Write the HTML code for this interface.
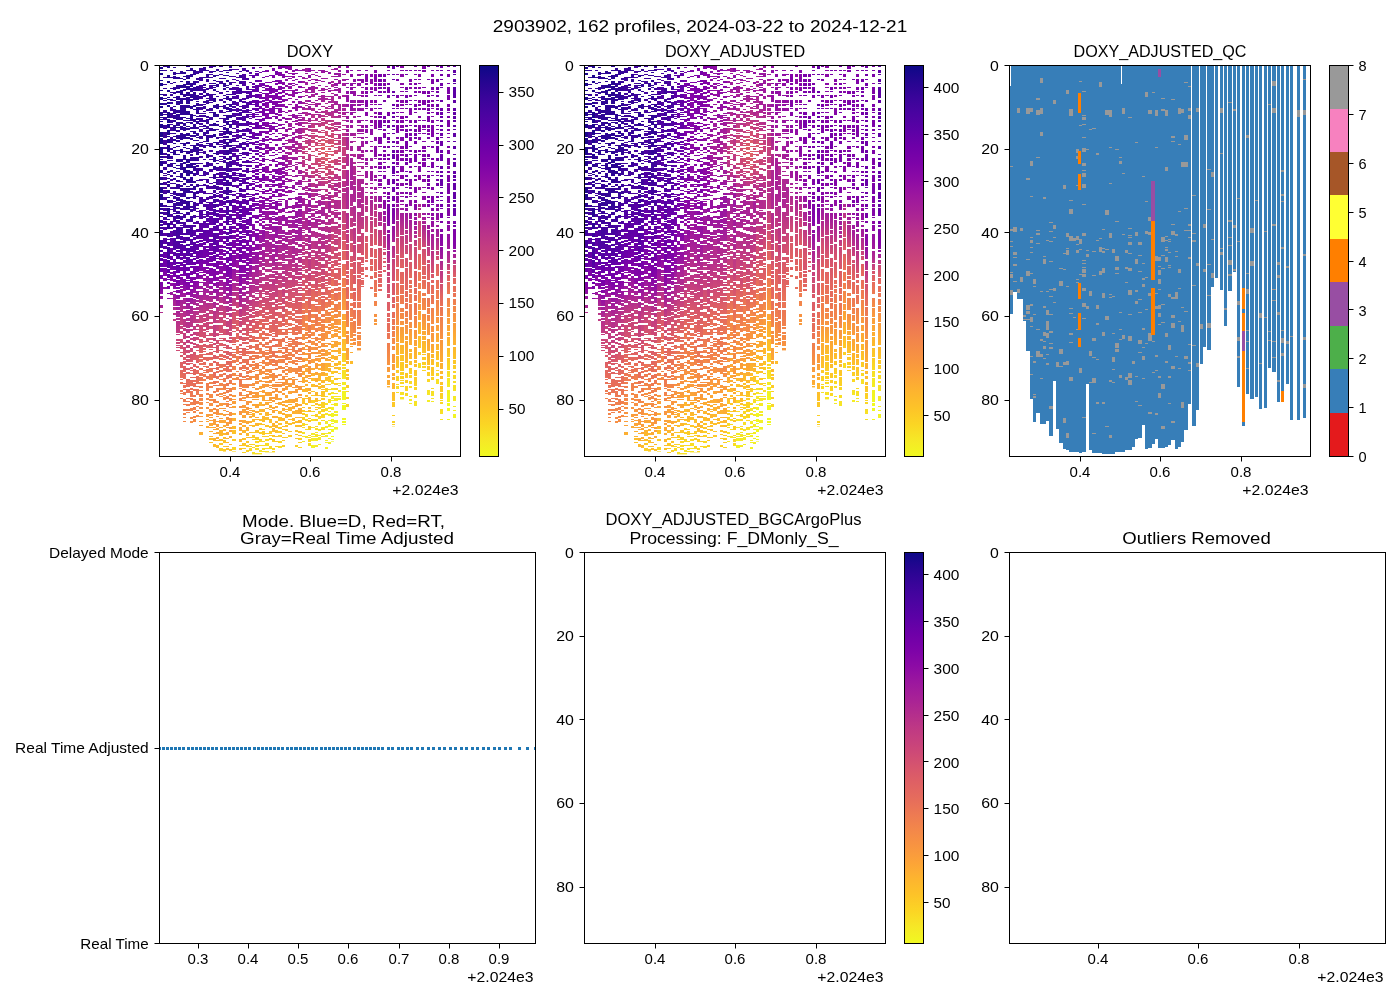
<!DOCTYPE html><html><head><meta charset="utf-8"><title>2903902 DOXY</title><style>html,body{margin:0;padding:0;background:#fff}svg{display:block}text{font-family:"Liberation Sans",sans-serif;fill:#000}</style></head><body>
<svg width="1400" height="1000" viewBox="0 0 1400 1000">
<rect width="1400" height="1000" fill="#fff"/>
<defs>
<linearGradient id="cb" x1="0" y1="0" x2="0" y2="1"><stop offset="0%" stop-color="#0d0887"/><stop offset="4.2%" stop-color="#260591"/><stop offset="8.3%" stop-color="#3a049a"/><stop offset="12.5%" stop-color="#4b03a1"/><stop offset="16.7%" stop-color="#5c01a6"/><stop offset="20.8%" stop-color="#6e00a8"/><stop offset="25%" stop-color="#7d03a8"/><stop offset="29.2%" stop-color="#8d0ba5"/><stop offset="33.3%" stop-color="#9c179e"/><stop offset="37.5%" stop-color="#a82296"/><stop offset="41.7%" stop-color="#b52f8c"/><stop offset="45.8%" stop-color="#c13b82"/><stop offset="50%" stop-color="#cb4679"/><stop offset="54.2%" stop-color="#d5536f"/><stop offset="58.3%" stop-color="#de5f65"/><stop offset="62.5%" stop-color="#e56b5d"/><stop offset="66.7%" stop-color="#ed7953"/><stop offset="70.8%" stop-color="#f3874a"/><stop offset="75%" stop-color="#f89441"/><stop offset="79.2%" stop-color="#fca338"/><stop offset="83.3%" stop-color="#fdb42f"/><stop offset="87.5%" stop-color="#fdc328"/><stop offset="91.7%" stop-color="#fbd524"/><stop offset="95.8%" stop-color="#f6e826"/><stop offset="100%" stop-color="#f0f921"/></linearGradient>
<linearGradient id="g" gradientUnits="userSpaceOnUse" x1="0" y1="65.5" x2="0" y2="484.2"/>
<linearGradient id="g0" href="#g"><stop offset="." stop-color="#1b068d"/><stop offset=".05" stop-color="#19068c"/><stop offset=".1" stop-color="#20068f"/><stop offset=".15" stop-color="#1b068d"/><stop offset=".2" stop-color="#1b068d"/><stop offset=".25" stop-color="#260591"/><stop offset=".3" stop-color="#20068f"/><stop offset=".33" stop-color="#260591"/><stop offset=".36" stop-color="#310597"/><stop offset=".4" stop-color="#3e049c"/><stop offset=".43" stop-color="#46039f"/><stop offset=".46" stop-color="#5601a4"/><stop offset=".48" stop-color="#6300a7"/><stop offset=".5" stop-color="#7201a8"/><stop offset=".52" stop-color="#7d03a8"/><stop offset=".55" stop-color="#9511a1"/><stop offset=".6" stop-color="#b83289"/></linearGradient>
<linearGradient id="g1" href="#g"><stop offset="." stop-color="#38049a"/><stop offset=".05" stop-color="#3a049a"/><stop offset=".1" stop-color="#310597"/><stop offset=".15" stop-color="#3a049a"/><stop offset=".2" stop-color="#3f049c"/><stop offset=".25" stop-color="#3e049c"/><stop offset=".3" stop-color="#46039f"/><stop offset=".33" stop-color="#3e049c"/><stop offset=".36" stop-color="#46039f"/><stop offset=".4" stop-color="#5502a4"/><stop offset=".43" stop-color="#5801a4"/><stop offset=".46" stop-color="#6a00a8"/><stop offset=".48" stop-color="#6e00a8"/><stop offset=".5" stop-color="#8104a7"/><stop offset=".52" stop-color="#8a09a5"/><stop offset=".55" stop-color="#a11b9b"/></linearGradient>
<linearGradient id="g2" href="#g"><stop offset="." stop-color="#20068f"/><stop offset=".05" stop-color="#19068c"/><stop offset=".1" stop-color="#1d068e"/><stop offset=".15" stop-color="#1b068d"/><stop offset=".2" stop-color="#220690"/><stop offset=".25" stop-color="#280592"/><stop offset=".3" stop-color="#2c0594"/><stop offset=".33" stop-color="#260591"/><stop offset=".36" stop-color="#240691"/><stop offset=".4" stop-color="#38049a"/><stop offset=".43" stop-color="#46039f"/><stop offset=".46" stop-color="#48039f"/><stop offset=".48" stop-color="#5801a4"/><stop offset=".5" stop-color="#6400a7"/><stop offset=".52" stop-color="#7100a8"/><stop offset=".55" stop-color="#8a09a5"/><stop offset=".6" stop-color="#b02991"/></linearGradient>
<linearGradient id="g3" href="#g"><stop offset="." stop-color="#38049a"/><stop offset=".05" stop-color="#350498"/><stop offset=".1" stop-color="#3a049a"/><stop offset=".15" stop-color="#3f049c"/><stop offset=".2" stop-color="#38049a"/><stop offset=".25" stop-color="#350498"/><stop offset=".3" stop-color="#3f049c"/><stop offset=".33" stop-color="#46039f"/><stop offset=".36" stop-color="#4c02a1"/><stop offset=".4" stop-color="#5801a4"/><stop offset=".43" stop-color="#6001a6"/><stop offset=".46" stop-color="#6e00a8"/><stop offset=".48" stop-color="#6f00a8"/><stop offset=".5" stop-color="#8104a7"/><stop offset=".52" stop-color="#8e0ca4"/><stop offset=".55" stop-color="#a01a9c"/><stop offset=".6" stop-color="#c03a83"/></linearGradient>
<linearGradient id="g4" href="#g"><stop offset="." stop-color="#2c0594"/><stop offset=".05" stop-color="#2f0596"/><stop offset=".1" stop-color="#350498"/><stop offset=".15" stop-color="#2c0594"/><stop offset=".2" stop-color="#2a0593"/><stop offset=".25" stop-color="#2f0596"/><stop offset=".3" stop-color="#370499"/><stop offset=".33" stop-color="#38049a"/><stop offset=".36" stop-color="#41049d"/><stop offset=".4" stop-color="#4c02a1"/><stop offset=".43" stop-color="#5102a3"/><stop offset=".46" stop-color="#5b01a5"/><stop offset=".48" stop-color="#6a00a8"/><stop offset=".5" stop-color="#7701a8"/><stop offset=".52" stop-color="#8405a7"/><stop offset=".55" stop-color="#9d189d"/><stop offset=".6" stop-color="#be3885"/><stop offset=".65" stop-color="#ca457a"/></linearGradient>
<linearGradient id="g5" href="#g"><stop offset="." stop-color="#2a0593"/><stop offset=".05" stop-color="#2e0595"/><stop offset=".1" stop-color="#2e0595"/><stop offset=".15" stop-color="#2f0596"/><stop offset=".2" stop-color="#2c0594"/><stop offset=".25" stop-color="#2e0595"/><stop offset=".3" stop-color="#370499"/><stop offset=".33" stop-color="#330597"/><stop offset=".36" stop-color="#3c049b"/><stop offset=".4" stop-color="#41049d"/><stop offset=".43" stop-color="#5002a2"/><stop offset=".46" stop-color="#5302a3"/><stop offset=".48" stop-color="#6400a7"/><stop offset=".5" stop-color="#6f00a8"/><stop offset=".52" stop-color="#7801a8"/><stop offset=".55" stop-color="#8e0ca4"/><stop offset=".6" stop-color="#b12a90"/><stop offset=".65" stop-color="#c7427c"/><stop offset=".7" stop-color="#d45270"/></linearGradient>
<linearGradient id="g6" href="#g"><stop offset="." stop-color="#2e0595"/><stop offset=".05" stop-color="#240691"/><stop offset=".1" stop-color="#2e0595"/><stop offset=".15" stop-color="#2f0596"/><stop offset=".2" stop-color="#2a0593"/><stop offset=".25" stop-color="#2e0595"/><stop offset=".3" stop-color="#330597"/><stop offset=".33" stop-color="#350498"/><stop offset=".36" stop-color="#3e049c"/><stop offset=".4" stop-color="#4b03a1"/><stop offset=".43" stop-color="#5302a3"/><stop offset=".46" stop-color="#6100a7"/><stop offset=".48" stop-color="#7100a8"/><stop offset=".5" stop-color="#7b02a8"/><stop offset=".52" stop-color="#8b0aa5"/><stop offset=".55" stop-color="#9e199d"/><stop offset=".6" stop-color="#bf3984"/><stop offset=".65" stop-color="#cc4778"/><stop offset=".7" stop-color="#db5c68"/><stop offset=".75" stop-color="#e87059"/><stop offset=".8" stop-color="#f2844b"/></linearGradient>
<linearGradient id="g7" href="#g"><stop offset="." stop-color="#260591"/><stop offset=".05" stop-color="#2a0593"/><stop offset=".1" stop-color="#2e0595"/><stop offset=".15" stop-color="#2e0595"/><stop offset=".2" stop-color="#2a0593"/><stop offset=".25" stop-color="#2e0595"/><stop offset=".3" stop-color="#330597"/><stop offset=".33" stop-color="#370499"/><stop offset=".36" stop-color="#43039e"/><stop offset=".4" stop-color="#4b03a1"/><stop offset=".43" stop-color="#5901a5"/><stop offset=".46" stop-color="#6100a7"/><stop offset=".48" stop-color="#6a00a8"/><stop offset=".5" stop-color="#7701a8"/><stop offset=".52" stop-color="#8405a7"/><stop offset=".55" stop-color="#a21d9a"/><stop offset=".6" stop-color="#b83289"/><stop offset=".65" stop-color="#c43e7f"/><stop offset=".7" stop-color="#d9586a"/><stop offset=".75" stop-color="#e76e5b"/><stop offset=".8" stop-color="#ee7b51"/><stop offset=".85" stop-color="#f58b47"/><stop offset=".9" stop-color="#fdb52e"/></linearGradient>
<linearGradient id="g8" href="#g"><stop offset="." stop-color="#2a0593"/><stop offset=".05" stop-color="#260591"/><stop offset=".1" stop-color="#2c0594"/><stop offset=".15" stop-color="#2a0593"/><stop offset=".2" stop-color="#2a0593"/><stop offset=".25" stop-color="#2a0593"/><stop offset=".3" stop-color="#2e0595"/><stop offset=".33" stop-color="#2f0596"/><stop offset=".36" stop-color="#3c049b"/><stop offset=".4" stop-color="#46039f"/><stop offset=".43" stop-color="#4b03a1"/><stop offset=".46" stop-color="#5601a4"/><stop offset=".48" stop-color="#6700a8"/><stop offset=".5" stop-color="#6e00a8"/><stop offset=".52" stop-color="#7e03a8"/><stop offset=".55" stop-color="#920fa3"/><stop offset=".6" stop-color="#b22b8f"/><stop offset=".65" stop-color="#be3885"/><stop offset=".7" stop-color="#d5536f"/><stop offset=".75" stop-color="#e56a5d"/><stop offset=".8" stop-color="#ed7a52"/><stop offset=".85" stop-color="#f3874a"/></linearGradient>
<linearGradient id="g9" href="#g"><stop offset="." stop-color="#2e0595"/><stop offset=".05" stop-color="#310597"/><stop offset=".1" stop-color="#2a0593"/><stop offset=".15" stop-color="#310597"/><stop offset=".2" stop-color="#370499"/><stop offset=".25" stop-color="#2a0593"/><stop offset=".3" stop-color="#3c049b"/><stop offset=".33" stop-color="#370499"/><stop offset=".36" stop-color="#3c049b"/><stop offset=".4" stop-color="#4c02a1"/><stop offset=".43" stop-color="#5b01a5"/><stop offset=".46" stop-color="#5b01a5"/><stop offset=".48" stop-color="#6e00a8"/><stop offset=".5" stop-color="#7a02a8"/><stop offset=".52" stop-color="#8405a7"/><stop offset=".55" stop-color="#9613a1"/><stop offset=".6" stop-color="#b6308b"/><stop offset=".65" stop-color="#c33d80"/><stop offset=".7" stop-color="#d9586a"/><stop offset=".75" stop-color="#e56a5d"/><stop offset=".8" stop-color="#ef7e50"/><stop offset=".85" stop-color="#f68f44"/><stop offset=".9" stop-color="#fca934"/></linearGradient>
<linearGradient id="g10" href="#g"><stop offset="." stop-color="#310597"/><stop offset=".05" stop-color="#310597"/><stop offset=".1" stop-color="#2f0596"/><stop offset=".15" stop-color="#310597"/><stop offset=".2" stop-color="#2e0595"/><stop offset=".25" stop-color="#330597"/><stop offset=".3" stop-color="#310597"/><stop offset=".33" stop-color="#3e049c"/><stop offset=".36" stop-color="#46039f"/><stop offset=".4" stop-color="#5502a4"/><stop offset=".43" stop-color="#5901a5"/><stop offset=".46" stop-color="#6100a7"/><stop offset=".48" stop-color="#7100a8"/><stop offset=".5" stop-color="#7a02a8"/><stop offset=".52" stop-color="#8606a6"/><stop offset=".55" stop-color="#9e199d"/><stop offset=".6" stop-color="#bc3587"/><stop offset=".65" stop-color="#c5407e"/><stop offset=".7" stop-color="#db5c68"/><stop offset=".75" stop-color="#e66c5c"/><stop offset=".8" stop-color="#ee7b51"/><stop offset=".85" stop-color="#f68d45"/><stop offset=".9" stop-color="#fdb130"/></linearGradient>
<linearGradient id="g11" href="#g"><stop offset="." stop-color="#330597"/><stop offset=".05" stop-color="#38049a"/><stop offset=".1" stop-color="#2e0595"/><stop offset=".15" stop-color="#330597"/><stop offset=".2" stop-color="#2f0596"/><stop offset=".25" stop-color="#3c049b"/><stop offset=".3" stop-color="#370499"/><stop offset=".33" stop-color="#44039e"/><stop offset=".36" stop-color="#4903a0"/><stop offset=".4" stop-color="#5901a5"/><stop offset=".43" stop-color="#5e01a6"/><stop offset=".46" stop-color="#6900a8"/><stop offset=".48" stop-color="#7401a8"/><stop offset=".5" stop-color="#7d03a8"/><stop offset=".52" stop-color="#8b0aa5"/><stop offset=".55" stop-color="#9e199d"/><stop offset=".6" stop-color="#bf3984"/><stop offset=".65" stop-color="#cb4679"/><stop offset=".7" stop-color="#de5f65"/><stop offset=".75" stop-color="#e76f5a"/><stop offset=".8" stop-color="#f07f4f"/><stop offset=".85" stop-color="#f79143"/></linearGradient>
<linearGradient id="g12" href="#g"><stop offset="." stop-color="#38049a"/><stop offset=".05" stop-color="#3e049c"/><stop offset=".1" stop-color="#3f049c"/><stop offset=".15" stop-color="#3e049c"/><stop offset=".2" stop-color="#41049d"/><stop offset=".25" stop-color="#41049d"/><stop offset=".3" stop-color="#48039f"/><stop offset=".33" stop-color="#4903a0"/><stop offset=".36" stop-color="#5302a3"/><stop offset=".4" stop-color="#6300a7"/><stop offset=".43" stop-color="#6600a7"/><stop offset=".46" stop-color="#6f00a8"/><stop offset=".48" stop-color="#8004a8"/><stop offset=".5" stop-color="#8808a6"/><stop offset=".52" stop-color="#9c179e"/><stop offset=".55" stop-color="#a72197"/><stop offset=".6" stop-color="#c6417d"/><stop offset=".65" stop-color="#d45270"/><stop offset=".7" stop-color="#e56b5d"/><stop offset=".75" stop-color="#ed7a52"/><stop offset=".8" stop-color="#f48948"/><stop offset=".85" stop-color="#fa9e3b"/><stop offset=".9" stop-color="#febb2b"/></linearGradient>
<linearGradient id="g13" href="#g"><stop offset="." stop-color="#350498"/><stop offset=".05" stop-color="#370499"/><stop offset=".1" stop-color="#38049a"/><stop offset=".15" stop-color="#350498"/><stop offset=".2" stop-color="#3e049c"/><stop offset=".25" stop-color="#41049d"/><stop offset=".3" stop-color="#44039e"/><stop offset=".33" stop-color="#4903a0"/><stop offset=".36" stop-color="#5601a4"/><stop offset=".4" stop-color="#5c01a6"/><stop offset=".43" stop-color="#6c00a8"/><stop offset=".46" stop-color="#7501a8"/><stop offset=".48" stop-color="#8104a7"/><stop offset=".5" stop-color="#920fa3"/><stop offset=".52" stop-color="#9a169f"/><stop offset=".55" stop-color="#ac2694"/><stop offset=".6" stop-color="#c7427c"/><stop offset=".65" stop-color="#d35171"/><stop offset=".7" stop-color="#e26660"/><stop offset=".75" stop-color="#f07f4f"/><stop offset=".8" stop-color="#f79143"/></linearGradient>
<linearGradient id="g14" href="#g"><stop offset="." stop-color="#310597"/><stop offset=".05" stop-color="#350498"/><stop offset=".1" stop-color="#38049a"/><stop offset=".15" stop-color="#38049a"/><stop offset=".2" stop-color="#2c0594"/><stop offset=".25" stop-color="#3f049c"/><stop offset=".3" stop-color="#48039f"/><stop offset=".33" stop-color="#4c02a1"/><stop offset=".36" stop-color="#5302a3"/><stop offset=".4" stop-color="#6001a6"/><stop offset=".43" stop-color="#6a00a8"/><stop offset=".46" stop-color="#7801a8"/><stop offset=".48" stop-color="#7d03a8"/><stop offset=".5" stop-color="#8b0aa5"/><stop offset=".52" stop-color="#9d189d"/><stop offset=".55" stop-color="#aa2395"/><stop offset=".6" stop-color="#c43e7f"/><stop offset=".65" stop-color="#d24f71"/><stop offset=".7" stop-color="#e4695e"/><stop offset=".75" stop-color="#ed7953"/><stop offset=".8" stop-color="#f68d45"/><stop offset=".85" stop-color="#fca537"/><stop offset=".9" stop-color="#febe2a"/></linearGradient>
<linearGradient id="g15" href="#g"><stop offset="." stop-color="#43039e"/><stop offset=".05" stop-color="#3e049c"/><stop offset=".1" stop-color="#3e049c"/><stop offset=".15" stop-color="#370499"/><stop offset=".2" stop-color="#43039e"/><stop offset=".25" stop-color="#4903a0"/><stop offset=".3" stop-color="#4c02a1"/><stop offset=".33" stop-color="#5601a4"/><stop offset=".36" stop-color="#5c01a6"/><stop offset=".4" stop-color="#6300a7"/><stop offset=".43" stop-color="#6a00a8"/><stop offset=".46" stop-color="#7100a8"/><stop offset=".48" stop-color="#8305a7"/><stop offset=".5" stop-color="#8104a7"/><stop offset=".52" stop-color="#910ea3"/><stop offset=".55" stop-color="#ab2494"/><stop offset=".6" stop-color="#cc4778"/><stop offset=".65" stop-color="#d24f71"/><stop offset=".7" stop-color="#e4695e"/><stop offset=".75" stop-color="#f1814d"/><stop offset=".8" stop-color="#f68d45"/><stop offset=".85" stop-color="#fba139"/><stop offset=".9" stop-color="#fdc229"/><stop offset=".94" stop-color="#fad824"/></linearGradient>
<linearGradient id="g16" href="#g"><stop offset="." stop-color="#280592"/><stop offset=".05" stop-color="#2a0593"/><stop offset=".1" stop-color="#2c0594"/><stop offset=".15" stop-color="#280592"/><stop offset=".2" stop-color="#280592"/><stop offset=".25" stop-color="#330597"/><stop offset=".3" stop-color="#43039e"/><stop offset=".33" stop-color="#41049d"/><stop offset=".36" stop-color="#5102a3"/><stop offset=".4" stop-color="#5601a4"/><stop offset=".43" stop-color="#5801a4"/><stop offset=".46" stop-color="#6900a8"/><stop offset=".48" stop-color="#7701a8"/><stop offset=".5" stop-color="#8305a7"/><stop offset=".52" stop-color="#8808a6"/><stop offset=".55" stop-color="#a11b9b"/><stop offset=".6" stop-color="#be3885"/><stop offset=".65" stop-color="#c8437b"/><stop offset=".7" stop-color="#de5f65"/><stop offset=".75" stop-color="#e97158"/><stop offset=".8" stop-color="#f2844b"/><stop offset=".85" stop-color="#fa9e3b"/><stop offset=".9" stop-color="#feb72d"/><stop offset=".94" stop-color="#fdca26"/></linearGradient>
<linearGradient id="g17" href="#g"><stop offset="." stop-color="#330597"/><stop offset=".05" stop-color="#330597"/><stop offset=".1" stop-color="#2f0596"/><stop offset=".15" stop-color="#38049a"/><stop offset=".2" stop-color="#370499"/><stop offset=".25" stop-color="#43039e"/><stop offset=".3" stop-color="#41049d"/><stop offset=".33" stop-color="#4c02a1"/><stop offset=".36" stop-color="#5502a4"/><stop offset=".4" stop-color="#5901a5"/><stop offset=".43" stop-color="#6300a7"/><stop offset=".46" stop-color="#7100a8"/><stop offset=".48" stop-color="#7801a8"/><stop offset=".5" stop-color="#8808a6"/><stop offset=".52" stop-color="#8f0da4"/><stop offset=".55" stop-color="#a31e9a"/><stop offset=".6" stop-color="#c6417d"/><stop offset=".65" stop-color="#cc4778"/><stop offset=".7" stop-color="#e26561"/><stop offset=".75" stop-color="#eb7556"/><stop offset=".8" stop-color="#f48948"/><stop offset=".85" stop-color="#f9983e"/><stop offset=".9" stop-color="#fdb42f"/><stop offset=".94" stop-color="#fbd324"/></linearGradient>
<linearGradient id="g18" href="#g"><stop offset="." stop-color="#3e049c"/><stop offset=".05" stop-color="#41049d"/><stop offset=".1" stop-color="#43039e"/><stop offset=".15" stop-color="#3f049c"/><stop offset=".2" stop-color="#4c02a1"/><stop offset=".25" stop-color="#4c02a1"/><stop offset=".3" stop-color="#5601a4"/><stop offset=".33" stop-color="#5b01a5"/><stop offset=".36" stop-color="#6600a7"/><stop offset=".4" stop-color="#7100a8"/><stop offset=".43" stop-color="#7501a8"/><stop offset=".46" stop-color="#8305a7"/><stop offset=".48" stop-color="#8707a6"/><stop offset=".5" stop-color="#920fa3"/><stop offset=".52" stop-color="#9e199d"/><stop offset=".55" stop-color="#b22b8f"/><stop offset=".6" stop-color="#cb4679"/><stop offset=".65" stop-color="#d6556d"/><stop offset=".7" stop-color="#e76e5b"/><stop offset=".75" stop-color="#f0804e"/><stop offset=".8" stop-color="#f9973f"/><stop offset=".85" stop-color="#fca636"/><stop offset=".9" stop-color="#fdc527"/><stop offset=".94" stop-color="#f9dd25"/></linearGradient>
<linearGradient id="g19" href="#g"><stop offset="." stop-color="#370499"/><stop offset=".05" stop-color="#310597"/><stop offset=".1" stop-color="#3e049c"/><stop offset=".15" stop-color="#3a049a"/><stop offset=".2" stop-color="#3f049c"/><stop offset=".25" stop-color="#41049d"/><stop offset=".3" stop-color="#4b03a1"/><stop offset=".33" stop-color="#5102a3"/><stop offset=".36" stop-color="#6700a8"/><stop offset=".4" stop-color="#6900a8"/><stop offset=".43" stop-color="#7100a8"/><stop offset=".46" stop-color="#7a02a8"/><stop offset=".48" stop-color="#8405a7"/><stop offset=".5" stop-color="#8e0ca4"/><stop offset=".52" stop-color="#9814a0"/><stop offset=".55" stop-color="#a72197"/><stop offset=".6" stop-color="#ce4b75"/><stop offset=".65" stop-color="#d5536f"/><stop offset=".7" stop-color="#e56a5d"/><stop offset=".75" stop-color="#ef7e50"/><stop offset=".8" stop-color="#f79143"/><stop offset=".85" stop-color="#fca835"/><stop offset=".9" stop-color="#fdc328"/><stop offset=".94" stop-color="#fbd324"/></linearGradient>
<linearGradient id="g20" href="#g"><stop offset="." stop-color="#310597"/><stop offset=".05" stop-color="#2f0596"/><stop offset=".1" stop-color="#310597"/><stop offset=".15" stop-color="#2f0596"/><stop offset=".2" stop-color="#330597"/><stop offset=".25" stop-color="#3e049c"/><stop offset=".3" stop-color="#3f049c"/><stop offset=".33" stop-color="#4e02a2"/><stop offset=".36" stop-color="#5002a2"/><stop offset=".4" stop-color="#5801a4"/><stop offset=".43" stop-color="#6700a8"/><stop offset=".46" stop-color="#6c00a8"/><stop offset=".48" stop-color="#7b02a8"/><stop offset=".5" stop-color="#7e03a8"/><stop offset=".52" stop-color="#8b0aa5"/><stop offset=".55" stop-color="#a21d9a"/><stop offset=".6" stop-color="#c03a83"/><stop offset=".65" stop-color="#cf4c74"/><stop offset=".7" stop-color="#e16462"/><stop offset=".75" stop-color="#eb7655"/><stop offset=".8" stop-color="#f3874a"/><stop offset=".85" stop-color="#f99a3e"/><stop offset=".9" stop-color="#fdb42f"/><stop offset=".94" stop-color="#fcce25"/></linearGradient>
<linearGradient id="g21" href="#g"><stop offset="." stop-color="#350498"/><stop offset=".05" stop-color="#3a049a"/><stop offset=".1" stop-color="#330597"/><stop offset=".15" stop-color="#330597"/><stop offset=".2" stop-color="#3a049a"/><stop offset=".25" stop-color="#44039e"/><stop offset=".3" stop-color="#44039e"/><stop offset=".33" stop-color="#48039f"/><stop offset=".36" stop-color="#5b01a5"/><stop offset=".4" stop-color="#5c01a6"/><stop offset=".43" stop-color="#6700a8"/><stop offset=".46" stop-color="#7100a8"/><stop offset=".48" stop-color="#7701a8"/><stop offset=".5" stop-color="#8606a6"/><stop offset=".52" stop-color="#8d0ba5"/><stop offset=".55" stop-color="#9d189d"/><stop offset=".6" stop-color="#c03a83"/><stop offset=".65" stop-color="#d14e72"/><stop offset=".7" stop-color="#e3685f"/><stop offset=".75" stop-color="#ed7953"/><stop offset=".8" stop-color="#f58c46"/><stop offset=".85" stop-color="#f89540"/><stop offset=".9" stop-color="#fdb52e"/><stop offset=".94" stop-color="#fcce25"/></linearGradient>
<linearGradient id="g22" href="#g"><stop offset="." stop-color="#48039f"/><stop offset=".05" stop-color="#4c02a1"/><stop offset=".1" stop-color="#44039e"/><stop offset=".15" stop-color="#4e02a2"/><stop offset=".2" stop-color="#5102a3"/><stop offset=".25" stop-color="#5302a3"/><stop offset=".3" stop-color="#5601a4"/><stop offset=".33" stop-color="#5e01a6"/><stop offset=".36" stop-color="#6c00a8"/><stop offset=".4" stop-color="#7201a8"/><stop offset=".43" stop-color="#7b02a8"/><stop offset=".46" stop-color="#8606a6"/><stop offset=".48" stop-color="#8f0da4"/><stop offset=".5" stop-color="#9d189d"/><stop offset=".52" stop-color="#aa2395"/><stop offset=".55" stop-color="#b7318a"/><stop offset=".6" stop-color="#d5536f"/><stop offset=".65" stop-color="#dd5e66"/><stop offset=".7" stop-color="#ec7754"/><stop offset=".75" stop-color="#f68d45"/><stop offset=".8" stop-color="#fa9e3b"/><stop offset=".85" stop-color="#fdb42f"/><stop offset=".9" stop-color="#fcd025"/><stop offset=".94" stop-color="#f8df25"/></linearGradient>
<linearGradient id="g23" href="#g"><stop offset="." stop-color="#4903a0"/><stop offset=".05" stop-color="#4c02a1"/><stop offset=".1" stop-color="#4e02a2"/><stop offset=".15" stop-color="#5002a2"/><stop offset=".2" stop-color="#5502a4"/><stop offset=".25" stop-color="#5502a4"/><stop offset=".3" stop-color="#6300a7"/><stop offset=".33" stop-color="#6700a8"/><stop offset=".36" stop-color="#7100a8"/><stop offset=".4" stop-color="#7b02a8"/><stop offset=".43" stop-color="#7e03a8"/><stop offset=".46" stop-color="#8b0aa5"/><stop offset=".48" stop-color="#9a169f"/><stop offset=".5" stop-color="#a31e9a"/><stop offset=".52" stop-color="#ab2494"/><stop offset=".55" stop-color="#bc3587"/><stop offset=".6" stop-color="#d7566c"/><stop offset=".65" stop-color="#e3685f"/><stop offset=".7" stop-color="#f1814d"/><stop offset=".75" stop-color="#f48948"/><stop offset=".8" stop-color="#fba238"/></linearGradient>
<linearGradient id="g24" href="#g"><stop offset="." stop-color="#370499"/><stop offset=".05" stop-color="#3a049a"/><stop offset=".1" stop-color="#3f049c"/><stop offset=".15" stop-color="#3f049c"/><stop offset=".2" stop-color="#44039e"/><stop offset=".25" stop-color="#43039e"/><stop offset=".3" stop-color="#4c02a1"/><stop offset=".33" stop-color="#5502a4"/><stop offset=".36" stop-color="#5801a4"/><stop offset=".4" stop-color="#5e01a6"/><stop offset=".43" stop-color="#6a00a8"/><stop offset=".46" stop-color="#7701a8"/><stop offset=".48" stop-color="#7e03a8"/><stop offset=".5" stop-color="#8808a6"/><stop offset=".52" stop-color="#8d0ba5"/><stop offset=".55" stop-color="#a21d9a"/><stop offset=".6" stop-color="#c33d80"/><stop offset=".65" stop-color="#d5546e"/><stop offset=".7" stop-color="#e56b5d"/><stop offset=".75" stop-color="#ed7953"/><stop offset=".8" stop-color="#f48849"/><stop offset=".85" stop-color="#fb9f3a"/><stop offset=".9" stop-color="#feba2c"/><stop offset=".94" stop-color="#fccd25"/></linearGradient>
<linearGradient id="g25" href="#g"><stop offset="." stop-color="#4903a0"/><stop offset=".05" stop-color="#4c02a1"/><stop offset=".1" stop-color="#4b03a1"/><stop offset=".15" stop-color="#4e02a2"/><stop offset=".2" stop-color="#4b03a1"/><stop offset=".25" stop-color="#5601a4"/><stop offset=".3" stop-color="#5801a4"/><stop offset=".33" stop-color="#6100a7"/><stop offset=".36" stop-color="#6c00a8"/><stop offset=".4" stop-color="#7401a8"/><stop offset=".43" stop-color="#7401a8"/><stop offset=".46" stop-color="#8305a7"/><stop offset=".48" stop-color="#8405a7"/><stop offset=".5" stop-color="#8d0ba5"/><stop offset=".52" stop-color="#9d189d"/><stop offset=".55" stop-color="#a82296"/><stop offset=".6" stop-color="#cc4778"/><stop offset=".65" stop-color="#da5b69"/><stop offset=".7" stop-color="#e97257"/><stop offset=".75" stop-color="#f1814d"/><stop offset=".8" stop-color="#f99a3e"/><stop offset=".85" stop-color="#fca934"/><stop offset=".9" stop-color="#fdc627"/><stop offset=".94" stop-color="#f9dc24"/></linearGradient>
<linearGradient id="g26" href="#g"><stop offset="." stop-color="#46039f"/><stop offset=".05" stop-color="#46039f"/><stop offset=".1" stop-color="#48039f"/><stop offset=".15" stop-color="#5102a3"/><stop offset=".2" stop-color="#4e02a2"/><stop offset=".25" stop-color="#5002a2"/><stop offset=".3" stop-color="#5801a4"/><stop offset=".33" stop-color="#5b01a5"/><stop offset=".36" stop-color="#6900a8"/><stop offset=".4" stop-color="#6900a8"/><stop offset=".43" stop-color="#7701a8"/><stop offset=".46" stop-color="#8004a8"/><stop offset=".48" stop-color="#8606a6"/><stop offset=".5" stop-color="#920fa3"/><stop offset=".52" stop-color="#9c179e"/><stop offset=".55" stop-color="#b02991"/><stop offset=".6" stop-color="#cd4a76"/><stop offset=".65" stop-color="#de5f65"/><stop offset=".7" stop-color="#e97158"/><stop offset=".75" stop-color="#f07f4f"/><stop offset=".8" stop-color="#f89441"/><stop offset=".85" stop-color="#fca537"/><stop offset=".9" stop-color="#fdc527"/><stop offset=".94" stop-color="#f9dc24"/></linearGradient>
<linearGradient id="g27" href="#g"><stop offset="." stop-color="#5302a3"/><stop offset=".05" stop-color="#5801a4"/><stop offset=".1" stop-color="#5801a4"/><stop offset=".15" stop-color="#5c01a6"/><stop offset=".2" stop-color="#6001a6"/><stop offset=".25" stop-color="#5c01a6"/><stop offset=".3" stop-color="#6600a7"/><stop offset=".33" stop-color="#6900a8"/><stop offset=".36" stop-color="#6c00a8"/><stop offset=".4" stop-color="#7a02a8"/><stop offset=".43" stop-color="#8104a7"/><stop offset=".46" stop-color="#8e0ca4"/><stop offset=".48" stop-color="#8e0ca4"/><stop offset=".5" stop-color="#a21d9a"/><stop offset=".52" stop-color="#aa2395"/><stop offset=".55" stop-color="#b83289"/><stop offset=".6" stop-color="#ce4b75"/><stop offset=".65" stop-color="#e06363"/><stop offset=".7" stop-color="#ec7754"/><stop offset=".75" stop-color="#f58c46"/><stop offset=".8" stop-color="#fa9b3d"/><stop offset=".85" stop-color="#fdaf31"/><stop offset=".9" stop-color="#fccd25"/><stop offset=".94" stop-color="#f6e626"/></linearGradient>
<linearGradient id="g28" href="#g"><stop offset="." stop-color="#5e01a6"/><stop offset=".05" stop-color="#6300a7"/><stop offset=".1" stop-color="#6600a7"/><stop offset=".15" stop-color="#6e00a8"/><stop offset=".2" stop-color="#6a00a8"/><stop offset=".25" stop-color="#6f00a8"/><stop offset=".3" stop-color="#6e00a8"/><stop offset=".33" stop-color="#7401a8"/><stop offset=".36" stop-color="#8004a8"/><stop offset=".4" stop-color="#8808a6"/><stop offset=".43" stop-color="#8b0aa5"/><stop offset=".46" stop-color="#9613a1"/><stop offset=".48" stop-color="#a11b9b"/><stop offset=".5" stop-color="#ae2892"/><stop offset=".52" stop-color="#b12a90"/><stop offset=".55" stop-color="#bd3786"/><stop offset=".6" stop-color="#d5546e"/><stop offset=".65" stop-color="#e56b5d"/><stop offset=".7" stop-color="#f0804e"/><stop offset=".75" stop-color="#f79143"/><stop offset=".8" stop-color="#fba139"/><stop offset=".85" stop-color="#febb2b"/><stop offset=".9" stop-color="#fcd225"/><stop offset=".94" stop-color="#f5eb27"/></linearGradient>
<linearGradient id="g29" href="#g"><stop offset="." stop-color="#5c01a6"/><stop offset=".05" stop-color="#6100a7"/><stop offset=".1" stop-color="#6300a7"/><stop offset=".15" stop-color="#6300a7"/><stop offset=".2" stop-color="#6400a7"/><stop offset=".25" stop-color="#6f00a8"/><stop offset=".3" stop-color="#6a00a8"/><stop offset=".33" stop-color="#7401a8"/><stop offset=".36" stop-color="#7e03a8"/><stop offset=".4" stop-color="#8305a7"/><stop offset=".43" stop-color="#8e0ca4"/><stop offset=".46" stop-color="#9613a1"/><stop offset=".48" stop-color="#a31e9a"/><stop offset=".5" stop-color="#ad2793"/><stop offset=".52" stop-color="#b12a90"/><stop offset=".55" stop-color="#be3885"/><stop offset=".6" stop-color="#d7566c"/><stop offset=".65" stop-color="#e3685f"/><stop offset=".7" stop-color="#ef7e50"/><stop offset=".75" stop-color="#f79143"/><stop offset=".8" stop-color="#fba238"/><stop offset=".85" stop-color="#fdb130"/><stop offset=".9" stop-color="#fbd724"/><stop offset=".94" stop-color="#f8e125"/></linearGradient>
<linearGradient id="g30" href="#g"><stop offset="." stop-color="#7201a8"/><stop offset=".05" stop-color="#7b02a8"/><stop offset=".1" stop-color="#7b02a8"/><stop offset=".15" stop-color="#7801a8"/><stop offset=".2" stop-color="#8004a8"/><stop offset=".25" stop-color="#8405a7"/><stop offset=".3" stop-color="#8606a6"/><stop offset=".33" stop-color="#8e0ca4"/><stop offset=".36" stop-color="#8e0ca4"/><stop offset=".4" stop-color="#9a169f"/><stop offset=".43" stop-color="#9d189d"/><stop offset=".46" stop-color="#a62098"/><stop offset=".48" stop-color="#b12a90"/><stop offset=".5" stop-color="#b7318a"/><stop offset=".52" stop-color="#bd3786"/><stop offset=".55" stop-color="#ca457a"/><stop offset=".6" stop-color="#de6164"/><stop offset=".65" stop-color="#ed7953"/><stop offset=".7" stop-color="#f2844b"/><stop offset=".75" stop-color="#fa9b3d"/><stop offset=".8" stop-color="#fdb42f"/><stop offset=".85" stop-color="#fdc328"/><stop offset=".9" stop-color="#fada24"/><stop offset=".94" stop-color="#f5eb27"/></linearGradient>
<linearGradient id="g31" href="#g"><stop offset="." stop-color="#6900a8"/><stop offset=".05" stop-color="#7201a8"/><stop offset=".1" stop-color="#7501a8"/><stop offset=".15" stop-color="#7b02a8"/><stop offset=".2" stop-color="#7e03a8"/><stop offset=".25" stop-color="#7701a8"/><stop offset=".3" stop-color="#8004a8"/><stop offset=".33" stop-color="#8808a6"/><stop offset=".36" stop-color="#8f0da4"/><stop offset=".4" stop-color="#920fa3"/><stop offset=".43" stop-color="#a11b9b"/><stop offset=".46" stop-color="#a72197"/><stop offset=".48" stop-color="#ae2892"/><stop offset=".5" stop-color="#b6308b"/><stop offset=".52" stop-color="#c13b82"/><stop offset=".55" stop-color="#ca457a"/><stop offset=".6" stop-color="#db5c68"/><stop offset=".65" stop-color="#e97158"/><stop offset=".7" stop-color="#f3854b"/><stop offset=".75" stop-color="#f9983e"/><stop offset=".8" stop-color="#fca835"/><stop offset=".85" stop-color="#febe2a"/><stop offset=".9" stop-color="#fbd724"/><stop offset=".94" stop-color="#f6e826"/></linearGradient>
<linearGradient id="g32" href="#g"><stop offset="." stop-color="#7e03a8"/><stop offset=".05" stop-color="#8305a7"/><stop offset=".1" stop-color="#8405a7"/><stop offset=".15" stop-color="#8405a7"/><stop offset=".2" stop-color="#8a09a5"/><stop offset=".25" stop-color="#8d0ba5"/><stop offset=".3" stop-color="#8707a6"/><stop offset=".33" stop-color="#910ea3"/><stop offset=".36" stop-color="#99159f"/><stop offset=".4" stop-color="#a31e9a"/><stop offset=".43" stop-color="#a72197"/><stop offset=".46" stop-color="#b22b8f"/><stop offset=".48" stop-color="#b6308b"/><stop offset=".5" stop-color="#bb3488"/><stop offset=".52" stop-color="#c23c81"/><stop offset=".55" stop-color="#cb4679"/><stop offset=".6" stop-color="#de6164"/><stop offset=".65" stop-color="#eb7556"/><stop offset=".7" stop-color="#f3874a"/><stop offset=".75" stop-color="#f9983e"/><stop offset=".8" stop-color="#fca934"/><stop offset=".85" stop-color="#fec029"/><stop offset=".9" stop-color="#fada24"/><stop offset=".94" stop-color="#f5eb27"/></linearGradient>
<linearGradient id="g33" href="#g"><stop offset="." stop-color="#8004a8"/><stop offset=".05" stop-color="#7b02a8"/><stop offset=".1" stop-color="#8004a8"/><stop offset=".15" stop-color="#8305a7"/><stop offset=".2" stop-color="#8707a6"/><stop offset=".25" stop-color="#8707a6"/><stop offset=".3" stop-color="#8707a6"/><stop offset=".33" stop-color="#8d0ba5"/><stop offset=".36" stop-color="#9511a1"/><stop offset=".4" stop-color="#9e199d"/><stop offset=".43" stop-color="#a72197"/><stop offset=".46" stop-color="#ad2793"/><stop offset=".48" stop-color="#b42e8d"/><stop offset=".5" stop-color="#bd3786"/><stop offset=".52" stop-color="#c13b82"/><stop offset=".55" stop-color="#cb4679"/><stop offset=".6" stop-color="#dd5e66"/><stop offset=".65" stop-color="#e87059"/><stop offset=".7" stop-color="#f1814d"/><stop offset=".75" stop-color="#f89540"/><stop offset=".8" stop-color="#fca338"/><stop offset=".85" stop-color="#fdc229"/><stop offset=".9" stop-color="#fbd324"/><stop offset=".94" stop-color="#f6e826"/></linearGradient>
<linearGradient id="g34" href="#g"><stop offset="." stop-color="#7b02a8"/><stop offset=".05" stop-color="#8004a8"/><stop offset=".1" stop-color="#8004a8"/><stop offset=".15" stop-color="#8104a7"/><stop offset=".2" stop-color="#8606a6"/><stop offset=".25" stop-color="#8405a7"/><stop offset=".3" stop-color="#8405a7"/><stop offset=".33" stop-color="#8a09a5"/><stop offset=".36" stop-color="#8d0ba5"/><stop offset=".4" stop-color="#9d189d"/><stop offset=".43" stop-color="#a21d9a"/><stop offset=".46" stop-color="#a62098"/><stop offset=".48" stop-color="#b02991"/><stop offset=".5" stop-color="#b83289"/><stop offset=".52" stop-color="#bd3786"/><stop offset=".55" stop-color="#cb4679"/><stop offset=".6" stop-color="#db5c68"/><stop offset=".65" stop-color="#e4695e"/><stop offset=".7" stop-color="#ec7754"/><stop offset=".75" stop-color="#f79143"/><stop offset=".8" stop-color="#fa9e3b"/><stop offset=".85" stop-color="#fdae32"/><stop offset=".9" stop-color="#fccd25"/><stop offset=".94" stop-color="#f8df25"/></linearGradient>
<linearGradient id="g35" href="#g"><stop offset="." stop-color="#7401a8"/><stop offset=".05" stop-color="#7a02a8"/><stop offset=".1" stop-color="#8104a7"/><stop offset=".15" stop-color="#8004a8"/><stop offset=".2" stop-color="#8606a6"/><stop offset=".25" stop-color="#8004a8"/><stop offset=".3" stop-color="#7a02a8"/><stop offset=".33" stop-color="#8606a6"/><stop offset=".36" stop-color="#8f0da4"/><stop offset=".4" stop-color="#9613a1"/><stop offset=".43" stop-color="#a01a9c"/><stop offset=".46" stop-color="#a72197"/><stop offset=".48" stop-color="#b42e8d"/><stop offset=".5" stop-color="#ba3388"/><stop offset=".52" stop-color="#c33d80"/><stop offset=".55" stop-color="#c8437b"/><stop offset=".6" stop-color="#db5c68"/><stop offset=".65" stop-color="#e66c5c"/><stop offset=".7" stop-color="#ef7e50"/><stop offset=".75" stop-color="#f58c46"/><stop offset=".8" stop-color="#fba139"/><stop offset=".85" stop-color="#fdb42f"/><stop offset=".9" stop-color="#fdcb26"/><stop offset=".94" stop-color="#fbd724"/></linearGradient>
<linearGradient id="g36" href="#g"><stop offset="." stop-color="#8405a7"/><stop offset=".05" stop-color="#8104a7"/><stop offset=".1" stop-color="#8707a6"/><stop offset=".15" stop-color="#8d0ba5"/><stop offset=".2" stop-color="#910ea3"/><stop offset=".25" stop-color="#8b0aa5"/><stop offset=".3" stop-color="#8f0da4"/><stop offset=".33" stop-color="#9511a1"/><stop offset=".36" stop-color="#9d189d"/><stop offset=".4" stop-color="#a11b9b"/><stop offset=".43" stop-color="#ab2494"/><stop offset=".46" stop-color="#b42e8d"/><stop offset=".48" stop-color="#bb3488"/><stop offset=".5" stop-color="#be3885"/><stop offset=".52" stop-color="#c7427c"/><stop offset=".55" stop-color="#d35171"/><stop offset=".6" stop-color="#e06363"/><stop offset=".65" stop-color="#ec7754"/><stop offset=".7" stop-color="#f48849"/><stop offset=".75" stop-color="#f68d45"/><stop offset=".8" stop-color="#fca934"/><stop offset=".85" stop-color="#fec029"/><stop offset=".9" stop-color="#fad824"/><stop offset=".94" stop-color="#f6e626"/></linearGradient>
<linearGradient id="g37" href="#g"><stop offset="." stop-color="#8004a8"/><stop offset=".05" stop-color="#8606a6"/><stop offset=".1" stop-color="#8d0ba5"/><stop offset=".15" stop-color="#8e0ca4"/><stop offset=".2" stop-color="#920fa3"/><stop offset=".25" stop-color="#8e0ca4"/><stop offset=".3" stop-color="#8d0ba5"/><stop offset=".33" stop-color="#8d0ba5"/><stop offset=".36" stop-color="#9613a1"/><stop offset=".4" stop-color="#9e199d"/><stop offset=".43" stop-color="#aa2395"/><stop offset=".46" stop-color="#b02991"/><stop offset=".48" stop-color="#b42e8d"/><stop offset=".5" stop-color="#bb3488"/><stop offset=".52" stop-color="#c03a83"/><stop offset=".55" stop-color="#c9447a"/><stop offset=".6" stop-color="#dc5d67"/><stop offset=".65" stop-color="#e97158"/><stop offset=".7" stop-color="#f1814d"/><stop offset=".75" stop-color="#f79143"/><stop offset=".8" stop-color="#fca537"/><stop offset=".85" stop-color="#feb72d"/><stop offset=".9" stop-color="#fdcb26"/><stop offset=".94" stop-color="#f8df25"/></linearGradient>
<linearGradient id="g38" href="#g"><stop offset="." stop-color="#8808a6"/><stop offset=".05" stop-color="#8e0ca4"/><stop offset=".1" stop-color="#8a09a5"/><stop offset=".15" stop-color="#9511a1"/><stop offset=".2" stop-color="#a21d9a"/><stop offset=".25" stop-color="#9c179e"/><stop offset=".3" stop-color="#9410a2"/><stop offset=".33" stop-color="#9613a1"/><stop offset=".36" stop-color="#9814a0"/><stop offset=".4" stop-color="#a21d9a"/><stop offset=".43" stop-color="#aa2395"/><stop offset=".46" stop-color="#b22b8f"/><stop offset=".48" stop-color="#b83289"/><stop offset=".5" stop-color="#bf3984"/><stop offset=".52" stop-color="#c7427c"/><stop offset=".55" stop-color="#d35171"/><stop offset=".6" stop-color="#e66c5c"/><stop offset=".65" stop-color="#ec7754"/><stop offset=".7" stop-color="#f1814d"/><stop offset=".75" stop-color="#f9973f"/><stop offset=".8" stop-color="#fdab33"/><stop offset=".85" stop-color="#febb2b"/><stop offset=".9" stop-color="#fbd324"/></linearGradient>
<linearGradient id="g39" href="#g"><stop offset="." stop-color="#8e0ca4"/><stop offset=".05" stop-color="#910ea3"/><stop offset=".1" stop-color="#99159f"/><stop offset=".15" stop-color="#a01a9c"/><stop offset=".2" stop-color="#a82296"/><stop offset=".25" stop-color="#a01a9c"/><stop offset=".3" stop-color="#9814a0"/><stop offset=".33" stop-color="#9814a0"/><stop offset=".36" stop-color="#9e199d"/><stop offset=".4" stop-color="#a62098"/><stop offset=".43" stop-color="#b22b8f"/><stop offset=".46" stop-color="#b52f8c"/><stop offset=".48" stop-color="#bb3488"/><stop offset=".5" stop-color="#c33d80"/><stop offset=".52" stop-color="#ca457a"/><stop offset=".55" stop-color="#d45270"/><stop offset=".6" stop-color="#e66c5c"/><stop offset=".65" stop-color="#ed7953"/><stop offset=".7" stop-color="#f48849"/><stop offset=".75" stop-color="#fa9b3d"/><stop offset=".8" stop-color="#fdab33"/><stop offset=".85" stop-color="#febd2a"/><stop offset=".9" stop-color="#fcd225"/></linearGradient>
<linearGradient id="g40" href="#g"><stop offset="." stop-color="#8a09a5"/><stop offset=".05" stop-color="#8e0ca4"/><stop offset=".1" stop-color="#8f0da4"/><stop offset=".15" stop-color="#9613a1"/><stop offset=".2" stop-color="#a31e9a"/><stop offset=".25" stop-color="#99159f"/><stop offset=".3" stop-color="#8f0da4"/><stop offset=".33" stop-color="#9a169f"/><stop offset=".36" stop-color="#9a169f"/><stop offset=".4" stop-color="#a51f99"/><stop offset=".43" stop-color="#a82296"/><stop offset=".46" stop-color="#b12a90"/><stop offset=".48" stop-color="#bc3587"/><stop offset=".5" stop-color="#c13b82"/><stop offset=".52" stop-color="#c8437b"/><stop offset=".55" stop-color="#d5536f"/><stop offset=".6" stop-color="#e56b5d"/><stop offset=".65" stop-color="#ed7953"/><stop offset=".7" stop-color="#f1834c"/><stop offset=".75" stop-color="#f9973f"/><stop offset=".8" stop-color="#fca338"/><stop offset=".85" stop-color="#febb2b"/><stop offset=".9" stop-color="#fcce25"/></linearGradient>
<linearGradient id="g41" href="#g"><stop offset="." stop-color="#8a09a5"/><stop offset=".05" stop-color="#8b0aa5"/><stop offset=".1" stop-color="#9410a2"/><stop offset=".15" stop-color="#a01a9c"/><stop offset=".2" stop-color="#ab2494"/><stop offset=".25" stop-color="#a01a9c"/><stop offset=".3" stop-color="#9613a1"/><stop offset=".33" stop-color="#9613a1"/><stop offset=".36" stop-color="#9814a0"/><stop offset=".4" stop-color="#a01a9c"/><stop offset=".43" stop-color="#b12a90"/><stop offset=".46" stop-color="#b22b8f"/><stop offset=".48" stop-color="#b83289"/><stop offset=".5" stop-color="#c33d80"/><stop offset=".52" stop-color="#cc4778"/><stop offset=".55" stop-color="#d45270"/><stop offset=".6" stop-color="#e56a5d"/><stop offset=".65" stop-color="#eb7655"/><stop offset=".7" stop-color="#f1814d"/><stop offset=".75" stop-color="#f89441"/><stop offset=".8" stop-color="#fca636"/><stop offset=".85" stop-color="#feba2c"/><stop offset=".9" stop-color="#fccd25"/><stop offset=".94" stop-color="#fada24"/></linearGradient>
<linearGradient id="g42" href="#g"><stop offset="." stop-color="#8b0aa5"/><stop offset=".05" stop-color="#8707a6"/><stop offset=".1" stop-color="#920fa3"/><stop offset=".15" stop-color="#a21d9a"/><stop offset=".2" stop-color="#b32c8e"/><stop offset=".25" stop-color="#a21d9a"/><stop offset=".3" stop-color="#9814a0"/><stop offset=".33" stop-color="#9613a1"/><stop offset=".36" stop-color="#9d189d"/><stop offset=".4" stop-color="#a31e9a"/><stop offset=".43" stop-color="#ab2494"/><stop offset=".46" stop-color="#b6308b"/><stop offset=".48" stop-color="#bc3587"/><stop offset=".5" stop-color="#c03a83"/><stop offset=".52" stop-color="#ca457a"/><stop offset=".55" stop-color="#d5546e"/><stop offset=".6" stop-color="#e56b5d"/><stop offset=".65" stop-color="#ed7a52"/><stop offset=".7" stop-color="#f1814d"/><stop offset=".75" stop-color="#f79342"/><stop offset=".8" stop-color="#fba238"/><stop offset=".85" stop-color="#fdb52e"/><stop offset=".9" stop-color="#fcd025"/><stop offset=".94" stop-color="#f8df25"/></linearGradient>
<linearGradient id="g43" href="#g"><stop offset="." stop-color="#9a169f"/><stop offset=".05" stop-color="#9e199d"/><stop offset=".1" stop-color="#a11b9b"/><stop offset=".15" stop-color="#b12a90"/><stop offset=".2" stop-color="#c43e7f"/><stop offset=".25" stop-color="#b7318a"/><stop offset=".3" stop-color="#a31e9a"/><stop offset=".33" stop-color="#a21d9a"/><stop offset=".36" stop-color="#b02991"/><stop offset=".4" stop-color="#b02991"/><stop offset=".43" stop-color="#bb3488"/><stop offset=".46" stop-color="#c03a83"/><stop offset=".48" stop-color="#ca457a"/><stop offset=".5" stop-color="#d14e72"/><stop offset=".52" stop-color="#d6556d"/><stop offset=".55" stop-color="#df6263"/><stop offset=".6" stop-color="#ee7b51"/><stop offset=".65" stop-color="#f68f44"/><stop offset=".7" stop-color="#f89540"/><stop offset=".75" stop-color="#fdac33"/><stop offset=".8" stop-color="#fec029"/><stop offset=".85" stop-color="#fbd524"/><stop offset=".9" stop-color="#f5eb27"/><stop offset=".94" stop-color="#f0f724"/></linearGradient>
<linearGradient id="g44" href="#g"><stop offset="." stop-color="#9d189d"/><stop offset=".05" stop-color="#a21d9a"/><stop offset=".1" stop-color="#ac2694"/><stop offset=".15" stop-color="#bb3488"/><stop offset=".2" stop-color="#c8437b"/><stop offset=".25" stop-color="#bb3488"/><stop offset=".3" stop-color="#ab2494"/><stop offset=".33" stop-color="#a82296"/><stop offset=".36" stop-color="#aa2395"/><stop offset=".4" stop-color="#b22b8f"/><stop offset=".43" stop-color="#ba3388"/><stop offset=".46" stop-color="#c6417d"/><stop offset=".48" stop-color="#cc4778"/><stop offset=".5" stop-color="#ce4b75"/><stop offset=".52" stop-color="#d5546e"/><stop offset=".55" stop-color="#e06363"/><stop offset=".6" stop-color="#f3874a"/><stop offset=".65" stop-color="#f68d45"/><stop offset=".7" stop-color="#fca537"/><stop offset=".75" stop-color="#fdab33"/><stop offset=".8" stop-color="#fdc328"/><stop offset=".85" stop-color="#fad824"/><stop offset=".9" stop-color="#f5eb27"/></linearGradient>
<linearGradient id="g45" href="#g"><stop offset="." stop-color="#8b0aa5"/><stop offset=".05" stop-color="#920fa3"/><stop offset=".1" stop-color="#9a169f"/><stop offset=".15" stop-color="#b02991"/><stop offset=".2" stop-color="#c43e7f"/><stop offset=".25" stop-color="#b83289"/><stop offset=".3" stop-color="#9e199d"/><stop offset=".33" stop-color="#9a169f"/><stop offset=".36" stop-color="#a01a9c"/><stop offset=".4" stop-color="#a62098"/><stop offset=".43" stop-color="#ae2892"/><stop offset=".46" stop-color="#bd3786"/><stop offset=".48" stop-color="#c13b82"/><stop offset=".5" stop-color="#c8437b"/><stop offset=".52" stop-color="#d14e72"/><stop offset=".55" stop-color="#da5a6a"/><stop offset=".6" stop-color="#eb7655"/><stop offset=".65" stop-color="#f1814d"/><stop offset=".7" stop-color="#f68d45"/><stop offset=".75" stop-color="#fb9f3a"/><stop offset=".8" stop-color="#fdb52e"/><stop offset=".85" stop-color="#fdc229"/><stop offset=".9" stop-color="#fada24"/><stop offset=".94" stop-color="#f7e425"/></linearGradient>
<linearGradient id="g46" href="#g"><stop offset="." stop-color="#9c179e"/><stop offset=".05" stop-color="#a11b9b"/><stop offset=".1" stop-color="#ae2892"/><stop offset=".15" stop-color="#c33d80"/><stop offset=".2" stop-color="#d35171"/><stop offset=".25" stop-color="#c8437b"/><stop offset=".3" stop-color="#b22b8f"/><stop offset=".33" stop-color="#b12a90"/><stop offset=".36" stop-color="#aa2395"/><stop offset=".4" stop-color="#b32c8e"/><stop offset=".43" stop-color="#bd3786"/><stop offset=".46" stop-color="#c7427c"/><stop offset=".48" stop-color="#cc4778"/><stop offset=".5" stop-color="#d14e72"/><stop offset=".52" stop-color="#d8576b"/><stop offset=".55" stop-color="#e4695e"/><stop offset=".6" stop-color="#f2844b"/><stop offset=".65" stop-color="#f79044"/><stop offset=".7" stop-color="#fa9b3d"/><stop offset=".75" stop-color="#feba2c"/><stop offset=".8" stop-color="#fcd025"/><stop offset=".85" stop-color="#f7e425"/><stop offset=".9" stop-color="#f3f027"/><stop offset=".94" stop-color="#f0f921"/></linearGradient>
<linearGradient id="g47" href="#g"><stop offset="." stop-color="#9511a1"/><stop offset=".05" stop-color="#9c179e"/><stop offset=".1" stop-color="#a31e9a"/><stop offset=".15" stop-color="#bd3786"/><stop offset=".2" stop-color="#d24f71"/><stop offset=".25" stop-color="#c6417d"/><stop offset=".3" stop-color="#aa2395"/><stop offset=".33" stop-color="#a82296"/><stop offset=".36" stop-color="#a11b9b"/><stop offset=".4" stop-color="#b42e8d"/><stop offset=".43" stop-color="#b7318a"/><stop offset=".46" stop-color="#c23c81"/><stop offset=".48" stop-color="#c43e7f"/><stop offset=".5" stop-color="#ce4b75"/><stop offset=".52" stop-color="#d04d73"/><stop offset=".55" stop-color="#e26561"/><stop offset=".6" stop-color="#ed7953"/><stop offset=".65" stop-color="#f48849"/><stop offset=".7" stop-color="#f9973f"/><stop offset=".75" stop-color="#fdab33"/><stop offset=".8" stop-color="#febd2a"/><stop offset=".85" stop-color="#fbd324"/><stop offset=".9" stop-color="#f5eb27"/><stop offset=".94" stop-color="#f5e926"/></linearGradient>
<linearGradient id="g48" href="#g"><stop offset="." stop-color="#9410a2"/><stop offset=".05" stop-color="#a11b9b"/><stop offset=".1" stop-color="#a72197"/><stop offset=".15" stop-color="#c23c81"/><stop offset=".2" stop-color="#d9586a"/><stop offset=".25" stop-color="#c8437b"/><stop offset=".3" stop-color="#ae2892"/><stop offset=".33" stop-color="#a62098"/><stop offset=".36" stop-color="#ab2494"/><stop offset=".4" stop-color="#b42e8d"/><stop offset=".43" stop-color="#b83289"/><stop offset=".46" stop-color="#c6417d"/><stop offset=".48" stop-color="#ce4b75"/><stop offset=".5" stop-color="#d45270"/><stop offset=".52" stop-color="#dd5e66"/><stop offset=".55" stop-color="#e76e5b"/><stop offset=".6" stop-color="#f3854b"/><stop offset=".65" stop-color="#f79044"/><stop offset=".7" stop-color="#fba139"/><stop offset=".75" stop-color="#febb2b"/><stop offset=".8" stop-color="#fcce25"/><stop offset=".85" stop-color="#f9dc24"/><stop offset=".9" stop-color="#f4ed27"/><stop offset=".94" stop-color="#f2f227"/></linearGradient>
<linearGradient id="g49" href="#g"><stop offset="." stop-color="#9511a1"/><stop offset=".05" stop-color="#a11b9b"/><stop offset=".1" stop-color="#aa2395"/><stop offset=".15" stop-color="#c9447a"/><stop offset=".2" stop-color="#de5f65"/><stop offset=".25" stop-color="#cc4977"/><stop offset=".3" stop-color="#b6308b"/><stop offset=".33" stop-color="#aa2395"/><stop offset=".36" stop-color="#a72197"/><stop offset=".4" stop-color="#b32c8e"/><stop offset=".43" stop-color="#b6308b"/><stop offset=".46" stop-color="#c13b82"/><stop offset=".48" stop-color="#c6417d"/><stop offset=".5" stop-color="#cd4a76"/><stop offset=".52" stop-color="#d45270"/><stop offset=".55" stop-color="#df6263"/><stop offset=".6" stop-color="#f07f4f"/><stop offset=".65" stop-color="#f79044"/><stop offset=".7" stop-color="#f99a3e"/><stop offset=".75" stop-color="#fdb52e"/><stop offset=".8" stop-color="#fccd25"/><stop offset=".85" stop-color="#fada24"/><stop offset=".9" stop-color="#f5e926"/></linearGradient>
<linearGradient id="g50" href="#g"><stop offset="." stop-color="#9d189d"/><stop offset=".05" stop-color="#a31e9a"/><stop offset=".1" stop-color="#b12a90"/><stop offset=".15" stop-color="#cb4679"/><stop offset=".2" stop-color="#e26561"/><stop offset=".25" stop-color="#d45270"/><stop offset=".3" stop-color="#bc3587"/><stop offset=".33" stop-color="#b52f8c"/><stop offset=".36" stop-color="#b12a90"/><stop offset=".4" stop-color="#b83289"/><stop offset=".43" stop-color="#bc3587"/><stop offset=".46" stop-color="#c6417d"/><stop offset=".48" stop-color="#cf4c74"/><stop offset=".5" stop-color="#d5536f"/><stop offset=".52" stop-color="#da5a6a"/><stop offset=".55" stop-color="#e56a5d"/><stop offset=".6" stop-color="#f68f44"/><stop offset=".65" stop-color="#f9973f"/><stop offset=".7" stop-color="#fca835"/><stop offset=".75" stop-color="#fdc229"/><stop offset=".8" stop-color="#f9dd25"/><stop offset=".85" stop-color="#f5eb27"/><stop offset=".9" stop-color="#f3f027"/><stop offset=".94" stop-color="#f0f921"/></linearGradient>
<linearGradient id="g51" href="#g"><stop offset="." stop-color="#910ea3"/><stop offset=".05" stop-color="#9814a0"/><stop offset=".1" stop-color="#a82296"/><stop offset=".15" stop-color="#c23c81"/><stop offset=".2" stop-color="#d5546e"/><stop offset=".25" stop-color="#cc4778"/><stop offset=".3" stop-color="#ae2892"/><stop offset=".33" stop-color="#a62098"/><stop offset=".36" stop-color="#b02991"/><stop offset=".4" stop-color="#b7318a"/><stop offset=".43" stop-color="#c03a83"/><stop offset=".46" stop-color="#c7427c"/><stop offset=".48" stop-color="#d14e72"/><stop offset=".5" stop-color="#d45270"/><stop offset=".52" stop-color="#dd5e66"/><stop offset=".55" stop-color="#e66c5c"/><stop offset=".6" stop-color="#f3874a"/><stop offset=".65" stop-color="#f89441"/><stop offset=".7" stop-color="#fca537"/><stop offset=".75" stop-color="#fdc627"/><stop offset=".8" stop-color="#f9dd25"/><stop offset=".85" stop-color="#f5e926"/><stop offset=".9" stop-color="#f3ee27"/><stop offset=".94" stop-color="#f4ed27"/></linearGradient>
<linearGradient id="g52" href="#g"><stop offset="." stop-color="#a51f99"/><stop offset=".05" stop-color="#ab2494"/><stop offset=".1" stop-color="#ac2694"/><stop offset=".15" stop-color="#c8437b"/><stop offset=".2" stop-color="#da5a6a"/><stop offset=".25" stop-color="#cd4a76"/><stop offset=".3" stop-color="#bc3587"/><stop offset=".33" stop-color="#bb3488"/><stop offset=".36" stop-color="#b42e8d"/><stop offset=".4" stop-color="#c5407e"/><stop offset=".43" stop-color="#cf4c74"/><stop offset=".46" stop-color="#d45270"/><stop offset=".48" stop-color="#da5a6a"/><stop offset=".5" stop-color="#e16462"/><stop offset=".52" stop-color="#e76e5b"/><stop offset=".55" stop-color="#ef7e50"/><stop offset=".6" stop-color="#fa9b3d"/><stop offset=".65" stop-color="#fca537"/><stop offset=".7" stop-color="#febb2b"/><stop offset=".75" stop-color="#fbd724"/><stop offset=".8" stop-color="#f4ed27"/><stop offset=".85" stop-color="#f0f921"/><stop offset=".9" stop-color="#f0f921"/></linearGradient>
<linearGradient id="g53" href="#g"><stop offset="." stop-color="#99159f"/><stop offset=".05" stop-color="#9613a1"/><stop offset=".1" stop-color="#a82296"/><stop offset=".15" stop-color="#bc3587"/><stop offset=".2" stop-color="#d14e72"/><stop offset=".25" stop-color="#c33d80"/><stop offset=".3" stop-color="#ad2793"/><stop offset=".33" stop-color="#b22b8f"/><stop offset=".36" stop-color="#b32c8e"/><stop offset=".4" stop-color="#c33d80"/><stop offset=".43" stop-color="#c6417d"/><stop offset=".46" stop-color="#d24f71"/><stop offset=".48" stop-color="#da5a6a"/><stop offset=".5" stop-color="#dd5e66"/><stop offset=".52" stop-color="#e06363"/><stop offset=".55" stop-color="#e97257"/><stop offset=".6" stop-color="#f68f44"/><stop offset=".65" stop-color="#fba238"/><stop offset=".7" stop-color="#fdb42f"/><stop offset=".75" stop-color="#fdc827"/><stop offset=".8" stop-color="#f6e826"/><stop offset=".85" stop-color="#f3f027"/><stop offset=".9" stop-color="#f0f921"/></linearGradient>
<linearGradient id="g54" href="#g"><stop offset="." stop-color="#9814a0"/><stop offset=".05" stop-color="#9d189d"/><stop offset=".1" stop-color="#a51f99"/><stop offset=".15" stop-color="#b83289"/><stop offset=".2" stop-color="#ca457a"/><stop offset=".25" stop-color="#c33d80"/><stop offset=".3" stop-color="#b6308b"/><stop offset=".33" stop-color="#b52f8c"/><stop offset=".36" stop-color="#b32c8e"/><stop offset=".4" stop-color="#c43e7f"/><stop offset=".43" stop-color="#d04d73"/><stop offset=".46" stop-color="#d6556d"/><stop offset=".48" stop-color="#da5b69"/><stop offset=".5" stop-color="#de5f65"/><stop offset=".52" stop-color="#e3685f"/><stop offset=".55" stop-color="#ee7b51"/><stop offset=".6" stop-color="#f9973f"/><stop offset=".65" stop-color="#fca835"/><stop offset=".7" stop-color="#febd2a"/><stop offset=".75" stop-color="#fbd524"/><stop offset=".8" stop-color="#f5e926"/><stop offset=".85" stop-color="#f0f724"/></linearGradient>
<linearGradient id="g55" href="#g"><stop offset="." stop-color="#9814a0"/><stop offset=".05" stop-color="#a21d9a"/><stop offset=".1" stop-color="#a51f99"/><stop offset=".15" stop-color="#b6308b"/><stop offset=".2" stop-color="#c7427c"/><stop offset=".25" stop-color="#c23c81"/><stop offset=".3" stop-color="#b6308b"/><stop offset=".33" stop-color="#bf3984"/><stop offset=".36" stop-color="#c7427c"/><stop offset=".4" stop-color="#d35171"/><stop offset=".43" stop-color="#dd5e66"/><stop offset=".46" stop-color="#e26561"/><stop offset=".48" stop-color="#e66c5c"/><stop offset=".5" stop-color="#ec7754"/><stop offset=".52" stop-color="#f07f4f"/><stop offset=".55" stop-color="#f68f44"/><stop offset=".6" stop-color="#fca835"/><stop offset=".65" stop-color="#feb72d"/><stop offset=".7" stop-color="#fcd025"/><stop offset=".75" stop-color="#f5e926"/><stop offset=".8" stop-color="#f0f921"/><stop offset=".85" stop-color="#f0f921"/><stop offset=".9" stop-color="#f0f921"/></linearGradient>
<linearGradient id="g56" href="#g"><stop offset="." stop-color="#8f0da4"/><stop offset=".05" stop-color="#8f0da4"/><stop offset=".1" stop-color="#9814a0"/><stop offset=".15" stop-color="#a01a9c"/><stop offset=".2" stop-color="#b52f8c"/><stop offset=".25" stop-color="#ae2892"/><stop offset=".3" stop-color="#ad2793"/><stop offset=".33" stop-color="#ae2892"/><stop offset=".36" stop-color="#b32c8e"/><stop offset=".4" stop-color="#be3885"/><stop offset=".43" stop-color="#c9447a"/><stop offset=".46" stop-color="#d24f71"/><stop offset=".48" stop-color="#da5a6a"/><stop offset=".5" stop-color="#d9586a"/><stop offset=".52" stop-color="#e16462"/><stop offset=".55" stop-color="#e56a5d"/><stop offset=".6" stop-color="#f07f4f"/><stop offset=".65" stop-color="#f89441"/><stop offset=".7" stop-color="#fca835"/><stop offset=".75" stop-color="#fdc827"/><stop offset=".8" stop-color="#fcd225"/><stop offset=".85" stop-color="#f6e626"/></linearGradient>
<linearGradient id="g57" href="#g"><stop offset="." stop-color="#8808a6"/><stop offset=".05" stop-color="#8f0da4"/><stop offset=".1" stop-color="#910ea3"/><stop offset=".15" stop-color="#9d189d"/><stop offset=".2" stop-color="#a82296"/><stop offset=".25" stop-color="#a62098"/><stop offset=".3" stop-color="#aa2395"/><stop offset=".33" stop-color="#b12a90"/><stop offset=".36" stop-color="#bc3587"/><stop offset=".4" stop-color="#c5407e"/><stop offset=".43" stop-color="#d45270"/><stop offset=".46" stop-color="#d5546e"/><stop offset=".48" stop-color="#de5f65"/><stop offset=".5" stop-color="#e16462"/><stop offset=".52" stop-color="#e3685f"/><stop offset=".55" stop-color="#eb7556"/><stop offset=".6" stop-color="#f0804e"/><stop offset=".65" stop-color="#f89540"/><stop offset=".7" stop-color="#feb72d"/><stop offset=".75" stop-color="#fcce25"/></linearGradient>
<linearGradient id="g58" href="#g"><stop offset="." stop-color="#8b0aa5"/><stop offset=".05" stop-color="#910ea3"/><stop offset=".1" stop-color="#9a169f"/><stop offset=".15" stop-color="#a31e9a"/><stop offset=".2" stop-color="#b12a90"/><stop offset=".25" stop-color="#b12a90"/><stop offset=".3" stop-color="#ac2694"/><stop offset=".33" stop-color="#ac2694"/><stop offset=".36" stop-color="#b6308b"/><stop offset=".4" stop-color="#bd3786"/><stop offset=".43" stop-color="#c33d80"/><stop offset=".46" stop-color="#d04d73"/><stop offset=".48" stop-color="#d7566c"/><stop offset=".5" stop-color="#da5a6a"/><stop offset=".52" stop-color="#dc5d67"/><stop offset=".55" stop-color="#e26660"/><stop offset=".6" stop-color="#ed7953"/><stop offset=".65" stop-color="#f58c46"/><stop offset=".7" stop-color="#fb9f3a"/></linearGradient>
<linearGradient id="g59" href="#g"><stop offset="." stop-color="#8d0ba5"/><stop offset=".05" stop-color="#8f0da4"/><stop offset=".1" stop-color="#910ea3"/><stop offset=".15" stop-color="#9a169f"/><stop offset=".2" stop-color="#a21d9a"/><stop offset=".25" stop-color="#ab2494"/><stop offset=".3" stop-color="#b02991"/><stop offset=".33" stop-color="#ac2694"/><stop offset=".36" stop-color="#bb3488"/><stop offset=".4" stop-color="#c6417d"/><stop offset=".43" stop-color="#cf4c74"/><stop offset=".46" stop-color="#d6556d"/><stop offset=".48" stop-color="#db5c68"/><stop offset=".5" stop-color="#dd5e66"/><stop offset=".52" stop-color="#e16462"/><stop offset=".55" stop-color="#e87059"/><stop offset=".6" stop-color="#ed7a52"/><stop offset=".65" stop-color="#f58c46"/><stop offset=".7" stop-color="#fca338"/></linearGradient>
<linearGradient id="g60" href="#g"><stop offset="." stop-color="#8808a6"/><stop offset=".05" stop-color="#8f0da4"/><stop offset=".1" stop-color="#9613a1"/><stop offset=".15" stop-color="#9a169f"/><stop offset=".2" stop-color="#9e199d"/><stop offset=".25" stop-color="#ab2494"/><stop offset=".3" stop-color="#aa2395"/><stop offset=".33" stop-color="#b42e8d"/><stop offset=".36" stop-color="#b83289"/><stop offset=".4" stop-color="#c7427c"/><stop offset=".43" stop-color="#d14e72"/><stop offset=".46" stop-color="#d7566c"/><stop offset=".48" stop-color="#de5f65"/><stop offset=".5" stop-color="#e06363"/><stop offset=".52" stop-color="#e26561"/><stop offset=".55" stop-color="#e56b5d"/></linearGradient>
<linearGradient id="g61" href="#g"><stop offset="." stop-color="#8004a8"/><stop offset=".05" stop-color="#8305a7"/><stop offset=".1" stop-color="#8104a7"/><stop offset=".15" stop-color="#8d0ba5"/><stop offset=".2" stop-color="#910ea3"/><stop offset=".25" stop-color="#9c179e"/><stop offset=".3" stop-color="#ac2694"/><stop offset=".33" stop-color="#b7318a"/><stop offset=".36" stop-color="#c13b82"/><stop offset=".4" stop-color="#d35171"/><stop offset=".43" stop-color="#db5c68"/><stop offset=".46" stop-color="#e06363"/><stop offset=".48" stop-color="#de5f65"/><stop offset=".5" stop-color="#e56a5d"/><stop offset=".52" stop-color="#e66c5c"/></linearGradient>
<linearGradient id="g62" href="#g"><stop offset="." stop-color="#8a09a5"/><stop offset=".05" stop-color="#8f0da4"/><stop offset=".1" stop-color="#8b0aa5"/><stop offset=".15" stop-color="#8e0ca4"/><stop offset=".2" stop-color="#99159f"/><stop offset=".25" stop-color="#9a169f"/><stop offset=".3" stop-color="#a11b9b"/><stop offset=".33" stop-color="#ad2793"/><stop offset=".36" stop-color="#bc3587"/><stop offset=".4" stop-color="#ce4b75"/><stop offset=".43" stop-color="#d5546e"/><stop offset=".46" stop-color="#dc5d67"/><stop offset=".48" stop-color="#e26660"/><stop offset=".5" stop-color="#e3685f"/><stop offset=".52" stop-color="#e4695e"/><stop offset=".55" stop-color="#eb7556"/></linearGradient>
<linearGradient id="g63" href="#g"><stop offset="." stop-color="#8405a7"/><stop offset=".05" stop-color="#8606a6"/><stop offset=".1" stop-color="#8606a6"/><stop offset=".15" stop-color="#8e0ca4"/><stop offset=".2" stop-color="#8a09a5"/><stop offset=".25" stop-color="#9511a1"/><stop offset=".3" stop-color="#a01a9c"/><stop offset=".33" stop-color="#b42e8d"/><stop offset=".36" stop-color="#c33d80"/><stop offset=".4" stop-color="#d14e72"/><stop offset=".43" stop-color="#dd5e66"/><stop offset=".46" stop-color="#e06363"/><stop offset=".48" stop-color="#e16462"/><stop offset=".5" stop-color="#e4695e"/><stop offset=".52" stop-color="#e97158"/><stop offset=".55" stop-color="#ef7e50"/><stop offset=".6" stop-color="#f79342"/><stop offset=".65" stop-color="#fca835"/></linearGradient>
<linearGradient id="g64" href="#g"><stop offset="." stop-color="#7701a8"/><stop offset=".05" stop-color="#7a02a8"/><stop offset=".1" stop-color="#7801a8"/><stop offset=".15" stop-color="#7801a8"/><stop offset=".2" stop-color="#8606a6"/><stop offset=".25" stop-color="#8305a7"/><stop offset=".3" stop-color="#8d0ba5"/><stop offset=".33" stop-color="#9e199d"/><stop offset=".36" stop-color="#ad2793"/><stop offset=".4" stop-color="#c23c81"/><stop offset=".43" stop-color="#ce4b75"/><stop offset=".46" stop-color="#d9586a"/><stop offset=".48" stop-color="#d6556d"/><stop offset=".5" stop-color="#dd5e66"/><stop offset=".52" stop-color="#e26561"/><stop offset=".55" stop-color="#e56a5d"/></linearGradient>
<linearGradient id="g65" href="#g"><stop offset="." stop-color="#7501a8"/><stop offset=".05" stop-color="#8104a7"/><stop offset=".1" stop-color="#7501a8"/><stop offset=".15" stop-color="#7d03a8"/><stop offset=".2" stop-color="#7d03a8"/><stop offset=".25" stop-color="#7e03a8"/><stop offset=".3" stop-color="#8707a6"/><stop offset=".33" stop-color="#8b0aa5"/><stop offset=".36" stop-color="#9d189d"/><stop offset=".4" stop-color="#b6308b"/><stop offset=".43" stop-color="#c43e7f"/><stop offset=".46" stop-color="#d5546e"/><stop offset=".48" stop-color="#da5a6a"/><stop offset=".5" stop-color="#dd5e66"/></linearGradient>
<linearGradient id="g66" href="#g"><stop offset="." stop-color="#7a02a8"/><stop offset=".05" stop-color="#7b02a8"/><stop offset=".1" stop-color="#7b02a8"/><stop offset=".15" stop-color="#7801a8"/><stop offset=".2" stop-color="#7a02a8"/><stop offset=".25" stop-color="#8305a7"/><stop offset=".3" stop-color="#7a02a8"/><stop offset=".33" stop-color="#8004a8"/><stop offset=".36" stop-color="#8004a8"/><stop offset=".4" stop-color="#910ea3"/><stop offset=".43" stop-color="#a31e9a"/><stop offset=".46" stop-color="#b22b8f"/><stop offset=".48" stop-color="#c23c81"/><stop offset=".5" stop-color="#c8437b"/><stop offset=".52" stop-color="#d04d73"/><stop offset=".55" stop-color="#d9586a"/><stop offset=".6" stop-color="#e26561"/><stop offset=".65" stop-color="#ec7754"/><stop offset=".7" stop-color="#f68d45"/><stop offset=".75" stop-color="#fca835"/><stop offset=".8" stop-color="#fec029"/></linearGradient>
<linearGradient id="g67" href="#g"><stop offset="." stop-color="#6600a7"/><stop offset=".05" stop-color="#6600a7"/><stop offset=".1" stop-color="#6900a8"/><stop offset=".15" stop-color="#6600a7"/><stop offset=".2" stop-color="#6700a8"/><stop offset=".25" stop-color="#6700a8"/><stop offset=".3" stop-color="#6f00a8"/><stop offset=".33" stop-color="#7801a8"/><stop offset=".36" stop-color="#8004a8"/><stop offset=".4" stop-color="#9d189d"/><stop offset=".43" stop-color="#ad2793"/><stop offset=".46" stop-color="#c13b82"/><stop offset=".48" stop-color="#cd4a76"/><stop offset=".5" stop-color="#d04d73"/><stop offset=".52" stop-color="#d5546e"/><stop offset=".55" stop-color="#da5b69"/><stop offset=".6" stop-color="#e76f5a"/><stop offset=".65" stop-color="#f3874a"/><stop offset=".7" stop-color="#f9983e"/><stop offset=".75" stop-color="#fdaf31"/><stop offset=".8" stop-color="#fdc527"/><stop offset=".85" stop-color="#fbd324"/><stop offset=".9" stop-color="#fbd324"/></linearGradient>
<linearGradient id="g68" href="#g"><stop offset="." stop-color="#7a02a8"/><stop offset=".05" stop-color="#8104a7"/><stop offset=".1" stop-color="#7a02a8"/><stop offset=".15" stop-color="#7e03a8"/><stop offset=".2" stop-color="#7e03a8"/><stop offset=".25" stop-color="#7e03a8"/><stop offset=".3" stop-color="#8104a7"/><stop offset=".33" stop-color="#9410a2"/><stop offset=".36" stop-color="#a72197"/><stop offset=".4" stop-color="#c13b82"/><stop offset=".43" stop-color="#d35171"/><stop offset=".46" stop-color="#d8576b"/><stop offset=".48" stop-color="#de6164"/><stop offset=".5" stop-color="#e4695e"/><stop offset=".52" stop-color="#e76e5b"/><stop offset=".55" stop-color="#ed7953"/><stop offset=".6" stop-color="#f58b47"/><stop offset=".65" stop-color="#fca835"/><stop offset=".7" stop-color="#feba2c"/><stop offset=".75" stop-color="#fbd324"/><stop offset=".8" stop-color="#f5eb27"/></linearGradient>
<linearGradient id="g69" href="#g"><stop offset="." stop-color="#8808a6"/><stop offset=".05" stop-color="#8a09a5"/><stop offset=".1" stop-color="#8606a6"/><stop offset=".15" stop-color="#8104a7"/><stop offset=".2" stop-color="#8305a7"/><stop offset=".25" stop-color="#8606a6"/><stop offset=".3" stop-color="#8808a6"/><stop offset=".33" stop-color="#9814a0"/><stop offset=".36" stop-color="#a62098"/><stop offset=".4" stop-color="#c13b82"/><stop offset=".43" stop-color="#cc4778"/><stop offset=".46" stop-color="#da5b69"/><stop offset=".48" stop-color="#de6164"/><stop offset=".5" stop-color="#e26561"/><stop offset=".52" stop-color="#e56b5d"/><stop offset=".55" stop-color="#eb7655"/><stop offset=".6" stop-color="#f58c46"/><stop offset=".65" stop-color="#fca835"/><stop offset=".7" stop-color="#fdc527"/><stop offset=".75" stop-color="#fbd524"/><stop offset=".8" stop-color="#f6e826"/></linearGradient>
<linearGradient id="g70" href="#g"><stop offset="." stop-color="#7401a8"/><stop offset=".05" stop-color="#7701a8"/><stop offset=".1" stop-color="#7401a8"/><stop offset=".15" stop-color="#7701a8"/><stop offset=".2" stop-color="#7501a8"/><stop offset=".25" stop-color="#7201a8"/><stop offset=".3" stop-color="#7a02a8"/><stop offset=".33" stop-color="#8305a7"/><stop offset=".36" stop-color="#a11b9b"/><stop offset=".4" stop-color="#b83289"/><stop offset=".43" stop-color="#c9447a"/><stop offset=".46" stop-color="#d35171"/><stop offset=".48" stop-color="#d9586a"/><stop offset=".5" stop-color="#db5c68"/><stop offset=".52" stop-color="#e26660"/><stop offset=".55" stop-color="#e66c5c"/><stop offset=".6" stop-color="#f1834c"/><stop offset=".65" stop-color="#fba238"/><stop offset=".7" stop-color="#fdb52e"/><stop offset=".75" stop-color="#fccd25"/><stop offset=".8" stop-color="#f9dd25"/></linearGradient>
<linearGradient id="g71" href="#g"><stop offset="." stop-color="#8004a8"/><stop offset=".05" stop-color="#8808a6"/><stop offset=".1" stop-color="#8707a6"/><stop offset=".15" stop-color="#8004a8"/><stop offset=".2" stop-color="#8104a7"/><stop offset=".25" stop-color="#8004a8"/><stop offset=".3" stop-color="#8405a7"/><stop offset=".33" stop-color="#910ea3"/><stop offset=".36" stop-color="#9e199d"/><stop offset=".4" stop-color="#b83289"/><stop offset=".43" stop-color="#c9447a"/><stop offset=".46" stop-color="#d8576b"/><stop offset=".48" stop-color="#db5c68"/><stop offset=".5" stop-color="#e3685f"/><stop offset=".52" stop-color="#e76e5b"/><stop offset=".55" stop-color="#ed7a52"/><stop offset=".6" stop-color="#f2844b"/><stop offset=".65" stop-color="#fca636"/><stop offset=".7" stop-color="#fec029"/><stop offset=".75" stop-color="#fad824"/><stop offset=".8" stop-color="#f5eb27"/><stop offset=".85" stop-color="#f0f724"/></linearGradient>
<linearGradient id="g72" href="#g"><stop offset="." stop-color="#7701a8"/><stop offset=".05" stop-color="#7a02a8"/><stop offset=".1" stop-color="#7801a8"/><stop offset=".15" stop-color="#7501a8"/><stop offset=".2" stop-color="#7801a8"/><stop offset=".25" stop-color="#7a02a8"/><stop offset=".3" stop-color="#8305a7"/><stop offset=".33" stop-color="#8305a7"/><stop offset=".36" stop-color="#9613a1"/><stop offset=".4" stop-color="#ac2694"/><stop offset=".43" stop-color="#c9447a"/><stop offset=".46" stop-color="#d35171"/><stop offset=".48" stop-color="#d8576b"/><stop offset=".5" stop-color="#dd5e66"/><stop offset=".52" stop-color="#e26660"/><stop offset=".55" stop-color="#e76e5b"/><stop offset=".6" stop-color="#f1814d"/><stop offset=".65" stop-color="#fa9e3b"/><stop offset=".7" stop-color="#feb72d"/><stop offset=".75" stop-color="#fccd25"/><stop offset=".8" stop-color="#f7e225"/><stop offset=".85" stop-color="#f4ed27"/></linearGradient>
<linearGradient id="g73" href="#g"><stop offset="." stop-color="#7e03a8"/><stop offset=".05" stop-color="#8707a6"/><stop offset=".1" stop-color="#8305a7"/><stop offset=".15" stop-color="#8606a6"/><stop offset=".2" stop-color="#8305a7"/><stop offset=".25" stop-color="#8707a6"/><stop offset=".3" stop-color="#99159f"/><stop offset=".33" stop-color="#ab2494"/><stop offset=".36" stop-color="#bd3786"/><stop offset=".4" stop-color="#d24f71"/><stop offset=".43" stop-color="#da5b69"/><stop offset=".46" stop-color="#e3685f"/><stop offset=".48" stop-color="#e76f5a"/><stop offset=".5" stop-color="#ed7953"/><stop offset=".52" stop-color="#f07f4f"/><stop offset=".55" stop-color="#f58b47"/><stop offset=".6" stop-color="#fca835"/><stop offset=".65" stop-color="#febd2a"/><stop offset=".7" stop-color="#fbd724"/><stop offset=".75" stop-color="#f5eb27"/></linearGradient>
<linearGradient id="g74" href="#g"><stop offset="." stop-color="#7e03a8"/><stop offset=".05" stop-color="#7e03a8"/><stop offset=".1" stop-color="#7e03a8"/><stop offset=".15" stop-color="#8305a7"/><stop offset=".2" stop-color="#8104a7"/><stop offset=".25" stop-color="#8104a7"/><stop offset=".3" stop-color="#8a09a5"/><stop offset=".33" stop-color="#910ea3"/><stop offset=".36" stop-color="#a11b9b"/><stop offset=".4" stop-color="#b83289"/><stop offset=".43" stop-color="#cd4a76"/><stop offset=".46" stop-color="#d7566c"/><stop offset=".48" stop-color="#df6263"/><stop offset=".5" stop-color="#e16462"/><stop offset=".52" stop-color="#e76f5a"/><stop offset=".55" stop-color="#f0804e"/><stop offset=".6" stop-color="#f79143"/><stop offset=".65" stop-color="#fdb130"/><stop offset=".7" stop-color="#fdca26"/><stop offset=".75" stop-color="#f8df25"/></linearGradient>
<linearGradient id="g75" href="#g"><stop offset="." stop-color="#7801a8"/><stop offset=".05" stop-color="#7a02a8"/><stop offset=".1" stop-color="#7d03a8"/><stop offset=".15" stop-color="#8004a8"/><stop offset=".2" stop-color="#7d03a8"/><stop offset=".25" stop-color="#7b02a8"/><stop offset=".3" stop-color="#7a02a8"/><stop offset=".33" stop-color="#7d03a8"/><stop offset=".36" stop-color="#9613a1"/><stop offset=".4" stop-color="#a51f99"/><stop offset=".43" stop-color="#bb3488"/><stop offset=".46" stop-color="#cd4a76"/><stop offset=".48" stop-color="#d5546e"/><stop offset=".5" stop-color="#de6164"/><stop offset=".52" stop-color="#e4695e"/><stop offset=".55" stop-color="#eb7556"/><stop offset=".6" stop-color="#f48948"/><stop offset=".65" stop-color="#fba139"/><stop offset=".7" stop-color="#feb82c"/><stop offset=".75" stop-color="#fbd724"/><stop offset=".8" stop-color="#f4ed27"/><stop offset=".85" stop-color="#f1f426"/></linearGradient>
<linearGradient id="g76" href="#g"><stop offset="." stop-color="#8104a7"/><stop offset=".05" stop-color="#7e03a8"/><stop offset=".1" stop-color="#8305a7"/><stop offset=".15" stop-color="#8004a8"/><stop offset=".2" stop-color="#7e03a8"/><stop offset=".25" stop-color="#7a02a8"/><stop offset=".3" stop-color="#8104a7"/><stop offset=".33" stop-color="#8004a8"/><stop offset=".36" stop-color="#8e0ca4"/><stop offset=".4" stop-color="#a11b9b"/><stop offset=".43" stop-color="#ae2892"/><stop offset=".46" stop-color="#c23c81"/><stop offset=".48" stop-color="#cc4977"/><stop offset=".5" stop-color="#d6556d"/><stop offset=".52" stop-color="#e4695e"/><stop offset=".55" stop-color="#e87059"/><stop offset=".6" stop-color="#f58b47"/><stop offset=".65" stop-color="#fa9b3d"/><stop offset=".7" stop-color="#feba2c"/><stop offset=".75" stop-color="#fcd225"/><stop offset=".8" stop-color="#f5e926"/><stop offset=".85" stop-color="#f1f525"/></linearGradient>
<linearGradient id="g77" href="#g"><stop offset="." stop-color="#7401a8"/><stop offset=".05" stop-color="#7501a8"/><stop offset=".1" stop-color="#7401a8"/><stop offset=".15" stop-color="#7701a8"/><stop offset=".2" stop-color="#7401a8"/><stop offset=".25" stop-color="#7a02a8"/><stop offset=".3" stop-color="#6f00a8"/><stop offset=".33" stop-color="#8808a6"/><stop offset=".36" stop-color="#920fa3"/><stop offset=".4" stop-color="#a31e9a"/><stop offset=".43" stop-color="#b83289"/><stop offset=".46" stop-color="#d24f71"/><stop offset=".48" stop-color="#df6263"/><stop offset=".5" stop-color="#e56a5d"/><stop offset=".52" stop-color="#e97158"/><stop offset=".55" stop-color="#ef7e50"/><stop offset=".6" stop-color="#f89540"/><stop offset=".65" stop-color="#fdac33"/><stop offset=".7" stop-color="#fdc527"/><stop offset=".75" stop-color="#f8df25"/><stop offset=".8" stop-color="#f5eb27"/></linearGradient>
<linearGradient id="g78" href="#g"><stop offset="." stop-color="#6f00a8"/><stop offset=".05" stop-color="#7100a8"/><stop offset=".1" stop-color="#6c00a8"/><stop offset=".15" stop-color="#6900a8"/><stop offset=".2" stop-color="#6f00a8"/><stop offset=".25" stop-color="#6700a8"/><stop offset=".3" stop-color="#6900a8"/><stop offset=".33" stop-color="#6f00a8"/><stop offset=".36" stop-color="#7701a8"/><stop offset=".4" stop-color="#8606a6"/><stop offset=".43" stop-color="#8e0ca4"/><stop offset=".46" stop-color="#a31e9a"/><stop offset=".48" stop-color="#b7318a"/><stop offset=".5" stop-color="#c03a83"/><stop offset=".52" stop-color="#cf4c74"/><stop offset=".55" stop-color="#e26561"/><stop offset=".6" stop-color="#ef7e50"/><stop offset=".65" stop-color="#f79342"/><stop offset=".7" stop-color="#fca934"/><stop offset=".75" stop-color="#febe2a"/><stop offset=".8" stop-color="#fbd524"/><stop offset=".85" stop-color="#f6e826"/></linearGradient>
<linearGradient id="g79" href="#g"><stop offset="." stop-color="#7801a8"/><stop offset=".05" stop-color="#7d03a8"/><stop offset=".1" stop-color="#7b02a8"/><stop offset=".15" stop-color="#7b02a8"/><stop offset=".2" stop-color="#7d03a8"/><stop offset=".25" stop-color="#8004a8"/><stop offset=".3" stop-color="#7a02a8"/><stop offset=".33" stop-color="#8104a7"/><stop offset=".36" stop-color="#8305a7"/><stop offset=".4" stop-color="#920fa3"/><stop offset=".43" stop-color="#9d189d"/><stop offset=".46" stop-color="#b22b8f"/><stop offset=".48" stop-color="#c7427c"/><stop offset=".5" stop-color="#dc5d67"/><stop offset=".52" stop-color="#e66c5c"/><stop offset=".55" stop-color="#ef7e50"/><stop offset=".6" stop-color="#fa9b3d"/><stop offset=".65" stop-color="#fdb130"/><stop offset=".7" stop-color="#fccd25"/><stop offset=".75" stop-color="#f5e926"/><stop offset=".8" stop-color="#f0f921"/><stop offset=".85" stop-color="#f0f921"/></linearGradient>
<linearGradient id="g80" href="#g"><stop offset="." stop-color="#6100a7"/><stop offset=".05" stop-color="#5901a5"/><stop offset=".1" stop-color="#6100a7"/><stop offset=".15" stop-color="#6001a6"/><stop offset=".2" stop-color="#6001a6"/><stop offset=".25" stop-color="#6100a7"/><stop offset=".3" stop-color="#6400a7"/><stop offset=".33" stop-color="#6001a6"/><stop offset=".36" stop-color="#6c00a8"/><stop offset=".4" stop-color="#8104a7"/><stop offset=".43" stop-color="#8405a7"/><stop offset=".46" stop-color="#ae2892"/><stop offset=".48" stop-color="#cd4a76"/><stop offset=".5" stop-color="#db5c68"/><stop offset=".52" stop-color="#e56a5d"/><stop offset=".55" stop-color="#eb7655"/><stop offset=".6" stop-color="#f89441"/><stop offset=".65" stop-color="#fdac33"/><stop offset=".7" stop-color="#fdc328"/><stop offset=".75" stop-color="#f9dd25"/><stop offset=".8" stop-color="#f5eb27"/><stop offset=".85" stop-color="#f0f724"/></linearGradient>
<filter id="nf" x="0" y="0" width="1400" height="1000" filterUnits="userSpaceOnUse"><feOffset dx="0" dy="0"/></filter>
</defs>
<g id="heat">
<rect x="160" y="66" width="3" height="247.6" fill="url(#g0)"/>
<rect x="163" y="66" width="4" height="226" fill="url(#g1)"/>
<rect x="167" y="66" width="3" height="233" fill="url(#g2)"/>
<rect x="170" y="66" width="3" height="233" fill="url(#g3)"/>
<rect x="173" y="66" width="3" height="255" fill="url(#g4)"/>
<rect x="176" y="66" width="4" height="285" fill="url(#g5)"/>
<rect x="180" y="66" width="3" height="333" fill="url(#g6)"/>
<rect x="183" y="66" width="3" height="356" fill="url(#g7)"/>
<rect x="186" y="66" width="4" height="347" fill="url(#g8)"/>
<rect x="190" y="66" width="3" height="358" fill="url(#g9)"/>
<rect x="193" y="66" width="3" height="358" fill="url(#g10)"/>
<rect x="196" y="66" width="3" height="355" fill="url(#g11)"/>
<rect x="199" y="66" width="4" height="370" fill="url(#g12)"/>
<rect x="203" y="66" width="3" height="315" fill="url(#g13)"/>
<rect x="206" y="66" width="3" height="363" fill="url(#g14)"/>
<rect x="209" y="66" width="4" height="377" fill="url(#g15)"/>
<rect x="213" y="66" width="3" height="383" fill="url(#g16)"/>
<rect x="216" y="66" width="3" height="384" fill="url(#g17)"/>
<rect x="219" y="66" width="4" height="385.6" fill="url(#g18)"/>
<rect x="223" y="66" width="3" height="385.6" fill="url(#g19)"/>
<rect x="226" y="66" width="3" height="385.6" fill="url(#g20)"/>
<rect x="229" y="66" width="3" height="387" fill="url(#g21)"/>
<rect x="232" y="66" width="4" height="385.6" fill="url(#g22)"/>
<rect x="236" y="66" width="3" height="318" fill="url(#g23)"/>
<rect x="239" y="66" width="3" height="384" fill="url(#g24)"/>
<rect x="242" y="66" width="4" height="387" fill="url(#g25)"/>
<rect x="246" y="66" width="3" height="387" fill="url(#g26)"/>
<rect x="249" y="66" width="3" height="387" fill="url(#g27)"/>
<rect x="252" y="66" width="3" height="388.4" fill="url(#g28)"/>
<rect x="255" y="66" width="4" height="388.4" fill="url(#g29)"/>
<rect x="259" y="66" width="3" height="388.4" fill="url(#g30)"/>
<rect x="262" y="66" width="3" height="387.6" fill="url(#g31)"/>
<rect x="265" y="66" width="4" height="386.4" fill="url(#g32)"/>
<rect x="269" y="66" width="3" height="386.4" fill="url(#g33)"/>
<rect x="272" y="66" width="3" height="386.4" fill="url(#g34)"/>
<rect x="275" y="66" width="3" height="384" fill="url(#g35)"/>
<rect x="278" y="66" width="4" height="384" fill="url(#g36)"/>
<rect x="282" y="66" width="3" height="381" fill="url(#g37)"/>
<rect x="285" y="66" width="3" height="373" fill="url(#g38)"/>
<rect x="288" y="66" width="4" height="372" fill="url(#g39)"/>
<rect x="292" y="66" width="3" height="359" fill="url(#g40)"/>
<rect x="295" y="66" width="3" height="383" fill="url(#g41)"/>
<rect x="298" y="66" width="4" height="382" fill="url(#g42)"/>
<rect x="302" y="66" width="3" height="378" fill="url(#g43)"/>
<rect x="305" y="66" width="3" height="373" fill="url(#g44)"/>
<rect x="308" y="66" width="3" height="382" fill="url(#g45)"/>
<rect x="311" y="66" width="4" height="382" fill="url(#g46)"/>
<rect x="315" y="66" width="3" height="381" fill="url(#g47)"/>
<rect x="318" y="66" width="3" height="379" fill="url(#g48)"/>
<rect x="321" y="66" width="4" height="374" fill="url(#g49)"/>
<rect x="325" y="66" width="3" height="383" fill="url(#g50)"/>
<rect x="328" y="66" width="3" height="381" fill="url(#g51)"/>
<rect x="331" y="66" width="3" height="375.6" fill="url(#g52)"/>
<rect x="334" y="66" width="4" height="363.6" fill="url(#g53)"/>
<rect x="338" y="66" width="3" height="338" fill="url(#g54)"/>
<rect x="342" y="66" width="4" height="360" fill="url(#g55)"/>
<rect x="346" y="66" width="3" height="344" fill="url(#g56)"/>
<rect x="350" y="66" width="3" height="298" fill="url(#g57)"/>
<rect x="353" y="66" width="3" height="281" fill="url(#g58)"/>
<rect x="357" y="66" width="4" height="284.4" fill="url(#g59)"/>
<rect x="361" y="66" width="3" height="221" fill="url(#g60)"/>
<rect x="365" y="66" width="3" height="211.6" fill="url(#g61)"/>
<rect x="370" y="66" width="3" height="223.6" fill="url(#g62)"/>
<rect x="374" y="66" width="3" height="260" fill="url(#g63)"/>
<rect x="378" y="66" width="4" height="225" fill="url(#g64)"/>
<rect x="383" y="66" width="3" height="206" fill="url(#g65)"/>
<rect x="387" y="66" width="3" height="321.4" fill="url(#g66)"/>
<rect x="392" y="66" width="3" height="360.4" fill="url(#g67)"/>
<rect x="396" y="66" width="3" height="327.6" fill="url(#g68)"/>
<rect x="400" y="66" width="4" height="333.4" fill="url(#g69)"/>
<rect x="405" y="66" width="3" height="331" fill="url(#g70)"/>
<rect x="409" y="66" width="3" height="343" fill="url(#g71)"/>
<rect x="414" y="66" width="3" height="342" fill="url(#g72)"/>
<rect x="418" y="66" width="3" height="302" fill="url(#g73)"/>
<rect x="422" y="66" width="4" height="306" fill="url(#g74)"/>
<rect x="427" y="66" width="3" height="336" fill="url(#g75)"/>
<rect x="431" y="66" width="3" height="336" fill="url(#g76)"/>
<rect x="436" y="66" width="3" height="318" fill="url(#g77)"/>
<rect x="440" y="66" width="3" height="354" fill="url(#g78)"/>
<rect x="447" y="66" width="3" height="354" fill="url(#g79)"/>
<rect x="453" y="66" width="3" height="352" fill="url(#g80)"/>
<g stroke="#fff" fill="none">
<path d="M161.5 66v1m0 2v1m0 1v2m0 2v5m0 1v2m0 3v4m0 1v3m0 1v2m0 3v3m0 2v1m0 2v4m0 4v1m0 1v1m0 1v1m0 1v2m0 4v4m0 5v1m0 6v3m0 8v1m0 2v1m0 1v1m0 5v4m0 3v4m0 3v3m0 2v2m0 6v1m0 6v3m0 4v1m0 2v2m0 2v2m0 1v3m0 3v1m0 2v1m0 2v1m0 6v4m0 8v2m0 2v2m0 3v1m0 3v2m0 4v1m0 4v3m0 4v3m0 12v2m0 3v6m0 3v4m0 1v1" stroke-width="3"/>
<path d="M165 67v3m0 1v6m0 1v6m0 1v3m0 1v5m0 2v2m0 1v1m0 1v2m0 2v5m0 3v1m0 1v2m0 3v5m0 4v3m0 6v2m0 5v2m0 2v4m0 2v1m0 2v3m0 3v3m0 3v3m0 1v1m0 1v1m0 3v2m0 3v2m0 2v1m0 4v3m0 3v5m0 2v1m0 3v1m0 3v2m0 3v1m0 4v2m0 3v3m0 3v2m0 6v2m0 3v3m0 6v1m0 8v1m0 8v2m0 3v6m0 2v3" stroke-width="4"/>
<path d="M168.5 68v7m0 3v3m0 2v7m0 2v5m0 1v1m0 1v2m0 2v1m0 2v5m0 6v1m0 4v1m0 4v2m0 5v1m0 1v2m0 4v2m0 7v2m0 5v1m0 1v3m0 3v4m0 2v1m0 1v3m0 1v2m0 2v1m0 3v3m0 3v4m0 1v2m0 3v3m0 1v1m0 9v2m0 1v3m0 6v4m0 4v2m0 1v2m0 4v1m0 12v1m0 8v1m0 4v1m0 4v1m0 1v2m0 2v2m0 3v4m0 1v4" stroke-width="3"/>
<path d="M171.5 66v4m0 1v6m0 1v5m0 1v4m0 1v3m0 1v1m0 2v3m0 2v1m0 2v3m0 4v2m0 5v2m0 3v1m0 1v2m0 4v2m0 1v3m0 6v5m0 2v2m0 1v3m0 3v1m0 1v2m0 4v3m0 2v3m0 2v2m0 2v2m0 1v3m0 2v4m0 1v1m0 1v4m0 3v3m0 1v2m0 1v4m0 3v4m0 4v2m0 2v2m0 6v1m0 8v2m0 6v2m0 4v2m0 8v2m0 2v1m0 6v2m0 3v6m0 3v3" stroke-width="3"/>
<path d="M174.5 66v1m0 1v4m0 3v1m0 3v3m0 1v4m0 3v2m0 2v3m0 1v2m0 1v5m0 1v2m0 5v1m0 4v1m0 2v3m0 6v2m0 1v2m0 1v2m0 2v2m0 1v3m0 1v2m0 5v8m0 1v3m0 1v4m0 2v4m0 2v3m0 1v3m0 2v2m0 4v1m0 3v2m0 1v1m0 9v1m0 1v2m0 6v2m0 4v2m0 6v2m0 12v2m0 4v3m0 6v1m0 4v1m0 6v2m0 3v1m0 6v2m0 1v2m0 12v1m0 3v3m0 2v4" stroke-width="3"/>
<path d="M178 66v7m0 1v3m0 2v6m0 4v2m0 2v3m0 4v1m0 4v5m0 3v1m0 6v2m0 4v1m0 1v2m0 2v3m0 4v1m0 2v4m0 1v3m0 1v3m0 1v4m0 3v3m0 1v2m0 1v2m0 1v4m0 1v3m0 2v2m0 5v4m0 3v1m0 4v1m0 4v1m0 2v2m0 3v1m0 4v1m0 4v3m0 12v2m0 8v1m0 2v1m0 6v3m0 2v1m0 8v2m0 4v1m0 6v1m0 2v1m0 3v2m0 4v1m0 6v1m0 3v1m0 6v1m0 2v1m0 12v1m0 1v4m0 2v1m0 2v1m0 1v1m0 1v2" stroke-width="4"/>
<path d="M181.5 66v5m0 3v4m0 1v2m0 1v3m0 3v2m0 5v3m0 6v1m0 10v2m0 3v2m0 2v2m0 4v3m0 7v3m0 1v5m0 4v6m0 3v1m0 7v3m0 5v3m0 1v3m0 2v1m0 3v2m0 4v2m0 7v2m0 2v3m0 1v2m0 4v2m0 2v1m0 1v1m0 8v1m0 4v1m0 2v1m0 12v1m0 3v2m0 4v1m0 4v3m0 2v1m0 8v1m0 2v1m0 8v3m0 12v1m0 12v1m0 3v2m0 3v5m0 4v2m0 4v3m0 1v2m0 2v5m0 6v2m0 8v1m0 1v2m0 2v6m0 2v1m0 1v4" stroke-width="3"/>
<path d="M184.5 66v6m0 2v2m0 1v2m0 1v4m0 4v1m0 2v3m0 3v1m0 2v5m0 10v2m0 1v2m0 1v2m0 3v1m0 4v3m0 5v4m0 3v1m0 1v3m0 1v3m0 5v2m0 2v3m0 6v4m0 3v3m0 2v3m0 9v3m0 4v2m0 4v4m0 4v4m0 6v5m0 2v2m0 6v2m0 6v2m0 6v1m0 3v1m0 12v3m0 12v2m0 4v1m0 6v2m0 3v2m0 6v2m0 8v1m0 3v2m0 6v3m0 3v2m0 8v2m0 3v1m0 3v2m0 6v1m0 6v4m0 1v1m0 3v1m0 1v2m0 3v4m0 3v2m0 1v4m0 2v2m0 2v2m0 1v3" stroke-width="3"/>
<path d="M188 67v3m0 1v4m0 4v2m0 4v1m0 4v2m0 4v1m0 7v1m0 3v3m0 4v3m0 1v1m0 1v1m0 1v3m0 1v1m0 2v3m0 3v1m0 2v3m0 2v4m0 1v2m0 3v5m0 4v1m0 4v2m0 6v3m0 4v3m0 1v1m0 5v4m0 2v2m0 9v2m0 3v4m0 3v3m0 3v1m0 6v2m0 4v3m0 2v2m0 8v1m0 8v2m0 4v2m0 6v1m0 1v1m0 8v2m0 3v3m0 4v1m0 6v1m0 6v2m0 3v1m0 6v1m0 4v3m0 2v2m0 3v2m0 3v2m0 3v2m0 3v1m0 3v1m0 2v3m0 2v2m0 2v5m0 8v2m0 4v5m0 1v2m0 1v2m0 2v3m0 2v1" stroke-width="4"/>
<path d="M191.5 66v2m0 3v3m0 3v6m0 4v1m0 4v2m0 4v1m0 2v5m0 3v5m0 7v1m0 2v3m0 2v2m0 1v3m0 2v1m0 2v5m0 1v3m0 4v1m0 2v1m0 4v2m0 5v3m0 3v3m0 6v1m0 2v2m0 2v1m0 2v4m0 1v3m0 1v4m0 2v1m0 3v4m0 6v3m0 12v2m0 6v1m0 6v1m0 4v2m0 6v1m0 2v3m0 4v2m0 6v2m0 2v2m0 8v1m0 6v2m0 8v1m0 12v2m0 2v3m0 2v2m0 2v2m0 2v4m0 4v2m0 8v1m0 1v3m0 2v1m0 1v2m0 1v3m0 1v2m0 6v2m0 2v1m0 6v1m0 2v2m0 3v3m0 3v6m0 2v2m0 2v1" stroke-width="3"/>
<path d="M194.5 66v4m0 5v6m0 4v2m0 4v1m0 8v5m0 2v2m0 1v5m0 1v3m0 3v2m0 5v2m0 3v1m0 2v3m0 1v4m0 7v5m0 4v2m0 2v1m0 5v2m0 3v5m0 2v3m0 4v2m0 7v3m0 9v4m0 3v4m0 2v1m0 2v3m0 6v1m0 3v2m0 12v2m0 1v1m0 2v2m0 3v1m0 8v3m0 3v1m0 12v1m0 4v1m0 6v3m0 2v1m0 12v3m0 4v2m0 3v2m0 4v2m0 2v1m0 2v4m0 8v4m0 3v2m0 6v2m0 1v2m0 2v1m0 4v2m0 2v4m0 2v2m0 6v2m0 3v1m0 2v3m0 2v1m0 3v2" stroke-width="3"/>
<path d="M197.5 66v5m0 3v4m0 2v1m0 2v3m0 5v4m0 5v1m0 1v1m0 3v1m0 7v2m0 1v1m0 2v1m0 3v3m0 2v4m0 3v1m0 1v2m0 1v2m0 3v1m0 8v2m0 4v2m0 1v1m0 2v1m0 7v5m0 1v3m0 3v4m0 3v2m0 1v6m0 3v2m0 1v2m0 1v4m0 1v4m0 3v5m0 3v3m0 4v2m0 2v1m0 6v1m0 8v1m0 4v2m0 6v1m0 6v2m0 8v2m0 8v1m0 2v1m0 3v1m0 3v1m0 4v1m0 1v2m0 4v1m0 3v2m0 1v2m0 4v1m0 3v4m0 4v2m0 1v4m0 8v3m0 2v2m0 4v2m0 8v2m0 1v2m0 6v6m0 3v2m0 1v3m0 1v4m0 2v4" stroke-width="3"/>
<path d="M201 66v2m0 5v4m0 4v4m0 6v2m0 2v1m0 3v5m0 2v1m0 3v3m0 1v1m0 2v1m0 4v1m0 2v1m0 1v2m0 3v4m0 3v3m0 1v1m0 3v2m0 2v1m0 1v3m0 2v5m0 1v4m0 3v4m0 1v3m0 2v4m0 1v2m0 5v4m0 7v6m0 9v4m0 9v1m0 6v1m0 2v1m0 4v3m0 8v1m0 12v1m0 1v2m0 4v3m0 1v3m0 3v2m0 1v3m0 8v2m0 8v2m0 8v2m0 12v2m0 4v2m0 8v1m0 4v1m0 3v1m0 2v3m0 2v3m0 3v1m0 4v1m0 2v2m0 2v2m0 1v3m0 3v1m0 3v1m0 3v2m0 2v3m0 2v2m0 1v4m0 1v3m0 1v6m0 3v1" stroke-width="4"/>
<path d="M204.5 66v1m0 4v6m0 1v6m0 2v1m0 1v1m0 4v2m0 2v4m0 2v1m0 1v1m0 3v2m0 1v1m0 1v1m0 2v3m0 2v3m0 2v1m0 1v3m0 4v5m0 1v3m0 3v3m0 3v5m0 1v5m0 2v4m0 5v3m0 1v4m0 2v5m0 3v5m0 3v2m0 3v3m0 1v3m0 1v1m0 2v3m0 7v2m0 11v1m0 3v1m0 12v2m0 4v3m0 6v1m0 2v2m0 3v1m0 4v2m0 12v1m0 12v1m0 3v1m0 4v1m0 4v2m0 2v1m0 6v3m0 1v2m0 3v1m0 2v1m0 1v2m0 1v2m0 3v2m0 3v1m0 1v3m0 1v1m0 1v1m0 3v2" stroke-width="3"/>
<path d="M207.5 66v4m0 1v3m0 4v1m0 3v6m0 2v3m0 3v2m0 1v1m0 4v5m0 2v5m0 2v1m0 5v2m0 3v1m0 4v1m0 7v1m0 1v1m0 1v8m0 4v4m0 5v5m0 3v4m0 4v2m0 4v4m0 1v3m0 3v2m0 1v1m0 6v1m0 6v1m0 4v1m0 5v2m0 13v3m0 2v1m0 8v1m0 8v1m0 2v1m0 4v2m0 12v1m0 4v2m0 6v2m0 8v2m0 8v1m0 8v1m0 1v3m0 1v2m0 4v3m0 3v5m0 2v2m0 4v5m0 2v1m0 4v3m0 3v4m0 8v2m0 2v3m0 2v2m0 1v4m0 2v5m0 3v2m0 1v1m0 1v4m0 2v1" stroke-width="3"/>
<path d="M211 68v3m0 2v1m0 1v2m0 1v5m0 1v1m0 4v5m0 7v1m0 1v5m0 3v1m0 1v4m0 3v4m0 2v2m0 3v4m0 3v5m0 4v3m0 2v3m0 2v2m0 1v3m0 3v3m0 3v5m0 1v5m0 1v2m0 3v4m0 1v2m0 3v3m0 9v1m0 3v1m0 9v3m0 9v2m0 3v1m0 8v1m0 3v1m0 6v1m0 3v2m0 8v2m0 6v2m0 3v2m0 4v1m0 6v1m0 6v1m0 4v2m0 3v3m0 2v2m0 3v4m0 3v2m0 2v2m0 1v1m0 4v1m0 1v2m0 3v2m0 3v3m0 3v2m0 4v2m0 6v2m0 2v2m0 2v6m0 4v1m0 2v2m0 3v3m0 3v2m0 2v1m0 1v2m0 1v2m0 3v1m0 1v3m0 1v4m0 1v1m0 2v2" stroke-width="4"/>
<path d="M214.5 67v4m0 1v3m0 2v3m0 1v2m0 1v1m0 1v1m0 1v1m0 2v3m0 1v3m0 4v3m0 3v4m0 5v6m0 3v3m0 2v3m0 3v5m0 1v3m0 2v5m0 1v3m0 5v4m0 4v4m0 5v3m0 1v2m0 4v1m0 3v1m0 4v1m0 4v1m0 4v1m0 7v2m0 7v1m0 5v2m0 12v1m0 8v1m0 6v2m0 4v2m0 12v2m0 3v3m0 4v3m0 3v3m0 6v3m0 12v2m0 12v1m0 3v2m0 2v2m0 1v3m0 1v3m0 4v2m0 2v5m0 1v3m0 6v3m0 3v1m0 1v5m0 2v6m0 4v5m0 2v2m0 2v5m0 6v2m0 1v1m0 1v3m0 1v4m0 3v3m0 3v2" stroke-width="3"/>
<path d="M217.5 66v3m0 2v4m0 1v5m0 1v2m0 3v4m0 1v4m0 1v7m0 5v5m0 3v4m0 1v2m0 2v3m0 1v7m0 2v3m0 3v6m0 4v5m0 1v2m0 1v3m0 4v2m0 2v2m0 1v1m0 6v1m0 4v3m0 1v1m0 2v2m0 3v2m0 3v3m0 2v1m0 4v1m0 5v2m0 6v2m0 6v1m0 12v2m0 3v1m0 1v2m0 8v2m0 4v2m0 4v1m0 6v1m0 12v2m0 2v2m0 12v1m0 3v2m0 6v2m0 3v4m0 4v1m0 8v3m0 3v3m0 4v1m0 3v1m0 2v3m0 3v2m0 2v2m0 1v2m0 4v2m0 2v5m0 2v2m0 2v2m0 6v1m0 1v4m0 1v2m0 3v1m0 2v2m0 2v3m0 2v1m0 1v4m0 3v2" stroke-width="3"/>
<path d="M221 67v4m0 1v2m0 1v3m0 1v2m0 3v8m0 2v5m0 2v5m0 1v3m0 3v5m0 1v7m0 1v4m0 1v1m0 3v1m0 1v2m0 3v1m0 1v1m0 1v3m0 4v2m0 1v2m0 1v1m0 1v4m0 5v1m0 6v1m0 6v2m0 3v1m0 2v1m0 4v2m0 6v2m0 5v1m0 6v3m0 3v3m0 6v1m0 6v3m0 3v1m0 6v1m0 4v1m0 4v1m0 8v2m0 3v1m0 6v1m0 3v2m0 4v1m0 6v2m0 6v1m0 3v2m0 6v2m0 8v1m0 1v3m0 1v1m0 1v2m0 3v4m0 1v3m0 3v1m0 2v4m0 4v2m0 2v2m0 3v2m0 1v3m0 3v2m0 2v3m0 2v1m0 1v6m0 3v2m0 1v4m0 2v3m0 1v1m0 3v4m0 1v2m0 6v3m0 2v2m0 2v3m0 3v1" stroke-width="4"/>
<path d="M224.5 66v4m0 1v4m0 1v2m0 1v4m0 4v1m0 2v5m0 1v2m0 1v2m0 2v2m0 4v3m0 1v2m0 1v2m0 5v2m0 1v1m0 3v1m0 4v1m0 2v1m0 5v1m0 4v1m0 5v1m0 3v1m0 3v5m0 3v1m0 3v1m0 5v1m0 4v4m0 4v3m0 3v1m0 4v1m0 1v3m0 3v1m0 3v4m0 2v3m0 4v1m0 3v2m0 3v2m0 3v2m0 2v2m0 2v1m0 3v2m0 2v3m0 8v2m0 6v3m0 12v2m0 8v2m0 12v2m0 6v3m0 6v3m0 3v3m0 2v1m0 1v3m0 2v2m0 3v1m0 1v4m0 3v1m0 3v2m0 2v3m0 4v2m0 6v2m0 2v1m0 1v1m0 3v3m0 2v3m0 1v1m0 1v3m0 2v4m0 3v2m0 2v2m0 2v2m0 2v2m0 2v1m0 3v3m0 1v2" stroke-width="3"/>
<path d="M227.5 66v4m0 1v1m0 1v2m0 1v4m0 2v3m0 1v1m0 1v3m0 1v2m0 1v1m0 4v4m0 1v2m0 3v1m0 1v3m0 5v1m0 4v3m0 6v2m0 2v1m0 1v2m0 5v3m0 5v3m0 2v2m0 10v1m0 5v2m0 6v1m0 8v1m0 3v1m0 3v3m0 9v1m0 9v4m0 1v2m0 3v1m0 6v1m0 3v1m0 2v2m0 3v3m0 6v2m0 12v1m0 8v1m0 4v2m0 6v2m0 3v2m0 6v1m0 2v3m0 1v2m0 6v2m0 6v5m0 2v3m0 4v2m0 4v1m0 3v2m0 4v1m0 6v3m0 4v4m0 3v2m0 1v1m0 3v3m0 3v2m0 1v1m0 4v4m0 1v2m0 1v2m0 3v2m0 4v1m0 1v4m0 3v3m0 1v3m0 1v3m0 1v1m0 2v2" stroke-width="3"/>
<path d="M230.5 68v1m0 2v5m0 1v5m0 3v3m0 2v4m0 1v3m0 3v3m0 3v1m0 4v3m0 3v3m0 1v2m0 4v3m0 4v4m0 4v2m0 2v1m0 6v2m0 4v1m0 6v1m0 4v3m0 4v3m0 4v4m0 3v1m0 1v5m0 6v4m0 2v2m0 6v1m0 1v2m0 1v1m0 8v1m0 4v3m0 4v1m0 4v2m0 8v2m0 3v1m0 12v1m0 3v1m0 12v1m0 6v1m0 2v1m0 4v2m0 4v2m0 12v1m0 4v1m0 2v1m0 3v4m0 2v3m0 4v2m0 2v1m0 6v2m0 3v2m0 4v2m0 4v4m0 4v2m0 2v2m0 3v3m0 1v2m0 1v4m0 4v2m0 6v3m0 2v1m0 2v4m0 2v6m0 1v4m0 2v2" stroke-width="3"/>
<path d="M234 66v3m0 1v6m0 1v2m0 1v2m0 1v4m0 3v1m0 4v1m0 3v2m0 4v1m0 2v1m0 2v2m0 4v3m0 5v3m0 1v3m0 1v2m0 2v1m0 4v3m0 1v1m0 5v1m0 4v3m0 5v3m0 3v1m0 4v1m0 5v3m0 2v4m0 1v2m0 2v3m0 4v2m0 8v1m0 2v2m0 6v2m0 3v1m0 3v2m0 4v1m0 8v2m0 4v1m0 12v2m0 12v2m0 8v1m0 4v2m0 8v3m0 2v1m0 12v1m0 4v2m0 1v5m0 6v1m0 1v4m0 1v2m0 1v1m0 4v2m0 3v3m0 4v3m0 3v2m0 2v3m0 2v2m0 3v5m0 2v2m0 1v1m0 3v2m0 2v5m0 2v3m0 3v5m0 3v1m0 4v5m0 2v6m0 3v1" stroke-width="4"/>
<path d="M237.5 66v3m0 1v3m0 1v3m0 1v2m0 1v4m0 1v1m0 7v1m0 4v3m0 4v2m0 4v1m0 3v1m0 3v1m0 7v1m0 4v1m0 5v2m0 1v3m0 3v1m0 3v3m0 6v1m0 4v2m0 3v2m0 1v1m0 1v1m0 4v4m0 3v5m0 1v2m0 3v1m0 4v2m0 5v1m0 7v4m0 3v2m0 4v2m0 3v1m0 4v1m0 3v1m0 4v2m0 6v1m0 8v2m0 3v1m0 1v1m0 6v1m0 3v1m0 4v1m0 8v2m0 6v2m0 6v2m0 1v1m0 6v1m0 4v2m0 6v1m0 2v4m0 8v2m0 6v2m0 1v6m0 1v3m0 1v1m0 3v4" stroke-width="3"/>
<path d="M240.5 67v4m0 1v3m0 3v3m0 3v4m0 6v5m0 3v4m0 1v2m0 2v1m0 4v1m0 3v3m0 3v4m0 2v3m0 3v5m0 5v5m0 1v1m0 1v3m0 1v4m0 3v1m0 2v3m0 4v1m0 1v1m0 2v1m0 3v2m0 4v1m0 4v4m0 7v1m0 4v1m0 6v1m0 1v1m0 6v2m0 3v2m0 3v1m0 6v1m0 6v1m0 8v3m0 8v1m0 12v2m0 6v1m0 12v2m0 8v1m0 2v1m0 6v3m0 3v3m0 4v4m0 2v2m0 1v2m0 2v1m0 1v1m0 3v3m0 2v3m0 3v3m0 4v2m0 8v1m0 1v3m0 4v2m0 3v5m0 2v3m0 4v5m0 2v1m0 2v2m0 4v2m0 2v4m0 3v3m0 1v2" stroke-width="3"/>
<path d="M244 66v2m0 3v3m0 6v1m0 5v5m0 2v5m0 2v1m0 2v2m0 4v1m0 3v3m0 5v2m0 3v3m0 3v1m0 3v2m0 1v3m0 3v2m0 3v2m0 3v2m0 1v3m0 2v2m0 1v4m0 2v2m0 3v1m0 6v5m0 3v2m0 4v1m0 5v2m0 11v1m0 1v1m0 3v1m0 9v1m0 1v1m0 2v1m0 4v2m0 4v2m0 8v1m0 3v2m0 8v1m0 3v1m0 6v2m0 4v2m0 4v2m0 4v2m0 12v1m0 8v3m0 3v2m0 2v2m0 4v1m0 2v4m0 8v3m0 4v2m0 4v1m0 1v5m0 2v1m0 1v4m0 4v1m0 2v4m0 1v1m0 2v1m0 1v4m0 3v1m0 4v2m0 3v2m0 3v2m0 2v3m0 3v5m0 2v3m0 3v2m0 1v3" stroke-width="4"/>
<path d="M247.5 66v4m0 2v6m0 2v6m0 4v1m0 3v1m0 4v3m0 6v1m0 4v1m0 4v3m0 5v2m0 4v4m0 1v2m0 1v1m0 1v1m0 4v5m0 4v4m0 3v2m0 2v1m0 5v4m0 3v2m0 2v1m0 5v3m0 2v1m0 1v3m0 5v3m0 7v4m0 6v1m0 3v1m0 6v4m0 6v1m0 4v2m0 8v1m0 4v2m0 3v1m0 8v1m0 4v2m0 1v3m0 3v2m0 8v1m0 6v1m0 3v1m0 6v2m0 12v1m0 3v2m0 2v2m0 1v2m0 1v1m0 3v1m0 1v3m0 6v2m0 3v1m0 3v1m0 2v1m0 2v4m0 4v3m0 1v2m0 4v3m0 4v2m0 3v1m0 4v6m0 3v3m0 4v2m0 3v1m0 1v3m0 2v2m0 2v3m0 2v1" stroke-width="3"/>
<path d="M250.5 66v6m0 2v1m0 1v6m0 1v6m0 1v1m0 7v3m0 4v5m0 1v1m0 1v1m0 1v1m0 1v1m0 1v3m0 3v1m0 1v2m0 5v2m0 2v1m0 1v2m0 2v4m0 3v2m0 1v4m0 1v2m0 2v2m0 2v4m0 1v5m0 2v4m0 3v3m0 1v4m0 1v1m0 1v1m0 3v4m0 6v1m0 3v2m0 9v4m0 3v1m0 8v3m0 12v1m0 6v1m0 12v1m0 2v2m0 2v1m0 12v3m0 6v1m0 1v1m0 3v2m0 4v2m0 6v2m0 3v1m0 1v2m0 3v1m0 3v3m0 4v2m0 3v2m0 4v4m0 3v3m0 3v3m0 4v4m0 2v5m0 4v2m0 1v3m0 2v5m0 1v1m0 1v1m0 1v1m0 1v1m0 2v3m0 2v2m0 1v6m0 1v4m0 1v6m0 1v1m0 1v1m0 3v2" stroke-width="3"/>
<path d="M253.5 66v1m0 2v6m0 3v5m0 2v1m0 2v1m0 3v3m0 2v3m0 3v1m0 1v3m0 2v3m0 5v5m0 2v2m0 2v3m0 7v3m0 3v5m0 2v4m0 2v2m0 1v1m0 1v5m0 1v1m0 3v2m0 2v2m0 1v1m0 1v1m0 2v2m0 3v4m0 2v1m0 5v1m0 4v1m0 3v4m0 3v6m0 6v1m0 6v4m0 4v2m0 4v1m0 3v1m0 8v2m0 4v2m0 12v1m0 8v2m0 3v1m0 12v1m0 2v1m0 3v1m0 4v2m0 8v3m0 6v4m0 2v3m0 3v1m0 2v1m0 2v1m0 2v1m0 2v1m0 3v1m0 1v4m0 2v5m0 3v1m0 1v4m0 2v1m0 3v1m0 1v4m0 2v4m0 2v1m0 4v2m0 3v3m0 2v5m0 1v2m0 3v1m0 1v4m0 1v2m0 1v4" stroke-width="3"/>
<path d="M257 66v5m0 1v1m0 3v4m0 2v3m0 7v2m0 4v2m0 7v1m0 3v1m0 1v1m0 1v1m0 1v2m0 1v2m0 7v4m0 3v1m0 2v2m0 2v1m0 1v1m0 3v1m0 2v1m0 2v3m0 2v2m0 1v2m0 3v1m0 3v1m0 2v1m0 4v2m0 1v2m0 2v3m0 1v2m0 2v3m0 1v2m0 1v1m0 3v1m0 2v6m0 4v2m0 2v6m0 2v2m0 8v3m0 6v2m0 12v1m0 12v2m0 6v1m0 6v1m0 1v3m0 3v1m0 6v2m0 1v1m0 6v2m0 1v1m0 8v1m0 3v4m0 2v1m0 2v2m0 6v2m0 2v1m0 4v4m0 6v1m0 1v3m0 6v1m0 3v4m0 2v2m0 6v1m0 1v4m0 4v3m0 2v4m0 1v1m0 1v3m0 3v4m0 3v4m0 3v1m0 2v2m0 2v1m0 2v3" stroke-width="4"/>
<path d="M260.5 66v1m0 1v4m0 1v7m0 2v1m0 4v5m0 1v1m0 5v2m0 2v3m0 3v2m0 2v3m0 1v2m0 3v3m0 4v2m0 5v4m0 1v2m0 3v1m0 3v2m0 1v2m0 2v3m0 1v2m0 3v3m0 1v2m0 1v5m0 4v2m0 4v3m0 1v4m0 2v2m0 3v1m0 9v1m0 3v2m0 2v2m0 3v4m0 4v1m0 8v1m0 6v1m0 4v2m0 3v1m0 6v3m0 6v1m0 6v1m0 4v2m0 8v2m0 8v2m0 6v3m0 6v2m0 4v2m0 6v3m0 3v3m0 6v2m0 2v4m0 1v2m0 1v3m0 6v5m0 2v4m0 3v2m0 1v3m0 2v5m0 4v3m0 3v1m0 2v4m0 2v2m0 2v3m0 2v2m0 2v5m0 3v3m0 1v4m0 2v1" stroke-width="3"/>
<path d="M263.5 66v5m0 1v5m0 1v5m0 3v1m0 1v2m0 1v2m0 1v3m0 2v1m0 2v1m0 3v2m0 8v2m0 3v1m0 4v1m0 2v2m0 2v5m0 4v1m0 2v3m0 2v3m0 2v1m0 1v1m0 4v2m0 1v2m0 5v2m0 7v1m0 1v6m0 1v1m0 3v3m0 2v1m0 9v2m0 4v1m0 1v1m0 2v1m0 2v2m0 4v1m0 12v1m0 4v3m0 12v1m0 3v1m0 3v3m0 2v2m0 4v3m0 8v1m0 1v3m0 6v1m0 2v1m0 6v1m0 4v1m0 3v1m0 6v2m0 4v2m0 4v3m0 3v4m0 6v3m0 4v2m0 3v2m0 3v3m0 2v2m0 1v2m0 4v2m0 3v2m0 6v3m0 2v3m0 3v4m0 6v2m0 1v4m0 1v1m0 4v1m0 1v4m0 1v3m0 1v2m0 2v1m0 1v2" stroke-width="3"/>
<path d="M267 66v4m0 2v4m0 1v5m0 1v2m0 2v1m0 3v2m0 8v1m0 6v1m0 2v2m0 6v3m0 5v1m0 1v2m0 3v2m0 2v1m0 2v3m0 5v1m0 4v5m0 1v6m0 7v3m0 5v3m0 3v3m0 2v1m0 1v4m0 3v2m0 1v1m0 2v1m0 2v1m0 9v4m0 2v1m0 3v1m0 8v1m0 12v1m0 4v2m0 8v2m0 3v3m0 6v1m0 8v1m0 4v1m0 1v1m0 12v2m0 3v1m0 6v1m0 2v3m0 2v3m0 3v1m0 2v3m0 3v1m0 2v2m0 1v1m0 3v1m0 4v2m0 4v3m0 3v1m0 2v1m0 3v2m0 2v1m0 3v5m0 4v4m0 1v1m0 3v3m0 1v3m0 4v1m0 3v5m0 2v6m0 1v2m0 1v2m0 2v2m0 3v2m0 1v2" stroke-width="4"/>
<path d="M270.5 67v8m0 1v6m0 1v3m0 8v1m0 3v2m0 3v5m0 6v3m0 2v4m0 1v1m0 7v2m0 1v3m0 2v2m0 1v4m0 4v4m0 1v4m0 1v3m0 2v5m0 2v1m0 1v4m0 3v2m0 1v1m0 1v1m0 3v2m0 1v2m0 3v1m0 2v1m0 6v2m0 4v2m0 6v1m0 6v2m0 1v1m0 6v2m0 12v1m0 6v2m0 4v2m0 3v2m0 4v1m0 3v2m0 8v1m0 8v1m0 12v1m0 4v3m0 2v1m0 8v1m0 2v4m0 3v3m0 8v1m0 3v1m0 6v4m0 4v1m0 4v2m0 3v2m0 1v1m0 1v4m0 4v1m0 4v1m0 1v2m0 3v1m0 1v4m0 1v4m0 4v3m0 2v3m0 3v1m0 1v2m0 2v6m0 3v3" stroke-width="3"/>
<path d="M273.5 66v2m0 3v4m0 3v3m0 1v6m0 5v2m0 5v1m0 4v1m0 8v2m0 1v5m0 2v2m0 4v3m0 1v5m0 2v6m0 3v2m0 1v2m0 1v3m0 3v7m0 3v3m0 4v1m0 3v1m0 3v4m0 2v1m0 3v3m0 1v1m0 2v2m0 3v2m0 4v1m0 1v1m0 2v2m0 2v2m0 6v2m0 8v2m0 4v1m0 3v2m0 12v1m0 3v1m0 2v1m0 4v1m0 12v1m0 8v2m0 3v2m0 12v1m0 12v1m0 1v2m0 1v1m0 3v4m0 2v4m0 6v2m0 4v1m0 2v3m0 1v3m0 8v3m0 3v1m0 1v2m0 2v4m0 2v1m0 2v5m0 2v1m0 3v3m0 2v5m0 4v1m0 4v3m0 2v2m0 3v6m0 2v1" stroke-width="3"/>
<path d="M276.5 66v5m0 4v5m0 2v1m0 2v4m0 3v1m0 6v2m0 6v1m0 1v4m0 2v1m0 3v4m0 1v2m0 1v2m0 3v4m0 1v2m0 2v3m0 2v4m0 1v3m0 1v3m0 1v2m0 1v2m0 3v2m0 5v2m0 1v1m0 3v3m0 2v3m0 4v3m0 1v4m0 9v2m0 3v2m0 4v1m0 2v2m0 12v3m0 3v1m0 12v2m0 2v1m0 8v1m0 4v1m0 8v1m0 12v2m0 4v1m0 6v2m0 4v2m0 6v1m0 12v2m0 2v3m0 3v4m0 2v2m0 3v2m0 6v2m0 2v5m0 3v4m0 1v1m0 3v1m0 4v2m0 6v3m0 1v2m0 2v2m0 1v5m0 2v3m0 2v2m0 3v2m0 3v3m0 1v4m0 1v4m0 1v3" stroke-width="3"/>
<path d="M280 69v3m0 4v4m0 4v2m0 4v2m0 2v2m0 4v1m0 2v1m0 3v1m0 5v1m0 2v3m0 2v3m0 2v2m0 1v4m0 1v4m0 3v6m0 3v2m0 1v4m0 2v3m0 3v3m0 7v1m0 5v2m0 5v1m0 2v2m0 4v2m0 1v1m0 1v1m0 3v3m0 4v3m0 9v1m0 8v1m0 4v1m0 4v1m0 8v1m0 6v2m0 4v1m0 3v3m0 6v1m0 8v2m0 12v1m0 2v1m0 3v3m0 6v3m0 6v2m0 6v4m0 8v1m0 1v1m0 3v3m0 2v1m0 4v3m0 3v5m0 2v3m0 1v2m0 1v1m0 3v4m0 2v5m0 2v2m0 3v6m0 3v3m0 4v2m0 2v2m0 2v2m0 2v2m0 2v4m0 2v3m0 2v2" stroke-width="4"/>
<path d="M283.5 68v6m0 4v4m0 3v2m0 2v1m0 3v2m0 2v2m0 3v2m0 3v4m0 1v5m0 2v5m0 1v2m0 2v5m0 2v1m0 2v4m0 2v1m0 1v3m0 2v3m0 5v2m0 4v1m0 3v1m0 3v1m0 3v2m0 5v1m0 1v2m0 3v2m0 2v3m0 1v8m0 4v3m0 6v3m0 2v4m0 4v1m0 2v1m0 3v2m0 8v2m0 8v1m0 1v1m0 6v1m0 3v2m0 6v1m0 4v2m0 8v1m0 6v2m0 6v2m0 8v1m0 3v3m0 1v2m0 3v3m0 4v5m0 2v3m0 2v1m0 3v1m0 4v4m0 2v1m0 3v3m0 4v2m0 4v2m0 3v2m0 2v6m0 2v1m0 2v2m0 3v2m0 2v3m0 3v5m0 1v2m0 1v3m0 1v3m0 1v2m0 1v4" stroke-width="3"/>
<path d="M286.5 69v2m0 2v3m0 1v2m0 2v4m0 2v3m0 1v2m0 2v4m0 2v5m0 2v4m0 1v5m0 2v1m0 2v6m0 3v2m0 3v3m0 1v2m0 1v2m0 3v3m0 2v1m0 7v2m0 4v2m0 1v1m0 4v2m0 2v1m0 1v4m0 3v2m0 2v2m0 1v4m0 9v3m0 1v4m0 9v6m0 3v1m0 6v2m0 6v1m0 3v1m0 3v1m0 2v3m0 12v1m0 12v1m0 3v3m0 3v2m0 6v2m0 8v2m0 6v1m0 1v2m0 6v1m0 2v4m0 1v2m0 1v1m0 6v1m0 6v3m0 2v1m0 1v2m0 2v2m0 2v1m0 1v2m0 6v1m0 4v5m0 3v2m0 3v2m0 2v2m0 1v1m0 1v2m0 4v3m0 3v1m0 2v2m0 2v6m0 1v1" stroke-width="3"/>
<path d="M290 70v3m0 1v2m0 1v1m0 1v4m0 2v1m0 3v1m0 1v3m0 2v2m0 1v5m0 1v5m0 2v3m0 1v2m0 2v3m0 4v1m0 2v5m0 1v3m0 4v3m0 4v2m0 3v2m0 2v1m0 5v1m0 1v2m0 1v5m0 1v3m0 3v5m0 1v2m0 3v5m0 2v6m0 2v3m0 2v3m0 2v2m0 3v1m0 4v2m0 5v1m0 2v1m0 6v1m0 12v1m0 12v1m0 6v2m0 8v1m0 12v1m0 6v3m0 4v1m0 4v3m0 3v2m0 2v2m0 1v5m0 2v1m0 1v1m0 4v2m0 1v2m0 4v1m0 3v1m0 2v4m0 6v5m0 2v3m0 4v4m0 3v5m0 4v1m0 1v2m0 4v3m0 3v2m0 1v3m0 2v6m0 1v3m0 2v1" stroke-width="4"/>
<path d="M293.5 66v4m0 2v1m0 2v1m0 2v2m0 1v2m0 1v1m0 1v4m0 7v4m0 2v4m0 2v5m0 4v3m0 1v5m0 1v4m0 3v2m0 6v1m0 4v1m0 3v5m0 3v5m0 1v4m0 2v4m0 1v3m0 1v4m0 4v2m0 1v6m0 1v6m0 4v1m0 2v4m0 3v1m0 8v1m0 4v2m0 2v1m0 6v2m0 8v1m0 8v1m0 3v1m0 4v3m0 12v1m0 3v1m0 6v3m0 1v1m0 8v2m0 3v2m0 3v3m0 1v2m0 8v4m0 6v1m0 6v2m0 3v3m0 4v4m0 4v5m0 1v1m0 6v2m0 1v3m0 2v6m0 4v3m0 3v2m0 3v4m0 3v1m0 2v1" stroke-width="3"/>
<path d="M296.5 66v3m0 2v2m0 1v5m0 1v4m0 1v4m0 2v1m0 2v5m0 1v4m0 7v4m0 4v1m0 2v1m0 2v4m0 4v3m0 2v3m0 4v2m0 7v3m0 3v2m0 1v1m0 1v1m0 4v5m0 2v5m0 3v4m0 1v7m0 3v2m0 6v3m0 7v1m0 4v1m0 4v2m0 4v1m0 6v1m0 3v3m0 8v2m0 2v3m0 12v1m0 3v1m0 6v2m0 8v1m0 12v1m0 4v2m0 2v1m0 4v2m0 6v1m0 3v2m0 3v1m0 6v3m0 4v3m0 2v1m0 2v1m0 2v3m0 6v5m0 1v5m0 3v1m0 4v5m0 4v1m0 4v3m0 4v3m0 1v3m0 2v2m0 2v3m0 2v2m0 1v3m0 1v6m0 2v2" stroke-width="3"/>
<path d="M300 66v4m0 1v5m0 1v4m0 2v3m0 2v4m0 1v3m0 2v3m0 3v2m0 2v5m0 1v1m0 1v1m0 1v1m0 2v1m0 4v2m0 6v1m0 4v4m0 6v1m0 2v4m0 1v5m0 2v6m0 4v1m0 1v4m0 5v1m0 1v6m0 2v1m0 7v1m0 4v1m0 8v1m0 6v1m0 1v1m0 14v3m0 3v2m0 4v1m0 1v2m0 6v2m0 2v1m0 3v1m0 3v1m0 4v2m0 1v1m0 2v1m0 2v1m0 1v2m0 3v1m0 4v1m0 12v2m0 2v1m0 6v1m0 8v3m0 2v3m0 3v3m0 4v2m0 1v2m0 3v1m0 1v4m0 6v1m0 4v4m0 1v4m0 4v4m0 2v1m0 1v6m0 2v2m0 6v3m0 1v2m0 3v2m0 2v4m0 2v2m0 1v2m0 2v2m0 1v4" stroke-width="4"/>
<path d="M303.5 66v3m0 2v6m0 2v2m0 2v4m0 1v3m0 1v4m0 1v5m0 2v3m0 3v2m0 2v3m0 4v1m0 2v2m0 1v1m0 5v2m0 1v1m0 1v3m0 1v4m0 4v1m0 3v2m0 3v1m0 7v4m0 2v2m0 5v1m0 1v5m0 3v3m0 2v3m0 8v5m0 9v1m0 8v1m0 1v1m0 1v2m0 6v1m0 2v1m0 6v1m0 3v1m0 1v2m0 6v1m0 3v1m0 1v3m0 4v2m0 6v2m0 3v2m0 8v2m0 6v1m0 4v1m0 12v1m0 2v4m0 6v3m0 2v2m0 3v2m0 3v3m0 4v3m0 3v3m0 4v2m0 6v3m0 1v2m0 3v6m0 6v3m0 1v2m0 2v1m0 2v2m0 3v3m0 3v1m0 1v4m0 2v2m0 1v4m0 1v2" stroke-width="3"/>
<path d="M306.5 66v2m0 4v1m0 1v4m0 1v3m0 3v4m0 4v2m0 1v4m0 2v1m0 1v1m0 1v2m0 2v2m0 4v4m0 1v1m0 2v4m0 2v4m0 2v2m0 1v1m0 4v2m0 2v3m0 1v1m0 1v5m0 1v4m0 1v4m0 2v1m0 5v4m0 1v4m0 3v1m0 1v1m0 3v4m0 1v4m0 10v4m0 12v4m0 3v1m0 4v1m0 3v3m0 1v1m0 3v2m0 12v1m0 4v2m0 8v2m0 4v1m0 6v1m0 2v2m0 12v2m0 6v2m0 8v1m0 4v1m0 2v3m0 1v2m0 2v2m0 1v3m0 2v3m0 3v3m0 3v1m0 4v3m0 3v2m0 2v2m0 2v2m0 4v3m0 2v1m0 1v4m0 2v6m0 1v2m0 3v2m0 2v3m0 1v4m0 1v6m0 2v1" stroke-width="3"/>
<path d="M309.5 66v2m0 4v3m0 3v2m0 1v6m0 3v2m0 1v3m0 2v2m0 2v2m0 1v1m0 4v3m0 2v3m0 4v1m0 1v1m0 3v1m0 2v4m0 2v2m0 7v2m0 2v4m0 7v4m0 4v6m0 3v1m0 3v1m0 4v1m0 3v2m0 5v2m0 7v1m0 4v1m0 1v2m0 2v2m0 6v1m0 6v2m0 8v1m0 6v2m0 6v1m0 12v2m0 8v1m0 4v2m0 8v1m0 12v1m0 12v3m0 8v1m0 4v2m0 3v3m0 6v1m0 6v1m0 4v2m0 8v1m0 2v1m0 1v3m0 1v5m0 3v1m0 2v3m0 6v4m0 2v1m0 2v6m0 1v1m0 2v4m0 4v5m0 1v1m0 1v1m0 3v1m0 3v2" stroke-width="3"/>
<path d="M313 66v4m0 1v3m0 1v4m0 1v3m0 1v2m0 7v1m0 3v5m0 1v1m0 1v3m0 3v3m0 4v2m0 1v2m0 5v1m0 3v1m0 1v1m0 4v1m0 3v3m0 1v4m0 1v3m0 1v7m0 2v2m0 2v2m0 3v1m0 3v5m0 4v2m0 3v1m0 4v1m0 2v5m0 3v1m0 2v2m0 4v1m0 2v2m0 6v3m0 6v4m0 8v1m0 3v2m0 1v1m0 12v2m0 3v1m0 6v3m0 4v1m0 12v3m0 8v2m0 4v2m0 3v1m0 6v2m0 4v2m0 1v2m0 4v2m0 3v2m0 2v5m0 4v5m0 2v3m0 3v2m0 3v3m0 3v4m0 1v3m0 1v4m0 3v2m0 1v5m0 1v3m0 1v3m0 2v6m0 1v5m0 2v1m0 1v1m0 3v4" stroke-width="4"/>
<path d="M316.5 66v6m0 1v2m0 1v3m0 2v1m0 1v4m0 2v4m0 2v5m0 1v2m0 4v4m0 2v1m0 1v3m0 3v2m0 2v4m0 3v3m0 2v2m0 1v2m0 4v2m0 3v5m0 1v1m0 7v4m0 4v1m0 2v3m0 2v3m0 4v1m0 3v1m0 3v5m0 2v2m0 3v1m0 1v1m0 3v3m0 1v1m0 9v4m0 6v3m0 8v2m0 8v1m0 6v1m0 3v1m0 6v1m0 12v1m0 6v2m0 3v2m0 1v1m0 6v2m0 12v2m0 4v5m0 4v2m0 3v1m0 3v2m0 2v2m0 1v1m0 3v2m0 6v3m0 3v3m0 4v3m0 2v5m0 4v2m0 4v1m0 2v2m0 1v1m0 1v4m0 3v2m0 2v5m0 1v1m0 2v2m0 1v1m0 3v1m0 3v4" stroke-width="3"/>
<path d="M319.5 66v4m0 1v5m0 1v3m0 1v4m0 1v4m0 1v5m0 1v1m0 2v3m0 2v4m0 1v2m0 1v1m0 4v3m0 1v1m0 4v4m0 2v3m0 2v2m0 2v1m0 1v1m0 1v2m0 1v2m0 1v1m0 2v3m0 4v1m0 4v1m0 1v2m0 1v1m0 1v1m0 3v1m0 1v1m0 5v3m0 2v3m0 1v1m0 1v3m0 6v4m0 4v2m0 2v1m0 3v1m0 2v2m0 3v3m0 4v1m0 6v2m0 8v1m0 6v1m0 8v2m0 4v1m0 6v1m0 3v1m0 8v1m0 8v1m0 8v3m0 4v1m0 4v1m0 4v3m0 2v2m0 2v1m0 2v3m0 2v2m0 4v1m0 2v1m0 4v2m0 2v2m0 2v3m0 8v2m0 2v1m0 3v6m0 1v4m0 1v3m0 2v1m0 2v2m0 3v2m0 3v3m0 3v4m0 2v4m0 1v1m0 3v4" stroke-width="3"/>
<path d="M323 66v4m0 3v5m0 1v2m0 1v6m0 3v1m0 1v2m0 7v4m0 1v4m0 2v2m0 2v1m0 3v1m0 4v4m0 1v1m0 1v3m0 2v1m0 2v2m0 3v1m0 3v2m0 2v3m0 3v1m0 3v1m0 1v2m0 1v2m0 2v4m0 3v1m0 5v3m0 1v5m0 5v1m0 4v2m0 9v4m0 4v3m0 4v3m0 6v1m0 8v3m0 4v1m0 4v3m0 4v1m0 6v1m0 6v1m0 6v3m0 3v1m0 2v1m0 12v3m0 3v2m0 4v1m0 8v1m0 8v2m0 4v2m0 3v1m0 3v1m0 2v4m0 8v1m0 4v4m0 3v2m0 3v1m0 1v1m0 6v1m0 2v2m0 6v1m0 3v2m0 4v2m0 1v6m0 3v3m0 2v1m0 1v3" stroke-width="4"/>
<path d="M326.5 66v5m0 1v6m0 1v7m0 1v2m0 1v6m0 1v1m0 2v3m0 1v3m0 2v1m0 5v1m0 1v3m0 4v2m0 3v2m0 5v2m0 1v1m0 3v3m0 1v4m0 1v1m0 4v1m0 3v3m0 1v1m0 4v3m0 3v1m0 1v1m0 1v1m0 3v5m0 3v2m0 2v1m0 2v2m0 8v4m0 6v3m0 3v1m0 6v3m0 4v1m0 4v1m0 8v1m0 4v2m0 8v3m0 6v2m0 2v1m0 2v1m0 1v1m0 8v2m0 3v2m0 6v2m0 6v1m0 6v3m0 2v3m0 8v4m0 1v1m0 2v3m0 6v2m0 3v2m0 8v2m0 3v1m0 4v3m0 1v3m0 4v4m0 1v6m0 2v3m0 3v2m0 2v6m0 3v2m0 2v5m0 1v1m0 2v3m0 1v1m0 1v4" stroke-width="3"/>
<path d="M329.5 67v5m0 2v8m0 2v4m0 1v1m0 2v4m0 1v2m0 1v1m0 2v3m0 1v1m0 1v3m0 4v4m0 2v2m0 1v2m0 3v5m0 2v2m0 5v2m0 1v1m0 2v1m0 1v2m0 1v3m0 1v2m0 2v1m0 4v1m0 6v1m0 3v1m0 3v1m0 4v4m0 2v1m0 5v1m0 12v2m0 2v2m0 6v2m0 6v1m0 8v2m0 8v3m0 6v1m0 2v3m0 4v2m0 3v1m0 8v2m0 1v2m0 8v1m0 8v2m0 1v2m0 4v1m0 6v1m0 2v1m0 3v1m0 3v4m0 1v4m0 2v4m0 1v2m0 3v2m0 1v1m0 2v2m0 4v1m0 4v4m0 6v2m0 1v4m0 1v3m0 2v4m0 4v4m0 2v2m0 1v2m0 2v4m0 1v3m0 3v2m0 1v2m0 2v4m0 1v3m0 2v3" stroke-width="3"/>
<path d="M332.5 66v3m0 1v6m0 1v4m0 2v1m0 3v3m0 1v2m0 1v2m0 7v1m0 5v2m0 7v2m0 2v1m0 3v1m0 2v1m0 2v1m0 5v1m0 5v1m0 2v4m0 1v2m0 2v4m0 3v3m0 2v3m0 4v2m0 4v2m0 1v1m0 5v5m0 3v1m0 4v2m0 3v3m0 4v3m0 6v2m0 6v2m0 6v1m0 3v2m0 8v2m0 3v2m0 2v1m0 4v1m0 8v1m0 8v3m0 4v1m0 6v1m0 4v3m0 2v1m0 2v2m0 6v2m0 6v1m0 1v3m0 4v3m0 1v2m0 4v2m0 2v3m0 4v2m0 1v4m0 1v4m0 3v2m0 1v3m0 4v4m0 2v2m0 2v2m0 3v1m0 1v3m0 1v2m0 3v3m0 4v2m0 3v1m0 1v2m0 1v2m0 3v4m0 1v2m0 1v1" stroke-width="3"/>
<path d="M336 66v2m0 2v3m0 2v1m0 1v2m0 1v3m0 3v1m0 1v1m0 2v3m0 2v5m0 4v4m0 4v3m0 2v4m0 3v1m0 1v1m0 3v3m0 1v3m0 1v1m0 1v2m0 2v2m0 1v2m0 4v5m0 6v3m0 2v4m0 5v1m0 1v2m0 4v1m0 3v1m0 5v3m0 9v1m0 1v1m0 6v4m0 2v2m0 8v1m0 3v1m0 6v2m0 4v2m0 6v1m0 6v2m0 2v3m0 6v1m0 6v2m0 3v2m0 8v3m0 8v2m0 4v1m0 6v1m0 2v1m0 3v1m0 4v4m0 6v3m0 2v4m0 4v3m0 3v1m0 2v2m0 2v5m0 2v3m0 2v3m0 2v3m0 1v2m0 1v1m0 3v2m0 3v5m0 2v1m0 2v4m0 3v4" stroke-width="4"/>
<path d="M339.5 68v2m0 2v1m0 4v3m0 4v4m0 5v3m0 3v5m0 7v1m0 2v1m0 3v4m0 3v1m0 2v2m0 1v3m0 5v1m0 5v1m0 6v5m0 2v1m0 2v1m0 2v4m0 2v5m0 5v1m0 6v2m0 3v4m0 1v2m0 9v3m0 3v2m0 3v4m0 4v1m0 6v2m0 12v3m0 4v1m0 4v2m0 2v1m0 1v1m0 12v3m0 2v2m0 4v1m0 8v2m0 8v1m0 6v2m0 6v2m0 3v1m0 2v3m0 3v3m0 3v3m0 6v1m0 1v5m0 4v2m0 3v3m0 1v4m0 1v4m0 1v1m0 1v4m0 2v4m0 1v1m0 2v4" stroke-width="3"/>
<path d="M344 66v8m0 1v4m0 2v2m0 3v9m0 2v7m0 3v1m0 3v1m0 3v1m0 1v3m0 1v4m0 1v3m0 1v3m0 3v1m0 9v1m0 9v1m0 6v2m0 4v1m0 9v2m0 6v1m0 4v1m0 16v2m0 12v1m0 6v1m0 9v1m0 9v1m0 9v4m0 12v2m0 9v1m0 22v4m0 6v1m0 16v2m0 12v2m0 9v2m0 2v1m0 2v1m0 9v3m0 3v2m0 3v1m0 9v3m0 1v1m0 5v8m0 2v1m0 2v1m0 1v1" stroke-width="4"/>
<path d="M347.5 68v2m0 3v6m0 1v3m0 1v3m0 1v3m0 3v1m0 7v2m0 3v5m0 1v3m0 3v1m0 2v3m0 3v1m0 3v1m0 3v1m0 13v4m0 12v4m0 16v1m0 22v4m0 16v1m0 3v1m0 9v1m0 6v1m0 9v1m0 9v1m0 3v1m0 3v1m0 6v2m0 12v2m0 9v1m0 16v4m0 3v1m0 9v4m0 12v1m0 3v5m0 3v2m0 2v1m0 3v5m0 3v3m0 1v5m0 2v5m0 3v3" stroke-width="3"/>
<path d="M351.5 66v4m0 1v3m0 3v6m0 3v1m0 3v1m0 3v6m0 3v1m0 7v1m0 3v5m0 3v2m0 3v5m0 3v5m0 2v3m0 5v3m0 2v2m0 22v1m0 9v4m0 12v1m0 9v2m0 9v2m0 12v2m0 9v4m0 6v1m0 4v2m0 22v2m0 6v4m0 3v2m0 9v1m0 3v1m0 16v1m0 2v2m0 2v1m0 1v5m0 1v8" stroke-width="3"/>
<path d="M354.5 66v13m0 3v1m0 1v3m0 1v3m0 5v4m0 3v1m0 2v2m0 3v1m0 1v3m0 2v15m0 3v1m0 1v3m0 1v12m0 3v5m0 2v2m0 9v1m0 9v1m0 16v4m0 16v1m0 3v2m0 16v1m0 16v1m0 12v1m0 9v4m0 3v1m0 9v1m0 6v2m0 9v2m0 12v1m0 2v2m0 3v1m0 3v2" stroke-width="3"/>
<path d="M359 66v4m0 1v3m0 2v3m0 2v2m0 3v9m0 1v4m0 3v1m0 2v2m0 3v5m0 1v3m0 3v2m0 1v3m0 3v1m0 1v3m0 1v8m0 5v3m0 5v3m0 1v3m0 1v4m0 1v3m0 1v3m0 12v1m0 6v1m0 9v4m0 22v2m0 6v2m0 9v4m0 3v2m0 12v1m0 3v1m0 22v1m0 6v2m0 16v1m0 2v3m0 2v1m0 5v1m0 5v2" stroke-width="4"/>
<path d="M362.5 66v8m0 1v4m0 4v4m0 1v3m0 3v1m0 2v3m0 3v1m0 1v3m0 3v9m0 1v4m0 3v1m0 3v1m0 1v3m0 2v2m0 6v3m0 3v1m0 3v1m0 2v2m0 1v3m0 3v6m0 1v3m0 5v3m0 16v1m0 12v1m0 12v4m0 22v2m0 6v1m0 1v2m0 5v1m0 2v3m0 1v1m0 5v1" stroke-width="3"/>
<path d="M366.5 66v4m0 1v3m0 8v1m0 2v2m0 3v1m0 3v1m0 2v3m0 7v1m0 1v3m0 4v4m0 1v4m0 3v1m0 4v4m0 1v3m0 3v6m0 2v6m0 3v1m0 3v1m0 1v4m0 7v5m0 2v2m0 1v4m0 1v3m0 9v1m0 6v4m0 16v4m0 6v1m0 16v1m0 2v5m0 3v5m0 2v1" stroke-width="3"/>
<path d="M371.5 67v7m0 3v2m0 5v3m0 3v1m0 2v7m0 3v1m0 1v3m0 3v5m0 1v3m0 3v2m0 1v3m0 6v6m0 1v4m0 1v3m0 2v6m0 3v5m0 3v2m0 10v2m0 1v3m0 2v3m0 2v2m0 3v1m0 16v1m0 3v1m0 12v1m0 12v2m0 9v2m0 6v1m0 5v5m0 3v8m0 2v1" stroke-width="3"/>
<path d="M375.5 66v4m0 3v1m0 8v1m0 3v1m0 4v4m0 1v4m0 3v1m0 1v3m0 1v3m0 2v2m0 2v2m0 9v8m0 4v5m0 11v1m0 1v7m0 2v7m0 3v1m0 2v6m0 3v2m0 1v3m0 6v2m0 6v1m0 6v1m0 9v2m0 16v4m0 9v1m0 12v1m0 6v2m0 12v1m0 4v4m0 5v8m0 3v2m0 3v1m0 2v1" stroke-width="3"/>
<path d="M380 66v8m0 3v2m0 3v1m0 3v1m0 2v2m0 2v2m0 1v8m0 1v3m0 1v3m0 3v1m0 2v2m0 8v1m0 1v7m0 7v2m0 1v7m0 2v2m0 2v2m0 3v1m0 3v2m0 1v3m0 1v3m0 3v1m0 3v1m0 1v8m0 6v2m0 4v4m0 9v1m0 4v4m0 16v2m0 22v1m0 2v1m0 3v1m0 5v1m0 3v2" stroke-width="4"/>
<path d="M384.5 66v8m0 3v2m0 3v1m0 3v1m0 2v2m0 2v7m0 2v14m0 3v1m0 3v2m0 1v3m0 2v2m0 5v8m0 2v2m0 2v2m0 3v1m0 2v2m0 1v3m0 3v2m0 1v3m0 4v8m0 2v3m0 2v2m0 1v3m0 9v2m0 4v1m0 6v1m0 12v1m0 12v1m0 1v2m0 3v3m0 1v2m0 2v3m0 1v3" stroke-width="3"/>
<path d="M388.5 68v2m0 1v3m0 1v8m0 2v2m0 6v2m0 3v14m0 4v4m0 3v2m0 3v5m0 1v3m0 3v1m0 2v3m0 2v6m0 2v2m0 2v6m0 2v11m0 6v2m0 1v4m0 3v1m0 3v1m0 2v2m0 22v4m0 3v1m0 16v1m0 12v1m0 6v2m0 4v1m0 6v1m0 9v1m0 4v4m0 9v2m0 4v1m0 4v1m0 9v1m0 6v4m0 22v2m0 5v3m0 3v2m0 5v1" stroke-width="3"/>
<path d="M393.5 69v5m0 1v4m0 1v11m0 2v2m0 1v8m0 2v2m0 1v3m0 2v2m0 2v2m0 1v4m0 2v2m0 1v3m0 1v7m0 2v3m0 1v3m0 3v1m0 5v3m0 2v2m0 8v1m0 1v3m0 5v3m0 5v4m0 5v3m0 3v1m0 16v2m0 16v4m0 12v1m0 22v2m0 12v2m0 6v1m0 4v4m0 6v1m0 6v1m0 4v1m0 6v1m0 6v2m0 4v4m0 9v1m0 6v3m0 3v1m0 3v3m0 6v3m0 9v1m0 5v8m0 1v5m0 2v1m0 1v1" stroke-width="3"/>
<path d="M397.5 67v7m0 1v4m0 2v14m0 3v2m0 2v2m0 3v1m0 1v3m0 1v3m0 1v3m0 3v2m0 8v4m0 2v2m0 3v2m0 1v3m0 3v1m0 7v1m0 3v1m0 1v4m0 2v2m0 1v3m0 2v2m0 3v1m0 2v3m0 3v1m0 7v1m0 3v1m0 12v1m0 16v1m0 16v1m0 12v2m0 12v2m0 12v1m0 6v1m0 22v1m0 16v1m0 12v1m0 12v2m0 3v3m0 5v3m0 1v1m0 3v3m0 1v1" stroke-width="3"/>
<path d="M402 68v2m0 1v3m0 3v6m0 2v2m0 1v3m0 1v3m0 1v4m0 3v1m0 2v2m0 1v3m0 1v3m0 3v1m0 3v2m0 3v1m0 2v6m0 4v5m0 3v1m0 3v1m0 2v2m0 3v5m0 6v3m0 4v4m0 3v6m0 2v2m0 1v3m0 2v2m0 1v3m0 2v3m0 22v1m0 22v1m0 9v4m0 12v1m0 9v1m0 9v4m0 4v1m0 6v2m0 4v2m0 16v2m0 9v1m0 6v1m0 9v1m0 3v1m0 3v1m0 1v1m0 2v2m0 1v5m0 3v2" stroke-width="4"/>
<path d="M406.5 66v4m0 1v3m0 1v12m0 3v1m0 1v3m0 3v2m0 3v1m0 1v3m0 1v7m0 2v2m0 1v4m0 2v2m0 3v1m0 5v3m0 8v1m0 1v3m0 3v1m0 3v1m0 3v6m0 1v3m0 2v2m0 2v2m0 2v2m0 1v4m0 2v2m0 2v6m0 3v1m0 3v2m0 16v1m0 4v1m0 9v1m0 9v4m0 9v1m0 22v1m0 6v1m0 4v1m0 6v2m0 6v1m0 6v1m0 9v2m0 4v1m0 22v1m0 4v5m0 5v2m0 3v3m0 5v2m0 3v1" stroke-width="3"/>
<path d="M410.5 66v4m0 1v8m0 3v1m0 2v2m0 2v6m0 2v3m0 1v3m0 1v3m0 7v5m0 3v2m0 1v3m0 2v2m0 3v1m0 4v5m0 1v3m0 2v2m0 1v3m0 5v3m0 2v3m0 2v6m0 7v1m0 2v3m0 3v1m0 1v3m0 6v7m0 6v1m0 22v2m0 16v2m0 16v2m0 4v1m0 3v1m0 4v1m0 9v1m0 16v2m0 6v1m0 16v4m0 3v1m0 6v2m0 4v3m0 6v1m0 3v3m0 3v2m0 2v8m0 1v2m0 2v2m0 1v5" stroke-width="3"/>
<path d="M415.5 67v3m0 1v3m0 1v4m0 1v3m0 2v2m0 2v2m0 2v2m0 1v4m0 1v3m0 3v1m0 2v2m0 1v7m0 3v2m0 2v2m0 3v1m0 3v1m0 2v2m0 3v6m0 3v1m0 8v4m0 1v8m0 2v2m0 2v6m0 6v3m0 1v3m0 3v1m0 6v3m0 3v1m0 3v1m0 4v1m0 4v1m0 3v1m0 3v2m0 6v1m0 22v2m0 16v1m0 6v1m0 6v2m0 12v1m0 12v2m0 9v1m0 6v1m0 12v1m0 3v1m0 3v3m0 6v1m0 9v1m0 3v5m0 3v3m0 5v2" stroke-width="3"/>
<path d="M419.5 66v4m0 1v3m0 3v2m0 1v3m0 1v3m0 2v2m0 2v7m0 3v1m0 2v2m0 2v6m0 2v2m0 1v4m0 7v1m0 1v3m0 3v10m0 2v2m0 1v7m0 2v2m0 6v3m0 5v7m0 3v14m0 3v1m0 2v3m0 5v3m0 16v1m0 12v4m0 16v2m0 9v2m0 6v2m0 12v1m0 6v1m0 9v2m0 12v2m0 12v4m0 3v8" stroke-width="3"/>
<path d="M424 69v1m0 2v15m0 1v3m0 3v6m0 5v3m0 2v10m0 1v4m0 3v1m0 1v3m0 1v7m0 1v4m0 3v1m0 2v2m0 3v1m0 3v1m0 5v8m0 1v3m0 3v5m0 1v4m0 1v3m0 4v4m0 3v6m0 2v2m0 3v1m0 3v1m0 22v2m0 16v1m0 9v1m0 3v1m0 9v4m0 3v2m0 12v4m0 16v1m0 4v1m0 4v1m0 12v1m0 1v2m0 3v2m0 3v1m0 2v2m0 1v1" stroke-width="4"/>
<path d="M428.5 67v12m0 1v11m0 3v1m0 2v3m0 3v1m0 3v1m0 3v1m0 2v2m0 6v3m0 3v1m0 3v1m0 2v2m0 2v7m0 1v7m0 3v1m0 1v7m0 1v4m0 1v3m0 3v1m0 3v1m0 3v1m0 2v7m0 2v2m0 3v1m0 3v6m0 2v2m0 1v7m0 4v1m0 16v1m0 9v4m0 3v1m0 16v2m0 12v4m0 9v1m0 6v1m0 6v2m0 12v4m0 12v2m0 12v1m0 4v2m0 4v3m0 3v8m0 5v5" stroke-width="3"/>
<path d="M432.5 66v4m0 1v3m0 3v2m0 5v3m0 3v1m0 1v3m0 1v4m0 2v2m0 3v1m0 1v3m0 1v3m0 1v3m0 3v2m0 12v4m0 1v4m0 2v10m0 2v2m0 6v3m0 1v3m0 1v11m0 3v6m0 7v1m0 1v3m0 3v2m0 3v1m0 3v1m0 6v2m0 3v2m0 16v1m0 22v1m0 4v2m0 3v2m0 9v1m0 9v4m0 16v2m0 6v1m0 9v2m0 9v1m0 4v1m0 6v2m0 9v1m0 3v8m0 1v2m0 5v2m0 1v2" stroke-width="3"/>
<path d="M437.5 67v3m0 1v8m0 3v5m0 3v1m0 2v2m0 2v3m0 1v3m0 3v1m0 2v2m0 3v5m0 1v4m0 1v3m0 1v3m0 1v3m0 3v1m0 3v2m0 7v5m0 3v5m0 1v4m0 2v2m0 1v3m0 2v2m0 3v6m0 1v3m0 2v2m0 1v3m0 3v1m0 3v2m0 7v1m0 1v3m0 2v2m0 8v1m0 12v1m0 4v1m0 4v4m0 12v4m0 9v1m0 9v1m0 16v1m0 6v2m0 6v2m0 9v2m0 6v1m0 9v2m0 5v3m0 1v2m0 3v3" stroke-width="3"/>
<path d="M441.5 68v2m0 1v3m0 2v3m0 1v3m0 3v1m0 1v12m0 2v6m0 3v1m0 3v1m0 2v2m0 2v3m0 2v2m0 2v2m0 3v1m0 1v3m0 5v4m0 3v1m0 7v5m0 3v2m0 2v2m0 2v2m0 7v1m0 1v4m0 2v2m0 1v3m0 1v3m0 3v1m0 1v4m0 5v3m0 2v6m0 3v2m0 12v1m0 12v2m0 9v1m0 12v1m0 22v1m0 9v1m0 22v1m0 22v1m0 6v2m0 3v2m0 3v3m0 3v1m0 6v1m0 6v1m0 1v1m0 2v5m0 5v5" stroke-width="3"/>
<path d="M448.5 67v3m0 1v3m0 3v6m0 1v3m0 7v1m0 5v4m0 3v1m0 3v1m0 1v3m0 2v2m0 7v2m0 2v2m0 1v3m0 1v3m0 1v4m0 2v2m0 4v4m0 7v1m0 3v2m0 2v2m0 7v1m0 11v2m0 7v1m0 3v1m0 8v1m0 1v3m0 3v1m0 6v3m0 15v2m0 12v1m0 6v1m0 3v1m0 6v1m0 12v4m0 9v1m0 9v1m0 6v1m0 6v1m0 4v1m0 9v2m0 9v1m0 12v1m0 6v1m0 9v3m0 12v1m0 3v2m0 3v8" stroke-width="3"/>
<path d="M454.5 67v3m0 3v1m0 1v4m0 3v1m0 1v3m0 11v2m0 3v5m0 3v1m0 3v1m0 3v1m0 2v3m0 2v2m0 1v3m0 4v4m0 1v4m0 3v5m0 1v3m0 2v2m0 5v4m0 3v1m0 3v1m0 2v2m0 7v2m0 7v1m0 2v2m0 3v1m0 8v5m0 3v1m0 2v2m0 20v1m0 2v2m0 4v2m0 4v1m0 12v1m0 6v2m0 6v1m0 4v2m0 6v1m0 6v1m0 9v1m0 22v2m0 12v1m0 4v1m0 4v2m0 2v2m0 4v2m0 2v2m0 6v5m0 5v5m0 1v3m0 1v3" stroke-width="3"/>
</g></g>
<use href="#heat" x="425"/>
<g transform="translate(850 0)" shape-rendering="crispEdges">
<path d="M160 66V313.6h3V66zM163 66V292h4V66zM167 66V299h3V66zM170 66V299h3V66zM173 66V321h3V66zM176 66V351h4V66zM180 66V399h3V66zM183 66V422h3V66zM186 66V413h4V66zM190 66V424h3V66zM193 66V424h3V66zM196 66V421h3V66zM199 66V436h4V66zM203 66V381h3V66zM206 66V429h3V66zM209 66V443h4V66zM213 66V449h3V66zM216 66V450h3V66zM219 66V451.6h4V66zM223 66V451.6h3V66zM226 66V451.6h3V66zM229 66V453h3V66zM232 66V451.6h4V66zM236 66V384h3V66zM239 66V450h3V66zM242 66V453h4V66zM246 66V453h3V66zM249 66V453h3V66zM252 66V454.4h3V66zM255 66V454.4h4V66zM259 66V454.4h3V66zM262 66V453.6h3V66zM265 66V452.4h4V66zM269 66V452.4h3V66zM272 66V452.4h3V66zM275 66V450h3V66zM278 66V450h4V66zM282 66V447h3V66zM285 66V439h3V66zM288 66V438h4V66zM292 66V425h3V66zM295 66V449h3V66zM298 66V448h4V66zM302 66V444h3V66zM305 66V439h3V66zM308 66V448h3V66zM311 66V448h4V66zM315 66V447h3V66zM318 66V445h3V66zM321 66V440h4V66zM325 66V449h3V66zM328 66V447h3V66zM331 66V441.6h3V66zM334 66V429.6h4V66zM338 66V404h3V66zM342 66V426h4V66zM346 66V410h3V66zM350 66V364h3V66zM353 66V347h3V66zM357 66V350.4h4V66zM361 66V287h3V66zM365 66V277.6h3V66zM370 66V289.6h3V66zM374 66V326h3V66zM378 66V291h4V66zM383 66V272h3V66zM387 66V387.4h3V66zM392 66V426.4h3V66zM396 66V393.6h3V66zM400 66V399.4h4V66zM405 66V397h3V66zM409 66V409h3V66zM414 66V408h3V66zM418 66V368h3V66zM422 66V372h4V66zM427 66V402h3V66zM431 66V402h3V66zM436 66V384h3V66zM440 66V420h3V66zM447 66V420h3V66zM453 66V418h3V66z" fill="#377eb8"/>
<path d="M160 66h1v20h-1zM271 66h1.2v18h-1.2z" fill="#fff"/>
<path d="M167 108h3v5h-3zM176 108h4v6h-4zM180 108h3v4h-3zM186 110h4v5h-4zM190 108h3v6h-3zM219 109h4v7h-4zM255 110h4v5h-4zM259 110h3v7h-3zM272 108h3v6h-3zM298 110h4v4h-4zM305 110h3v6h-3zM315 110h3v6h-3zM328 108h3v6h-3zM346 108h3v4h-3zM370 108h3v5h-3zM422 108h4v5h-4zM447 110h3v7h-3zM453 110h3v5h-3zM186 98h4v2h-4zM275 282h3v1h-3zM216 250h3v5h-3zM278 290h4v5h-4zM396 273h3v1h-3zM265 221h4v1h-4zM265 267h4v3h-4zM325 356h3v1h-3zM196 363h3v2h-3zM246 305h3v4h-3zM246 153h3v2h-3zM288 341h4v1h-4zM193 306h3v2h-3zM295 92h3v2h-3zM308 270h3v4h-3zM383 225h3v3h-3zM160 229h3v2h-3zM338 362h3v2h-3zM374 308h3v2h-3zM209 349h4v5h-4zM422 300h4v1h-4zM278 373h4v5h-4zM249 238h3v1h-3zM357 264h4v1h-4zM396 368h3v1h-3zM190 378h3v1h-3zM216 286h3v1h-3zM255 210h4v5h-4zM190 339h3v2h-3zM160 272h3v1h-3zM338 230h3v1h-3zM427 275h3v3h-3zM361 172h3v5h-3zM278 242h4v3h-4zM278 117h4v1h-4zM196 240h3v1h-3zM199 314h4v1h-4zM387 356h3v2h-3zM302 233h3v4h-3zM246 323h3v2h-3zM346 263h3v3h-3zM342 345h4v1h-4zM292 176h3v1h-3zM311 384h4v5h-4zM199 331h4v2h-4zM163 265h4v1h-4zM292 356h3v4h-3zM203 225h3v3h-3zM285 259h3v5h-3zM186 157h4v1h-4zM305 147h3v1h-3zM160 274h3v4h-3zM422 81h4v5h-4zM453 384h3v4h-3zM278 235h4v1h-4zM338 257h3v2h-3zM305 306h3v3h-3zM331 328h3v4h-3zM453 79h3v1h-3zM285 142h3v1h-3zM321 323h4v5h-4zM422 289h4v1h-4zM265 344h4v1h-4zM229 125h3v1h-3zM431 194h3v2h-3zM226 282h3v1h-3zM315 361h3v2h-3zM305 293h3v1h-3zM357 323h4v5h-4zM315 236h3v1h-3zM338 363h3v1h-3zM334 82h4v1h-4zM308 274h3v1h-3zM186 351h4v1h-4zM342 285h4v1h-4zM199 222h4v1h-4zM453 337h3v3h-3zM275 267h3v2h-3zM213 362h3v3h-3zM163 264h4v2h-4zM183 286h3v1h-3zM282 361h3v1h-3zM318 239h3v1h-3zM226 156h3v3h-3zM308 313h3v4h-3zM285 301h3v3h-3zM190 132h3v4h-3zM275 250h3v3h-3zM252 402h3v2h-3zM196 325h3v5h-3zM321 421h4v2h-4zM431 330h3v1h-3zM246 240h3v1h-3zM219 377h4v4h-4zM242 338h4v3h-4zM295 343h3v1h-3zM378 102h4v1h-4zM431 170h3v2h-3zM186 352h4v5h-4zM246 402h3v2h-3zM361 273h3v5h-3zM232 303h4v4h-4zM193 358h3v1h-3zM427 262h3v3h-3zM409 363h3v1h-3zM338 370h3v1h-3zM387 301h3v4h-3zM170 228h3v3h-3zM196 333h3v5h-3zM226 244h3v1h-3zM259 183h3v1h-3zM378 245h4v1h-4zM370 252h3v3h-3zM331 307h3v1h-3zM285 401h3v1h-3zM292 378h3v1h-3zM308 305h3v4h-3zM308 266h3v1h-3zM232 163h4v1h-4zM239 351h3v5h-3zM308 376h3v2h-3zM321 99h4v1h-4zM176 319h4v1h-4zM262 333h3v1h-3zM383 269h3v2h-3zM193 256h3v1h-3zM193 341h3v1h-3zM378 237h4v1h-4zM180 237h3v1h-3zM292 263h3v1h-3zM400 228h4v5h-4zM226 252h3v1h-3zM400 261h4v5h-4zM249 247h3v5h-3zM193 346h3v3h-3zM163 257h4v1h-4zM295 231h3v3h-3zM308 289h3v1h-3zM255 426h4v1h-4zM265 273h4v1h-4zM272 335h3v4h-3zM163 252h4v3h-4zM288 255h4v1h-4zM346 363h3v4h-3zM278 237h4v1h-4zM183 361h3v2h-3zM396 330h3v1h-3zM199 241h4v1h-4zM342 240h4v2h-4zM213 269h3v1h-3zM383 109h3v2h-3zM295 201h3v1h-3zM285 376h3v1h-3zM259 435h3v3h-3zM216 248h3v1h-3zM180 374h3v1h-3zM318 345h3v4h-3zM229 239h3v5h-3zM396 135h3v3h-3zM353 269h3v3h-3zM325 234h3v2h-3zM213 185h3v4h-3zM334 230h4v1h-4zM269 157h3v1h-3zM338 115h3v4h-3zM223 238h3v3h-3zM183 394h3v1h-3zM278 380h4v5h-4zM305 370h3v1h-3zM239 291h3v5h-3zM219 333h4v2h-4zM278 268h4v3h-4zM295 92h3v5h-3zM325 251h3v1h-3zM252 251h3v2h-3zM226 279h3v1h-3zM275 377h3v3h-3zM338 108h3v3h-3zM262 382h3v1h-3zM252 332h3v4h-3zM252 229h3v1h-3zM239 382h3v1h-3zM180 252h3v1h-3zM331 162h3v5h-3zM295 309h3v1h-3zM196 310h3v5h-3zM338 344h3v1h-3zM160 294h3v1h-3zM278 336h4v5h-4zM431 201h3v1h-3zM269 329h3v1h-3zM338 86h3v1h-3zM311 426h4v3h-4zM193 259h3v5h-3zM269 339h3v1h-3zM262 249h3v3h-3zM259 297h3v1h-3zM203 100h3v4h-3zM223 317h3v1h-3zM308 314h3v1h-3zM308 279h3v5h-3zM180 304h3v2h-3zM305 413h3v2h-3zM321 366h4v3h-4zM321 141h4v1h-4zM249 249h3v1h-3zM180 273h3v1h-3zM318 294h3v3h-3zM213 418h3v5h-3zM292 278h3v2h-3zM338 237h3v1h-3zM269 312h3v1h-3zM180 247h3v1h-3zM288 242h4v3h-4zM203 302h3v1h-3zM249 271h3v4h-3zM190 291h3v1h-3zM321 297h4v2h-4zM265 256h4v5h-4zM219 313h4v1h-4zM209 281h4v5h-4zM186 230h4v1h-4zM387 337h3v4h-3zM353 224h3v4h-3zM436 266h3v1h-3zM242 128h4v1h-4zM249 82h3v5h-3zM311 304h4v1h-4zM278 314h4v1h-4zM422 357h4v1h-4zM422 224h4v2h-4zM378 220h4v2h-4zM414 317h3v1h-3zM269 161h3v3h-3zM219 342h4v1h-4zM176 259h4v1h-4zM259 380h3v1h-3zM186 243h4v1h-4zM346 366h3v1h-3zM160 166h3v1h-3zM325 292h3v3h-3zM173 315h3v2h-3zM186 329h4v1h-4zM203 288h3v3h-3zM232 235h4v1h-4zM370 153h3v1h-3zM334 356h4v3h-4zM370 248h3v1h-3zM236 250h3v1h-3zM321 231h4v4h-4zM334 135h4v5h-4zM288 405h4v1h-4zM298 337h4v4h-4zM219 236h4v5h-4zM173 319h3v1h-3zM232 318h4v1h-4zM308 280h3v3h-3zM311 237h4v5h-4zM259 294h3v1h-3zM305 355h3v2h-3zM302 92h3v1h-3zM199 289h4v1h-4zM431 247h3v2h-3zM183 314h3v1h-3zM190 340h3v1h-3zM193 197h3v2h-3zM288 271h4v1h-4zM196 321h3v4h-3zM315 257h3v5h-3zM180 317h3v5h-3zM325 295h3v4h-3zM216 361h3v4h-3zM436 267h3v1h-3zM311 322h4v1h-4zM298 293h4v3h-4zM308 324h3v1h-3zM265 349h4v3h-4zM163 227h4v5h-4zM219 209h4v5h-4zM232 417h4v1h-4zM173 316h3v1h-3zM328 288h3v1h-3zM252 248h3v1h-3zM338 224h3v2h-3zM229 249h3v1h-3zM436 341h3v3h-3zM167 289h3v4h-3zM272 234h3v1h-3zM183 279h3v5h-3zM236 306h3v3h-3zM203 228h3v1h-3zM305 256h3v3h-3zM422 341h4v1h-4zM318 349h3v1h-3zM357 209h4v1h-4zM396 341h3v1h-3zM180 356h3v1h-3zM453 254h3v2h-3zM229 368h3v5h-3zM176 305h4v5h-4zM216 233h3v4h-3zM255 316h4v4h-4zM387 241h3v1h-3zM328 211h3v1h-3zM328 269h3v4h-3zM298 412h4v2h-4zM176 178h4v2h-4zM206 362h3v5h-3zM219 200h4v1h-4zM236 149h3v1h-3zM387 198h3v1h-3zM292 328h3v2h-3zM272 173h3v1h-3zM265 149h4v1h-4zM176 271h4v5h-4zM331 325h3v4h-3zM418 331h3v1h-3zM282 362h3v1h-3zM259 147h3v1h-3zM302 372h3v1h-3zM160 290h3v4h-3zM196 354h3v1h-3zM418 104h3v1h-3zM288 343h4v1h-4zM196 291h3v1h-3zM170 277h3v5h-3zM288 352h4v1h-4zM357 295h4v1h-4zM278 228h4v1h-4zM311 268h4v1h-4zM409 313h3v5h-3zM308 257h3v4h-3zM305 256h3v5h-3zM259 380h3v2h-3zM282 363h3v1h-3zM176 312h4v1h-4zM285 232h3v4h-3zM176 311h4v3h-4zM418 340h3v1h-3zM180 161h3v5h-3zM342 233h4v1h-4zM378 274h4v2h-4zM427 312h3v3h-3zM392 327h3v1h-3zM331 403h3v5h-3zM318 403h3v1h-3zM255 249h4v1h-4zM315 333h3v4h-3zM160 246h3v1h-3zM315 240h3v1h-3zM321 315h4v3h-4zM246 359h3v1h-3zM318 252h3v1h-3zM318 267h3v1h-3zM278 253h4v1h-4zM219 308h4v1h-4zM298 217h4v4h-4zM440 336h3v1h-3zM269 375h3v3h-3zM292 284h3v3h-3zM405 200h3v1h-3zM262 369h3v1h-3zM298 232h4v3h-4zM357 169h4v1h-4zM259 233h3v4h-3zM431 338h3v5h-3zM236 254h3v3h-3zM262 357h3v4h-3zM199 261h4v1h-4zM190 79h3v4h-3zM262 361h3v1h-3zM288 299h4v1h-4zM378 260h4v5h-4zM239 351h3v5h-3zM328 321h3v1h-3zM199 296h4v1h-4zM302 246h3v5h-3zM315 167h3v4h-3zM321 224h4v1h-4zM242 378h4v5h-4zM242 251h4v1h-4zM216 433h3v5h-3zM186 233h4v2h-4zM229 274h3v1h-3zM331 402h3v1h-3zM239 294h3v1h-3zM288 340h4v4h-4zM163 281h4v1h-4zM285 290h3v2h-3zM318 241h3v1h-3zM427 380h3v2h-3zM334 162h4v5h-4zM308 393h3v5h-3zM298 333h4v5h-4zM265 345h4v3h-4zM160 241h3v1h-3zM311 255h4v1h-4zM288 312h4v1h-4zM361 174h3v1h-3zM229 81h3v1h-3zM252 268h3v5h-3zM331 109h3v4h-3zM315 247h3v1h-3zM190 354h3v3h-3zM431 353h3v3h-3zM180 196h3v1h-3zM315 249h3v2h-3zM311 98h4v1h-4zM302 341h3v1h-3zM342 195h4v1h-4zM334 311h4v1h-4zM292 347h3v1h-3zM328 144h3v1h-3zM199 343h4v1h-4zM436 342h3v1h-3zM252 293h3v5h-3zM350 324h3v5h-3zM265 343h4v1h-4zM180 326h3v1h-3zM242 357h4v1h-4zM193 332h3v4h-3zM396 289h3v5h-3zM325 256h3v1h-3zM199 231h4v1h-4zM262 357h3v4h-3zM213 253h3v1h-3zM209 268h4v1h-4zM180 240h3v3h-3zM216 90h3v4h-3zM242 433h4v1h-4zM183 396h3v2h-3zM328 368h3v1h-3zM203 237h3v1h-3zM242 275h4v1h-4zM414 231h3v1h-3zM318 376h3v2h-3zM262 252h3v1h-3zM259 237h3v1h-3zM262 296h3v1h-3zM176 272h4v1h-4zM239 129h3v1h-3zM226 329h3v1h-3zM190 78h3v3h-3zM334 208h4v1h-4zM318 265h3v1h-3zM311 98h4v1h-4zM295 277h3v1h-3zM209 366h4v1h-4zM199 406h4v3h-4zM311 109h4v2h-4zM321 136h4v2h-4zM199 347h4v2h-4zM232 288h4v1h-4zM361 239h3v1h-3zM226 185h3v1h-3zM232 187h4v1h-4zM232 148h4v4h-4zM226 250h3v3h-3zM232 124h4v1h-4zM232 150h4v1h-4zM232 163h4v2h-4zM226 149h3v4h-3zM232 173h4v4h-4zM232 269h4v4h-4zM232 276h4v1h-4zM232 184h4v3h-4zM232 137h4v1h-4zM226 236h3v4h-3zM232 260h4v1h-4zM232 204h4v1h-4zM232 115h4v1h-4zM232 267h4v1h-4zM232 148h4v1h-4zM232 233h4v3h-4zM232 274h4v3h-4zM232 263h4v1h-4zM232 289h4v2h-4zM232 91h4v1h-4zM232 164h4v2h-4zM232 170h4v1h-4zM232 269h4v1h-4zM232 117h4v3h-4z" fill="#999999"/>
<rect x="228" y="93" width="3" height="20" fill="#ff7f00"/>
<rect x="228" y="151" width="3" height="13" fill="#ff7f00"/>
<rect x="228" y="174" width="3" height="16" fill="#ff7f00"/>
<rect x="228" y="283" width="3" height="16" fill="#ff7f00"/>
<rect x="228" y="313" width="3" height="17" fill="#ff7f00"/>
<rect x="228" y="338" width="3" height="9" fill="#ff7f00"/>
<rect x="308" y="69" width="3" height="8" fill="#984ea3"/>
<rect x="301" y="181" width="4" height="40" fill="#984ea3"/>
<rect x="301" y="221" width="4" height="59" fill="#ff7f00"/>
<rect x="301" y="288" width="4" height="47" fill="#ff7f00"/>
<rect x="392" y="288" width="3" height="21" fill="#ff7f00"/>
<rect x="392" y="313" width="3" height="18" fill="#ff7f00"/>
<rect x="392" y="331" width="3" height="20" fill="#984ea3"/>
<rect x="392" y="351" width="3" height="71" fill="#ff7f00"/>
<rect x="431" y="391" width="3" height="11" fill="#ff7f00"/>
</g>
<rect x="479.5" y="65.5" width="19" height="391" fill="url(#cb)"/>
<rect x="904.5" y="65.5" width="19" height="391" fill="url(#cb)"/>
<rect x="1329.5" y="413" width="19" height="43" fill="#e41a1c"/>
<rect x="1329.5" y="369" width="19" height="44" fill="#377eb8"/>
<rect x="1329.5" y="326" width="19" height="43" fill="#4daf4a"/>
<rect x="1329.5" y="282" width="19" height="44" fill="#984ea3"/>
<rect x="1329.5" y="239" width="19" height="43" fill="#ff7f00"/>
<rect x="1329.5" y="195" width="19" height="44" fill="#ffff33"/>
<rect x="1329.5" y="152" width="19" height="43" fill="#a65628"/>
<rect x="1329.5" y="109" width="19" height="43" fill="#f781bf"/>
<rect x="1329.5" y="65" width="19" height="44" fill="#999999"/>
<rect x="904.5" y="552.5" width="19" height="391" fill="url(#cb)"/>
<path d="M160 747h1v3h-1zM162 747h3v3h-3zM166 747h3v3h-3zM170 747h3v3h-3zM174 747h3v3h-3zM178 747h3v3h-3zM182 747h3v3h-3zM187 747h3v3h-3zM191 747h3v3h-3zM195 747h3v3h-3zM199 747h3v3h-3zM203 747h3v3h-3zM207 747h3v3h-3zM211 747h3v3h-3zM215 747h3v3h-3zM220 747h3v3h-3zM224 747h3v3h-3zM228 747h3v3h-3zM232 747h3v3h-3zM236 747h3v3h-3zM240 747h3v3h-3zM244 747h3v3h-3zM248 747h3v3h-3zM253 747h3v3h-3zM257 747h3v3h-3zM261 747h3v3h-3zM265 747h3v3h-3zM269 747h3v3h-3zM273 747h3v3h-3zM277 747h3v3h-3zM281 747h3v3h-3zM286 747h3v3h-3zM290 747h3v3h-3zM294 747h3v3h-3zM295 747h3v3h-3zM299 747h3v3h-3zM303 747h3v3h-3zM307 747h3v3h-3zM311 747h3v3h-3zM315 747h3v3h-3zM320 747h3v3h-3zM324 747h3v3h-3zM328 747h3v3h-3zM332 747h3v3h-3zM336 747h3v3h-3zM340 747h3v3h-3zM344 747h3v3h-3zM348 747h3v3h-3zM353 747h3v3h-3zM357 747h3v3h-3zM361 747h3v3h-3zM365 747h3v3h-3zM369 747h3v3h-3zM373 747h3v3h-3zM377 747h3v3h-3zM381 747h3v3h-3zM387 747h3v3h-3zM391 747h3v3h-3zM397 747h3v3h-3zM401 747h3v3h-3zM406 747h3v3h-3zM410 747h3v3h-3zM416 747h3v3h-3zM421 747h3v3h-3zM427 747h3v3h-3zM432 747h3v3h-3zM438 747h3v3h-3zM443 747h3v3h-3zM449 747h3v3h-3zM454 747h3v3h-3zM460 747h3v3h-3zM465 747h3v3h-3zM471 747h3v3h-3zM476 747h3v3h-3zM482 747h3v3h-3zM487 747h3v3h-3zM493 747h3v3h-3zM498 747h3v3h-3zM504 747h3v3h-3zM509 747h3v3h-3zM518 747h3v3h-3zM526 747h3v3h-3zM534 747h1v3h-1z" fill="#1f77b4"/>
<path d="M159.5 65.5h-5M159.5 149.5h-5M159.5 232.5h-5M159.5 316.5h-5M159.5 400.5h-5M230.5 456.5v5M310.5 456.5v5M391.5 456.5v5M584.5 65.5h-5M584.5 149.5h-5M584.5 232.5h-5M584.5 316.5h-5M584.5 400.5h-5M655.5 456.5v5M735.5 456.5v5M816.5 456.5v5M1009.5 65.5h-5M1009.5 149.5h-5M1009.5 232.5h-5M1009.5 316.5h-5M1009.5 400.5h-5M1080.5 456.5v5M1160.5 456.5v5M1241.5 456.5v5M584.5 552.5h-5M584.5 636.5h-5M584.5 719.5h-5M584.5 803.5h-5M584.5 887.5h-5M655.5 943.5v5M735.5 943.5v5M816.5 943.5v5M1009.5 552.5h-5M1009.5 636.5h-5M1009.5 719.5h-5M1009.5 803.5h-5M1009.5 887.5h-5M1098.5 943.5v5M1198.5 943.5v5M1299.5 943.5v5M198.5 943.5v5M248.5 943.5v5M298.5 943.5v5M348.5 943.5v5M399.5 943.5v5M449.5 943.5v5M499.5 943.5v5M159.5 552.5h-5M159.5 748.5h-5M159.5 943.5h-5M498.5 409.5h5M498.5 356.5h5M498.5 303.5h5M498.5 250.5h5M498.5 197.5h5M498.5 145.5h5M498.5 92.5h5M923.5 415.5h5M923.5 368.5h5M923.5 321.5h5M923.5 274.5h5M923.5 228.5h5M923.5 181.5h5M923.5 134.5h5M923.5 87.5h5M923.5 902.5h5M923.5 855.5h5M923.5 808.5h5M923.5 761.5h5M923.5 715.5h5M923.5 668.5h5M923.5 621.5h5M923.5 574.5h5M1348.5 456.5h5M1348.5 407.5h5M1348.5 358.5h5M1348.5 309.5h5M1348.5 261.5h5M1348.5 212.5h5M1348.5 163.5h5M1348.5 114.5h5M1348.5 65.5h5" stroke="#000" stroke-width="1" fill="none"/>
<path d="M159.5 65.5H460.5V456.5H159.5zM584.5 65.5H885.5V456.5H584.5zM1009.5 65.5H1310.5V456.5H1009.5zM159.5 552.5H535.5V943.5H159.5zM584.5 552.5H885.5V943.5H584.5zM1009.5 552.5H1385.5V943.5H1009.5zM479.5 65.5H498.5V456.5H479.5zM904.5 65.5H923.5V456.5H904.5zM1329.5 65.5H1348.5V456.5H1329.5zM904.5 552.5H923.5V943.5H904.5z" stroke="#000" stroke-width="1" fill="none" shape-rendering="crispEdges"/>
<g filter="url(#nf)">
<text x="148.9" y="70.5" font-size="14.6" text-anchor="end" textLength="8.8" lengthAdjust="spacingAndGlyphs">0</text>
<text x="148.9" y="154.1" font-size="14.6" text-anchor="end" textLength="17.7" lengthAdjust="spacingAndGlyphs">20</text>
<text x="148.9" y="237.6" font-size="14.6" text-anchor="end" textLength="17.7" lengthAdjust="spacingAndGlyphs">40</text>
<text x="148.9" y="321.2" font-size="14.6" text-anchor="end" textLength="17.7" lengthAdjust="spacingAndGlyphs">60</text>
<text x="148.9" y="404.7" font-size="14.6" text-anchor="end" textLength="17.7" lengthAdjust="spacingAndGlyphs">80</text>
<text x="230" y="476.5" font-size="14.6" text-anchor="middle" textLength="20.9" lengthAdjust="spacingAndGlyphs">0.4</text>
<text x="310" y="476.5" font-size="14.6" text-anchor="middle" textLength="20.9" lengthAdjust="spacingAndGlyphs">0.6</text>
<text x="391" y="476.5" font-size="14.6" text-anchor="middle" textLength="20.9" lengthAdjust="spacingAndGlyphs">0.8</text>
<text x="458.5" y="494.5" font-size="14.6" text-anchor="end" textLength="66.2" lengthAdjust="spacingAndGlyphs">+2.024e3</text>
<text x="573.9" y="70.5" font-size="14.6" text-anchor="end" textLength="8.8" lengthAdjust="spacingAndGlyphs">0</text>
<text x="573.9" y="154.1" font-size="14.6" text-anchor="end" textLength="17.7" lengthAdjust="spacingAndGlyphs">20</text>
<text x="573.9" y="237.6" font-size="14.6" text-anchor="end" textLength="17.7" lengthAdjust="spacingAndGlyphs">40</text>
<text x="573.9" y="321.2" font-size="14.6" text-anchor="end" textLength="17.7" lengthAdjust="spacingAndGlyphs">60</text>
<text x="573.9" y="404.7" font-size="14.6" text-anchor="end" textLength="17.7" lengthAdjust="spacingAndGlyphs">80</text>
<text x="655" y="476.5" font-size="14.6" text-anchor="middle" textLength="20.9" lengthAdjust="spacingAndGlyphs">0.4</text>
<text x="735" y="476.5" font-size="14.6" text-anchor="middle" textLength="20.9" lengthAdjust="spacingAndGlyphs">0.6</text>
<text x="816" y="476.5" font-size="14.6" text-anchor="middle" textLength="20.9" lengthAdjust="spacingAndGlyphs">0.8</text>
<text x="883.5" y="494.5" font-size="14.6" text-anchor="end" textLength="66.2" lengthAdjust="spacingAndGlyphs">+2.024e3</text>
<text x="998.9" y="70.5" font-size="14.6" text-anchor="end" textLength="8.8" lengthAdjust="spacingAndGlyphs">0</text>
<text x="998.9" y="154.1" font-size="14.6" text-anchor="end" textLength="17.7" lengthAdjust="spacingAndGlyphs">20</text>
<text x="998.9" y="237.6" font-size="14.6" text-anchor="end" textLength="17.7" lengthAdjust="spacingAndGlyphs">40</text>
<text x="998.9" y="321.2" font-size="14.6" text-anchor="end" textLength="17.7" lengthAdjust="spacingAndGlyphs">60</text>
<text x="998.9" y="404.7" font-size="14.6" text-anchor="end" textLength="17.7" lengthAdjust="spacingAndGlyphs">80</text>
<text x="1080" y="476.5" font-size="14.6" text-anchor="middle" textLength="20.9" lengthAdjust="spacingAndGlyphs">0.4</text>
<text x="1160" y="476.5" font-size="14.6" text-anchor="middle" textLength="20.9" lengthAdjust="spacingAndGlyphs">0.6</text>
<text x="1241" y="476.5" font-size="14.6" text-anchor="middle" textLength="20.9" lengthAdjust="spacingAndGlyphs">0.8</text>
<text x="1308.5" y="494.5" font-size="14.6" text-anchor="end" textLength="66.2" lengthAdjust="spacingAndGlyphs">+2.024e3</text>
<text x="573.9" y="557.5" font-size="14.6" text-anchor="end" textLength="8.8" lengthAdjust="spacingAndGlyphs">0</text>
<text x="573.9" y="641.1" font-size="14.6" text-anchor="end" textLength="17.7" lengthAdjust="spacingAndGlyphs">20</text>
<text x="573.9" y="724.6" font-size="14.6" text-anchor="end" textLength="17.7" lengthAdjust="spacingAndGlyphs">40</text>
<text x="573.9" y="808.2" font-size="14.6" text-anchor="end" textLength="17.7" lengthAdjust="spacingAndGlyphs">60</text>
<text x="573.9" y="891.7" font-size="14.6" text-anchor="end" textLength="17.7" lengthAdjust="spacingAndGlyphs">80</text>
<text x="655" y="963.5" font-size="14.6" text-anchor="middle" textLength="20.9" lengthAdjust="spacingAndGlyphs">0.4</text>
<text x="735" y="963.5" font-size="14.6" text-anchor="middle" textLength="20.9" lengthAdjust="spacingAndGlyphs">0.6</text>
<text x="816" y="963.5" font-size="14.6" text-anchor="middle" textLength="20.9" lengthAdjust="spacingAndGlyphs">0.8</text>
<text x="883.5" y="981.5" font-size="14.6" text-anchor="end" textLength="66.2" lengthAdjust="spacingAndGlyphs">+2.024e3</text>
<text x="998.9" y="557.5" font-size="14.6" text-anchor="end" textLength="8.8" lengthAdjust="spacingAndGlyphs">0</text>
<text x="998.9" y="641.1" font-size="14.6" text-anchor="end" textLength="17.7" lengthAdjust="spacingAndGlyphs">20</text>
<text x="998.9" y="724.6" font-size="14.6" text-anchor="end" textLength="17.7" lengthAdjust="spacingAndGlyphs">40</text>
<text x="998.9" y="808.2" font-size="14.6" text-anchor="end" textLength="17.7" lengthAdjust="spacingAndGlyphs">60</text>
<text x="998.9" y="891.7" font-size="14.6" text-anchor="end" textLength="17.7" lengthAdjust="spacingAndGlyphs">80</text>
<text x="1098" y="963.5" font-size="14.6" text-anchor="middle" textLength="20.9" lengthAdjust="spacingAndGlyphs">0.4</text>
<text x="1198" y="963.5" font-size="14.6" text-anchor="middle" textLength="20.9" lengthAdjust="spacingAndGlyphs">0.6</text>
<text x="1299" y="963.5" font-size="14.6" text-anchor="middle" textLength="20.9" lengthAdjust="spacingAndGlyphs">0.8</text>
<text x="1383.5" y="981.5" font-size="14.6" text-anchor="end" textLength="66.2" lengthAdjust="spacingAndGlyphs">+2.024e3</text>
<text x="198" y="963.5" font-size="14.6" text-anchor="middle" textLength="20.9" lengthAdjust="spacingAndGlyphs">0.3</text>
<text x="248" y="963.5" font-size="14.6" text-anchor="middle" textLength="20.9" lengthAdjust="spacingAndGlyphs">0.4</text>
<text x="298" y="963.5" font-size="14.6" text-anchor="middle" textLength="20.9" lengthAdjust="spacingAndGlyphs">0.5</text>
<text x="348" y="963.5" font-size="14.6" text-anchor="middle" textLength="20.9" lengthAdjust="spacingAndGlyphs">0.6</text>
<text x="399" y="963.5" font-size="14.6" text-anchor="middle" textLength="20.9" lengthAdjust="spacingAndGlyphs">0.7</text>
<text x="449" y="963.5" font-size="14.6" text-anchor="middle" textLength="20.9" lengthAdjust="spacingAndGlyphs">0.8</text>
<text x="499" y="963.5" font-size="14.6" text-anchor="middle" textLength="20.9" lengthAdjust="spacingAndGlyphs">0.9</text>
<text x="533.5" y="981.5" font-size="14.6" text-anchor="end" textLength="66.2" lengthAdjust="spacingAndGlyphs">+2.024e3</text>
<text x="148.7" y="557.7" font-size="14.6" text-anchor="end" textLength="99.6" lengthAdjust="spacingAndGlyphs">Delayed Mode</text>
<text x="148.7" y="752.9" font-size="14.6" text-anchor="end" textLength="133.6" lengthAdjust="spacingAndGlyphs">Real Time Adjusted</text>
<text x="148.7" y="948.7" font-size="14.6" text-anchor="end" textLength="68.4" lengthAdjust="spacingAndGlyphs">Real Time</text>
<text x="508.6" y="414.2" font-size="14.6" textLength="17" lengthAdjust="spacingAndGlyphs">50</text>
<text x="508.6" y="361.3" font-size="14.6" textLength="25.8" lengthAdjust="spacingAndGlyphs">100</text>
<text x="508.6" y="308.4" font-size="14.6" textLength="25.8" lengthAdjust="spacingAndGlyphs">150</text>
<text x="508.6" y="255.5" font-size="14.6" textLength="25.8" lengthAdjust="spacingAndGlyphs">200</text>
<text x="508.6" y="202.6" font-size="14.6" textLength="25.8" lengthAdjust="spacingAndGlyphs">250</text>
<text x="508.6" y="149.8" font-size="14.6" textLength="25.8" lengthAdjust="spacingAndGlyphs">300</text>
<text x="508.6" y="96.9" font-size="14.6" textLength="25.8" lengthAdjust="spacingAndGlyphs">350</text>
<text x="933.6" y="421" font-size="14.6" textLength="17" lengthAdjust="spacingAndGlyphs">50</text>
<text x="933.6" y="374.1" font-size="14.6" textLength="25.8" lengthAdjust="spacingAndGlyphs">100</text>
<text x="933.6" y="327.3" font-size="14.6" textLength="25.8" lengthAdjust="spacingAndGlyphs">150</text>
<text x="933.6" y="280.5" font-size="14.6" textLength="25.8" lengthAdjust="spacingAndGlyphs">200</text>
<text x="933.6" y="233.6" font-size="14.6" textLength="25.8" lengthAdjust="spacingAndGlyphs">250</text>
<text x="933.6" y="186.8" font-size="14.6" textLength="25.8" lengthAdjust="spacingAndGlyphs">300</text>
<text x="933.6" y="139.9" font-size="14.6" textLength="25.8" lengthAdjust="spacingAndGlyphs">350</text>
<text x="933.6" y="93.1" font-size="14.6" textLength="25.8" lengthAdjust="spacingAndGlyphs">400</text>
<text x="933.6" y="908.1" font-size="14.6" textLength="17" lengthAdjust="spacingAndGlyphs">50</text>
<text x="933.6" y="861.2" font-size="14.6" textLength="25.8" lengthAdjust="spacingAndGlyphs">100</text>
<text x="933.6" y="814.4" font-size="14.6" textLength="25.8" lengthAdjust="spacingAndGlyphs">150</text>
<text x="933.6" y="767.6" font-size="14.6" textLength="25.8" lengthAdjust="spacingAndGlyphs">200</text>
<text x="933.6" y="720.7" font-size="14.6" textLength="25.8" lengthAdjust="spacingAndGlyphs">250</text>
<text x="933.6" y="673.9" font-size="14.6" textLength="25.8" lengthAdjust="spacingAndGlyphs">300</text>
<text x="933.6" y="627" font-size="14.6" textLength="25.8" lengthAdjust="spacingAndGlyphs">350</text>
<text x="933.6" y="580.2" font-size="14.6" textLength="25.8" lengthAdjust="spacingAndGlyphs">400</text>
<text x="1358.6" y="462.1" font-size="14.6" textLength="8.1" lengthAdjust="spacingAndGlyphs">0</text>
<text x="1358.6" y="413.2" font-size="14.6" textLength="8.1" lengthAdjust="spacingAndGlyphs">1</text>
<text x="1358.6" y="364.4" font-size="14.6" textLength="8.1" lengthAdjust="spacingAndGlyphs">2</text>
<text x="1358.6" y="315.5" font-size="14.6" textLength="8.1" lengthAdjust="spacingAndGlyphs">3</text>
<text x="1358.6" y="266.6" font-size="14.6" textLength="8.1" lengthAdjust="spacingAndGlyphs">4</text>
<text x="1358.6" y="217.7" font-size="14.6" textLength="8.1" lengthAdjust="spacingAndGlyphs">5</text>
<text x="1358.6" y="168.8" font-size="14.6" textLength="8.1" lengthAdjust="spacingAndGlyphs">6</text>
<text x="1358.6" y="120" font-size="14.6" textLength="8.1" lengthAdjust="spacingAndGlyphs">7</text>
<text x="1358.6" y="71.1" font-size="14.6" textLength="8.1" lengthAdjust="spacingAndGlyphs">8</text>
<text x="310" y="56.8" font-size="17.1" text-anchor="middle" textLength="46.4" lengthAdjust="spacingAndGlyphs">DOXY</text>
<text x="735" y="56.8" font-size="17.1" text-anchor="middle" textLength="140.2" lengthAdjust="spacingAndGlyphs">DOXY_ADJUSTED</text>
<text x="1160" y="56.8" font-size="17.1" text-anchor="middle" textLength="173" lengthAdjust="spacingAndGlyphs">DOXY_ADJUSTED_QC</text>
<text x="343.5" y="526.5" font-size="17.1" text-anchor="middle" textLength="203" lengthAdjust="spacingAndGlyphs">Mode. Blue=D, Red=RT,</text>
<text x="347" y="544" font-size="17.1" text-anchor="middle" textLength="214" lengthAdjust="spacingAndGlyphs">Gray=Real Time Adjusted</text>
<text x="733.5" y="525" font-size="17.1" text-anchor="middle" textLength="256" lengthAdjust="spacingAndGlyphs">DOXY_ADJUSTED_BGCArgoPlus</text>
<text x="734" y="544" font-size="17.1" text-anchor="middle" textLength="209" lengthAdjust="spacingAndGlyphs">Processing: F_DMonly_S_</text>
<text x="1196.5" y="544" font-size="17.1" text-anchor="middle" textLength="148.5" lengthAdjust="spacingAndGlyphs">Outliers Removed</text>
<text x="700" y="32" font-size="17.1" text-anchor="middle" textLength="414.5" lengthAdjust="spacingAndGlyphs">2903902, 162 profiles, 2024-03-22 to 2024-12-21</text>
</g>
</svg></body></html>
